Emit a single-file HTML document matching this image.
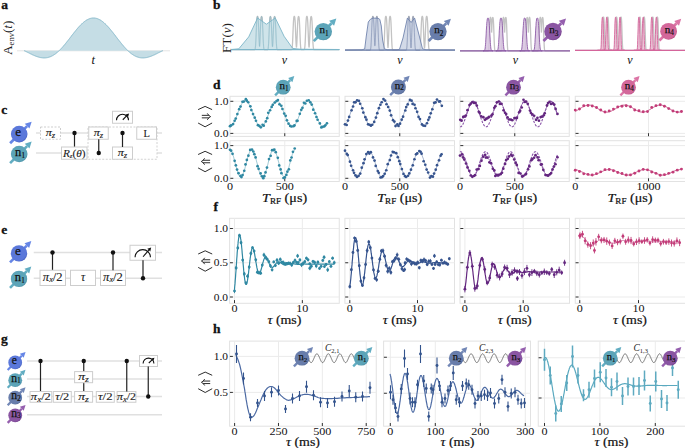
<!DOCTYPE html>
<html><head><meta charset="utf-8"><title>figure</title>
<style>html,body{margin:0;padding:0;background:#fff;width:685px;height:448px;overflow:hidden} svg{display:block}</style>
</head><body>
<svg width="685" height="448" viewBox="0 0 685 448"><defs><radialGradient id="ge" cx="0.42" cy="0.4" r="0.62"><stop offset="0" stop-color="#6f8ae2"/><stop offset="0.35" stop-color="#5b78da"/><stop offset="0.85" stop-color="#5b78da"/><stop offset="1" stop-color="#4660c0"/></radialGradient><radialGradient id="gn1" cx="0.42" cy="0.4" r="0.62"><stop offset="0" stop-color="#6eb0c2"/><stop offset="0.35" stop-color="#5ca4b8"/><stop offset="0.85" stop-color="#5ca4b8"/><stop offset="1" stop-color="#4a90a5"/></radialGradient><radialGradient id="gn2" cx="0.42" cy="0.4" r="0.62"><stop offset="0" stop-color="#7a8eb8"/><stop offset="0.35" stop-color="#687dab"/><stop offset="0.85" stop-color="#687dab"/><stop offset="1" stop-color="#566b98"/></radialGradient><radialGradient id="gn3" cx="0.42" cy="0.4" r="0.62"><stop offset="0" stop-color="#9a69b0"/><stop offset="0.35" stop-color="#8a55a2"/><stop offset="0.85" stop-color="#8a55a2"/><stop offset="1" stop-color="#74418e"/></radialGradient><radialGradient id="gn4" cx="0.42" cy="0.4" r="0.62"><stop offset="0" stop-color="#dc7ba8"/><stop offset="0.35" stop-color="#d3679a"/><stop offset="0.85" stop-color="#d3679a"/><stop offset="1" stop-color="#bf5588"/></radialGradient></defs><rect width="685" height="448" fill="#fff"/><text x="1.20" y="8.80" font-family="'Liberation Serif', serif" font-size="13.5" text-anchor="start" font-weight="bold" font-style="normal" fill="#111" stroke="#111" stroke-width="0.3">a</text>
<line x1="17" y1="50.8" x2="170" y2="50.8" stroke="#e4e4e4" stroke-width="1"/>
<path d="M24.0,50.6L24.5,50.8L24.9,51.0L25.4,51.2L25.9,51.5L26.3,51.7L26.8,51.9L27.2,52.1L27.7,52.4L28.2,52.6L28.6,52.8L29.1,53.1L29.6,53.3L30.0,53.5L30.5,53.8L30.9,54.0L31.4,54.2L31.9,54.4L32.3,54.7L32.8,54.9L33.3,55.1L33.7,55.3L34.2,55.5L34.7,55.7L35.1,55.9L35.6,56.1L36.0,56.2L36.5,56.4L37.0,56.6L37.4,56.7L37.9,56.9L38.4,57.0L38.8,57.2L39.3,57.3L39.8,57.4L40.2,57.5L40.7,57.6L41.1,57.7L41.6,57.7L42.1,57.8L42.5,57.8L43.0,57.9L43.5,57.9L43.9,57.9L44.4,57.9L44.9,57.9L45.3,57.9L45.8,57.8L46.2,57.8L46.7,57.7L47.2,57.6L47.6,57.6L48.1,57.4L48.6,57.3L49.0,57.2L49.5,57.0L49.9,56.9L50.4,56.7L50.9,56.5L51.3,56.3L51.8,56.1L52.3,55.8L52.7,55.6L53.2,55.3L53.7,55.0L54.1,54.7L54.6,54.4L55.0,54.1L55.5,53.8L56.0,53.4L56.4,53.1L56.9,52.7L57.4,52.3L57.8,51.9L58.3,51.5L58.8,51.0L59.2,50.6L59.7,50.1L60.1,49.7L60.6,49.2L61.1,48.7L61.5,48.2L62.0,47.7L62.5,47.2L62.9,46.7L63.4,46.2L63.8,45.6L64.3,45.1L64.8,44.5L65.2,43.9L65.7,43.4L66.2,42.8L66.6,42.2L67.1,41.6L67.6,41.0L68.0,40.5L68.5,39.9L68.9,39.3L69.4,38.7L69.9,38.1L70.3,37.5L70.8,36.9L71.3,36.2L71.7,35.6L72.2,35.0L72.7,34.4L73.1,33.8L73.6,33.3L74.0,32.7L74.5,32.1L75.0,31.5L75.4,30.9L75.9,30.4L76.4,29.8L76.8,29.2L77.3,28.7L77.7,28.1L78.2,27.6L78.7,27.1L79.1,26.6L79.6,26.1L80.1,25.6L80.5,25.1L81.0,24.6L81.5,24.2L81.9,23.8L82.4,23.3L82.8,22.9L83.3,22.5L83.8,22.1L84.2,21.8L84.7,21.4L85.2,21.1L85.6,20.7L86.1,20.4L86.5,20.1L87.0,19.9L87.5,19.6L87.9,19.4L88.4,19.2L88.9,19.0L89.3,18.8L89.8,18.6L90.3,18.5L90.7,18.3L91.2,18.2L91.6,18.2L92.1,18.1L92.6,18.0L93.0,18.0L93.5,18.0L94.0,18.0L94.4,18.0L94.9,18.1L95.4,18.2L95.8,18.2L96.3,18.3L96.7,18.5L97.2,18.6L97.7,18.8L98.1,19.0L98.6,19.2L99.1,19.4L99.5,19.6L100.0,19.9L100.5,20.1L100.9,20.4L101.4,20.7L101.8,21.1L102.3,21.4L102.8,21.8L103.2,22.1L103.7,22.5L104.2,22.9L104.6,23.3L105.1,23.8L105.5,24.2L106.0,24.6L106.5,25.1L106.9,25.6L107.4,26.1L107.9,26.6L108.3,27.1L108.8,27.6L109.3,28.1L109.7,28.7L110.2,29.2L110.6,29.8L111.1,30.4L111.6,30.9L112.0,31.5L112.5,32.1L113.0,32.7L113.4,33.3L113.9,33.8L114.3,34.4L114.8,35.0L115.3,35.6L115.7,36.2L116.2,36.9L116.7,37.5L117.1,38.1L117.6,38.7L118.1,39.3L118.5,39.9L119.0,40.5L119.4,41.0L119.9,41.6L120.4,42.2L120.8,42.8L121.3,43.4L121.8,43.9L122.2,44.5L122.7,45.1L123.2,45.6L123.6,46.2L124.1,46.7L124.5,47.2L125.0,47.7L125.5,48.2L125.9,48.7L126.4,49.2L126.9,49.7L127.3,50.1L127.8,50.6L128.2,51.0L128.7,51.5L129.2,51.9L129.6,52.3L130.1,52.7L130.6,53.1L131.0,53.4L131.5,53.8L132.0,54.1L132.4,54.4L132.9,54.7L133.3,55.0L133.8,55.3L134.3,55.6L134.7,55.8L135.2,56.1L135.7,56.3L136.1,56.5L136.6,56.7L137.1,56.9L137.5,57.0L138.0,57.2L138.4,57.3L138.9,57.4L139.4,57.6L139.8,57.6L140.3,57.7L140.8,57.8L141.2,57.8L141.7,57.9L142.2,57.9L142.6,57.9L143.1,57.9L143.5,57.9L144.0,57.9L144.5,57.8L144.9,57.8L145.4,57.7L145.9,57.7L146.3,57.6L146.8,57.5L147.2,57.4L147.7,57.3L148.2,57.2L148.6,57.0L149.1,56.9L149.6,56.7L150.0,56.6L150.5,56.4L151.0,56.2L151.4,56.1L151.9,55.9L152.3,55.7L152.8,55.5L153.3,55.3L153.7,55.1L154.2,54.9L154.7,54.7L155.1,54.4L155.6,54.2L156.1,54.0L156.5,53.8L157.0,53.5L157.4,53.3L157.9,53.1L158.4,52.8L158.8,52.6L159.3,52.4L159.8,52.1L160.2,51.9L160.7,51.7L161.1,51.5L161.6,51.2L162.1,51.0L162.5,50.8L163.0,50.6 L163,50.8 L24,50.8 Z" fill="#c5dde5"/>
<path d="M24.0,50.6L24.5,50.8L24.9,51.0L25.4,51.2L25.9,51.5L26.3,51.7L26.8,51.9L27.2,52.1L27.7,52.4L28.2,52.6L28.6,52.8L29.1,53.1L29.6,53.3L30.0,53.5L30.5,53.8L30.9,54.0L31.4,54.2L31.9,54.4L32.3,54.7L32.8,54.9L33.3,55.1L33.7,55.3L34.2,55.5L34.7,55.7L35.1,55.9L35.6,56.1L36.0,56.2L36.5,56.4L37.0,56.6L37.4,56.7L37.9,56.9L38.4,57.0L38.8,57.2L39.3,57.3L39.8,57.4L40.2,57.5L40.7,57.6L41.1,57.7L41.6,57.7L42.1,57.8L42.5,57.8L43.0,57.9L43.5,57.9L43.9,57.9L44.4,57.9L44.9,57.9L45.3,57.9L45.8,57.8L46.2,57.8L46.7,57.7L47.2,57.6L47.6,57.6L48.1,57.4L48.6,57.3L49.0,57.2L49.5,57.0L49.9,56.9L50.4,56.7L50.9,56.5L51.3,56.3L51.8,56.1L52.3,55.8L52.7,55.6L53.2,55.3L53.7,55.0L54.1,54.7L54.6,54.4L55.0,54.1L55.5,53.8L56.0,53.4L56.4,53.1L56.9,52.7L57.4,52.3L57.8,51.9L58.3,51.5L58.8,51.0L59.2,50.6L59.7,50.1L60.1,49.7L60.6,49.2L61.1,48.7L61.5,48.2L62.0,47.7L62.5,47.2L62.9,46.7L63.4,46.2L63.8,45.6L64.3,45.1L64.8,44.5L65.2,43.9L65.7,43.4L66.2,42.8L66.6,42.2L67.1,41.6L67.6,41.0L68.0,40.5L68.5,39.9L68.9,39.3L69.4,38.7L69.9,38.1L70.3,37.5L70.8,36.9L71.3,36.2L71.7,35.6L72.2,35.0L72.7,34.4L73.1,33.8L73.6,33.3L74.0,32.7L74.5,32.1L75.0,31.5L75.4,30.9L75.9,30.4L76.4,29.8L76.8,29.2L77.3,28.7L77.7,28.1L78.2,27.6L78.7,27.1L79.1,26.6L79.6,26.1L80.1,25.6L80.5,25.1L81.0,24.6L81.5,24.2L81.9,23.8L82.4,23.3L82.8,22.9L83.3,22.5L83.8,22.1L84.2,21.8L84.7,21.4L85.2,21.1L85.6,20.7L86.1,20.4L86.5,20.1L87.0,19.9L87.5,19.6L87.9,19.4L88.4,19.2L88.9,19.0L89.3,18.8L89.8,18.6L90.3,18.5L90.7,18.3L91.2,18.2L91.6,18.2L92.1,18.1L92.6,18.0L93.0,18.0L93.5,18.0L94.0,18.0L94.4,18.0L94.9,18.1L95.4,18.2L95.8,18.2L96.3,18.3L96.7,18.5L97.2,18.6L97.7,18.8L98.1,19.0L98.6,19.2L99.1,19.4L99.5,19.6L100.0,19.9L100.5,20.1L100.9,20.4L101.4,20.7L101.8,21.1L102.3,21.4L102.8,21.8L103.2,22.1L103.7,22.5L104.2,22.9L104.6,23.3L105.1,23.8L105.5,24.2L106.0,24.6L106.5,25.1L106.9,25.6L107.4,26.1L107.9,26.6L108.3,27.1L108.8,27.6L109.3,28.1L109.7,28.7L110.2,29.2L110.6,29.8L111.1,30.4L111.6,30.9L112.0,31.5L112.5,32.1L113.0,32.7L113.4,33.3L113.9,33.8L114.3,34.4L114.8,35.0L115.3,35.6L115.7,36.2L116.2,36.9L116.7,37.5L117.1,38.1L117.6,38.7L118.1,39.3L118.5,39.9L119.0,40.5L119.4,41.0L119.9,41.6L120.4,42.2L120.8,42.8L121.3,43.4L121.8,43.9L122.2,44.5L122.7,45.1L123.2,45.6L123.6,46.2L124.1,46.7L124.5,47.2L125.0,47.7L125.5,48.2L125.9,48.7L126.4,49.2L126.9,49.7L127.3,50.1L127.8,50.6L128.2,51.0L128.7,51.5L129.2,51.9L129.6,52.3L130.1,52.7L130.6,53.1L131.0,53.4L131.5,53.8L132.0,54.1L132.4,54.4L132.9,54.7L133.3,55.0L133.8,55.3L134.3,55.6L134.7,55.8L135.2,56.1L135.7,56.3L136.1,56.5L136.6,56.7L137.1,56.9L137.5,57.0L138.0,57.2L138.4,57.3L138.9,57.4L139.4,57.6L139.8,57.6L140.3,57.7L140.8,57.8L141.2,57.8L141.7,57.9L142.2,57.9L142.6,57.9L143.1,57.9L143.5,57.9L144.0,57.9L144.5,57.8L144.9,57.8L145.4,57.7L145.9,57.7L146.3,57.6L146.8,57.5L147.2,57.4L147.7,57.3L148.2,57.2L148.6,57.0L149.1,56.9L149.6,56.7L150.0,56.6L150.5,56.4L151.0,56.2L151.4,56.1L151.9,55.9L152.3,55.7L152.8,55.5L153.3,55.3L153.7,55.1L154.2,54.9L154.7,54.7L155.1,54.4L155.6,54.2L156.1,54.0L156.5,53.8L157.0,53.5L157.4,53.3L157.9,53.1L158.4,52.8L158.8,52.6L159.3,52.4L159.8,52.1L160.2,51.9L160.7,51.7L161.1,51.5L161.6,51.2L162.1,51.0L162.5,50.8L163.0,50.6" fill="none" stroke="#86b9cb" stroke-width="1"/>
<text x="93.30" y="64.30" font-family="'Liberation Serif', serif" font-size="12.5" text-anchor="middle" font-weight="normal" font-style="italic" fill="#111" >t</text>
<text transform="translate(12.3,55) rotate(-90)" font-family="'Liberation Serif', serif" font-size="12.5" fill="#222" textLength="34.5" lengthAdjust="spacingAndGlyphs">A<tspan font-size="8" dy="1.8">env</tspan><tspan dy="-1.8">(</tspan><tspan font-style="italic">t</tspan>)</text>
<text x="213.00" y="9.20" font-family="'Liberation Serif', serif" font-size="13.5" text-anchor="start" font-weight="bold" font-style="normal" fill="#111" stroke="#111" stroke-width="0.3">b</text>
<text transform="translate(231,38) rotate(-90)" font-family="'Liberation Serif', serif" font-size="12.5" text-anchor="middle" fill="#222" textLength="30" lengthAdjust="spacingAndGlyphs">FT(<tspan font-style="italic">ν</tspan>)</text>
<path d="M231.0,49.6L231.2,49.6L231.4,49.6L231.6,49.6L231.8,49.6L232.0,49.6L232.2,49.6L232.4,49.6L232.6,49.6L232.8,49.6L233.0,49.6L233.2,49.6L233.4,49.6L233.6,49.6L233.8,49.6L234.0,49.6L234.2,49.6L234.4,49.6L234.6,49.6L234.8,49.6L235.0,49.6L235.2,49.6L235.4,49.6L235.6,49.6L235.8,49.6L236.0,49.6L236.2,49.6L236.4,49.6L236.6,49.6L236.8,49.6L237.0,49.6L237.2,49.6L237.4,49.6L237.6,49.6L237.8,49.6L238.0,49.6L238.2,49.6L238.4,49.6L238.6,49.6L238.8,49.6L239.0,49.6L239.2,49.6L239.4,49.6L239.6,49.6L239.8,49.6L240.0,49.6L240.2,49.6L240.4,49.6L240.6,49.6L240.8,49.6L241.0,49.6L241.2,49.6L241.4,49.6L241.6,49.6L241.8,49.6L242.0,49.6L242.2,49.6L242.4,49.6L242.6,49.6L242.8,49.6L243.0,49.6L243.2,49.6L243.4,49.6L243.6,49.6L243.8,49.6L244.0,49.6L244.2,49.6L244.4,49.6L244.6,49.6L244.8,49.6L245.0,49.6L245.2,49.6L245.4,49.6L245.6,49.6L245.8,49.6L246.0,49.6L246.2,49.6L246.4,49.6L246.6,49.6L246.8,49.6L247.0,49.6L247.2,49.6L247.4,49.6L247.6,49.6L247.8,49.6L248.0,49.6L248.2,49.6L248.4,49.6L248.6,49.6L248.8,49.6L249.0,49.6L249.2,49.6L249.4,49.6L249.6,49.6L249.8,49.6L250.0,49.6L250.2,49.6L250.4,49.6L250.6,49.6L250.8,49.6L251.0,49.6L251.2,49.6L251.4,49.6L251.6,49.6L251.8,49.6L252.0,49.6L252.2,49.6L252.4,49.6L252.6,49.6L252.8,49.6L253.0,49.6L253.2,49.6L253.4,49.6L253.6,49.6L253.8,49.6L254.0,49.6L254.2,49.6L254.4,49.6L254.6,49.6L254.8,49.5L255.0,49.3L255.2,48.7L255.4,47.5L255.6,45.3L255.8,41.9L256.0,37.4L256.2,32.3L256.4,27.3L256.6,22.9L256.8,19.7L257.0,17.7L257.2,16.8L257.4,16.5L257.6,16.5L257.8,16.8L258.0,17.7L258.2,19.7L258.4,22.9L258.6,27.3L258.8,32.3L259.0,37.4L259.2,41.9L259.4,45.3L259.6,46.5L259.8,43.7L260.0,39.8L260.2,34.9L260.4,29.8L260.6,25.0L260.8,21.2L261.0,18.6L261.2,17.1L261.4,16.6L261.6,16.5L261.8,16.6L262.0,17.1L262.2,18.6L262.4,21.2L262.6,25.0L262.8,29.8L263.0,34.9L263.2,39.8L263.4,43.7L263.6,46.5L263.8,48.2L264.0,49.0L264.2,49.4L264.4,49.6L264.6,49.6L264.8,49.6L265.0,49.6L265.2,49.6L265.4,49.6L265.6,49.6L265.8,49.6L266.0,49.6L266.2,49.6L266.4,49.6L266.6,49.6L266.8,49.6L267.0,49.6L267.2,49.6L267.4,49.6L267.6,49.6L267.8,49.4L268.0,49.0L268.2,48.2L268.4,46.5L268.6,43.7L268.8,39.8L269.0,34.9L269.2,29.8L269.4,25.0L269.6,21.2L269.8,18.6L270.0,17.1L270.2,16.6L270.4,16.5L270.6,16.6L270.8,17.1L271.0,18.6L271.2,21.2L271.4,25.0L271.6,29.8L271.8,34.9L272.0,39.8L272.2,43.7L272.4,46.5L272.6,46.5L272.8,43.7L273.0,39.8L273.2,34.9L273.4,29.8L273.6,25.0L273.8,21.2L274.0,18.6L274.2,17.1L274.4,16.6L274.6,16.5L274.8,16.6L275.0,17.1L275.2,18.6L275.4,21.2L275.6,25.0L275.8,29.8L276.0,34.9L276.2,39.8L276.4,43.7L276.6,46.5L276.8,48.2L277.0,49.0L277.2,49.4L277.4,49.6L277.6,49.6L277.8,49.6L278.0,49.6L278.2,49.6L278.4,49.6L278.6,49.6L278.8,49.6L279.0,49.6L279.2,49.6L279.4,49.6L279.6,49.6L279.8,49.6L280.0,49.6L280.2,49.6L280.4,49.6L280.6,49.6L280.8,49.6L281.0,49.6L281.2,49.6L281.4,49.6L281.6,49.6L281.8,49.6L282.0,49.6L282.2,49.6L282.4,49.6L282.6,49.6L282.8,49.6L283.0,49.6L283.2,49.6L283.4,49.6L283.6,49.6L283.8,49.6L284.0,49.6L284.2,49.6L284.4,49.6L284.6,49.6L284.8,49.6L285.0,49.6L285.2,49.6L285.4,49.6L285.6,49.6L285.8,49.6L286.0,49.6L286.2,49.6L286.4,49.6L286.6,49.6L286.8,49.6L287.0,49.6L287.2,49.6L287.4,49.6L287.6,49.6L287.8,49.6L288.0,49.6L288.2,49.6L288.4,49.6L288.6,49.6L288.8,49.6L289.0,49.6L289.2,49.6L289.4,49.6L289.6,49.6L289.8,49.6L290.0,49.6L290.2,49.6L290.4,49.6L290.6,49.6L290.8,49.6L291.0,49.6L291.2,49.6L291.4,49.6L291.6,49.5L291.8,49.3L292.0,48.7L292.2,47.5L292.4,45.3L292.6,41.9L292.8,37.4L293.0,32.3L293.2,27.3L293.4,22.9L293.6,19.7L293.8,17.7L294.0,16.8L294.2,16.5L294.4,16.5L294.6,16.8L294.8,17.7L295.0,19.7L295.2,22.9L295.4,27.3L295.6,32.3L295.8,37.4L296.0,41.9L296.2,45.3L296.4,47.5L296.6,46.5L296.8,43.7L297.0,39.8L297.2,34.9L297.4,29.8L297.6,25.0L297.8,21.2L298.0,18.6L298.2,17.1L298.4,16.6L298.6,16.5L298.8,16.6L299.0,17.1L299.2,18.6L299.4,21.2L299.6,25.0L299.8,29.8L300.0,34.9L300.2,39.8L300.4,43.7L300.6,46.5L300.8,48.2L301.0,49.0L301.2,49.4L301.4,49.6L301.6,49.6L301.8,49.6L302.0,49.6L302.2,49.6L302.4,49.6L302.6,49.6L302.8,49.6L303.0,49.6L303.2,49.6L303.4,49.6L303.6,49.6L303.8,49.6L304.0,49.6L304.2,49.5L304.4,49.3L304.6,48.7L304.8,47.5L305.0,45.3L305.2,41.9L305.4,37.4L305.6,32.3L305.8,27.3L306.0,22.9L306.2,19.7L306.4,17.7L306.6,16.8L306.8,16.5L307.0,16.5L307.2,16.8L307.4,17.7L307.6,19.7L307.8,22.9L308.0,27.3L308.2,32.3L308.4,37.4L308.6,41.9L308.8,45.3L309.0,47.5L309.2,46.5L309.4,43.7L309.6,39.8L309.8,34.9L310.0,29.8L310.2,25.0L310.4,21.2L310.6,18.6L310.8,17.1L311.0,16.6L311.2,16.5L311.4,16.6L311.6,17.1L311.8,18.6L312.0,21.2L312.2,25.0L312.4,29.8L312.6,34.9L312.8,39.8L313.0,43.7L313.2,46.5L313.4,48.2L313.6,49.0L313.8,49.4L314.0,49.6L314.2,49.6L314.4,49.6L314.6,49.6L314.8,49.6L315.0,49.6L315.2,49.6L315.4,49.6L315.6,49.6L315.8,49.6L316.0,49.6L316.2,49.6L316.4,49.6L316.6,49.6L316.8,49.6L317.0,49.6L317.2,49.6L317.4,49.6L317.6,49.6L317.8,49.6L318.0,49.6L318.2,49.6L318.4,49.6L318.6,49.6L318.8,49.6L319.0,49.6L319.2,49.6L319.4,49.6L319.6,49.6L319.8,49.6L320.0,49.6L320.2,49.6L320.4,49.6L320.6,49.6L320.8,49.6L321.0,49.6L321.2,49.6L321.4,49.6L321.6,49.6L321.8,49.6L322.0,49.6L322.2,49.6L322.4,49.6L322.6,49.6L322.8,49.6L323.0,49.6L323.2,49.6L323.4,49.6L323.6,49.6L323.8,49.6L324.0,49.6L324.2,49.6L324.4,49.6L324.6,49.6L324.8,49.6L325.0,49.6L325.2,49.6L325.4,49.6L325.6,49.6L325.8,49.6L326.0,49.6L326.2,49.6L326.4,49.6L326.6,49.6L326.8,49.6L327.0,49.6L327.2,49.6L327.4,49.6L327.6,49.6L327.8,49.6L328.0,49.6L328.2,49.6L328.4,49.6L328.6,49.6L328.8,49.6L329.0,49.6L329.2,49.6L329.4,49.6L329.6,49.6L329.8,49.6L330.0,49.6L330.2,49.6L330.4,49.6L330.6,49.6L330.8,49.6L331.0,49.6L331.2,49.6L331.4,49.6L331.6,49.6L331.8,49.6L332.0,49.6L332.2,49.6L332.4,49.6L332.6,49.6L332.8,49.6L333.0,49.6L333.2,49.6L333.4,49.6L333.6,49.6L333.8,49.6L334.0,49.6L334.2,49.6L334.4,49.6L334.6,49.6L334.8,49.6L335.0,49.6L335.2,49.6L335.4,49.6L335.6,49.6L335.8,49.6L336.0,49.6L336.2,49.6L336.4,49.6L336.6,49.6L336.8,49.6L337.0,49.6L337.2,49.6L337.4,49.6L337.6,49.6L337.8,49.6L338.0,49.6L338.2,49.6L338.4,49.6L338.6,49.6L338.8,49.6L339.0,49.6" fill="none" stroke="#c3c3c3" stroke-width="1.3"/>
<path d="M231.0,49.5L238.8,48.8L248.7,36.9L257.6,18.0L266.4,24.2L275.3,18.0L284.1,36.3L292.7,48.4L300.0,49.2L339.5,49.5 L339.50,49.6 L231.00,49.6 Z" fill="#c2dce4" fill-opacity="0.78"/>
<path d="M231.0,49.5L238.8,48.8L248.7,36.9L257.6,18.0L266.4,24.2L275.3,18.0L284.1,36.3L292.7,48.4L300.0,49.2L339.5,49.5" fill="none" stroke="#7db5c8" stroke-width="0.9"/>
<path d="M250.0,49.6L250.2,49.6L250.4,49.6L250.6,49.6L250.8,49.6L251.0,49.6L251.2,49.6L251.4,49.6L251.6,49.6L251.8,49.6L252.0,49.6L252.2,49.6L252.4,49.6L252.6,49.6L252.8,49.6L253.0,49.6L253.2,49.6L253.4,49.6L253.6,49.6L253.8,49.6L254.0,49.6L254.2,49.6L254.4,49.6L254.6,49.6L254.8,49.5L255.0,49.3L255.2,48.7L255.4,47.5L255.6,45.3L255.8,41.9L256.0,37.4L256.2,32.3L256.4,27.3L256.6,22.9L256.8,19.7L257.0,17.7L257.2,16.8L257.4,16.5L257.6,16.5L257.8,16.8L258.0,17.7L258.2,19.7L258.4,22.9L258.6,27.3L258.8,32.3L259.0,37.4L259.2,41.9L259.4,45.3L259.6,46.5L259.8,43.7L260.0,39.8L260.2,34.9L260.4,29.8L260.6,25.0L260.8,21.2L261.0,18.6L261.2,17.1L261.4,16.6L261.6,16.5L261.8,16.6L262.0,17.1L262.2,18.6L262.4,21.2L262.6,25.0L262.8,29.8L263.0,34.9L263.2,39.8L263.4,43.7L263.6,46.5L263.8,48.2L264.0,49.0L264.2,49.4L264.4,49.6L264.6,49.6L264.8,49.6L265.0,49.6L265.2,49.6L265.4,49.6L265.6,49.6L265.8,49.6L266.0,49.6L266.2,49.6L266.4,49.6L266.6,49.6L266.8,49.6L267.0,49.6L267.2,49.6L267.4,49.6L267.6,49.6L267.8,49.4L268.0,49.0L268.2,48.2L268.4,46.5L268.6,43.7L268.8,39.8L269.0,34.9L269.2,29.8L269.4,25.0L269.6,21.2L269.8,18.6L270.0,17.1L270.2,16.6L270.4,16.5L270.6,16.6L270.8,17.1L271.0,18.6L271.2,21.2L271.4,25.0L271.6,29.8L271.8,34.9L272.0,39.8L272.2,43.7L272.4,46.5L272.6,46.5L272.8,43.7L273.0,39.8L273.2,34.9L273.4,29.8L273.6,25.0L273.8,21.2L274.0,18.6L274.2,17.1L274.4,16.6L274.6,16.5L274.8,16.6L275.0,17.1L275.2,18.6L275.4,21.2L275.6,25.0L275.8,29.8L276.0,34.9L276.2,39.8L276.4,43.7L276.6,46.5L276.8,48.2L277.0,49.0L277.2,49.4L277.4,49.6L277.6,49.6L277.8,49.6L278.0,49.6L278.2,49.6L278.4,49.6L278.6,49.6L278.8,49.6L279.0,49.6L279.2,49.6L279.4,49.6L279.6,49.6L279.8,49.6L280.0,49.6L280.2,49.6L280.4,49.6L280.6,49.6L280.8,49.6L281.0,49.6L281.2,49.6L281.4,49.6L281.6,49.6L281.8,49.6L282.0,49.6" fill="none" stroke="#7db5c8" stroke-opacity="0.5" stroke-width="1"/>
<line x1="231" y1="49.6" x2="339.5" y2="49.6" stroke="#7db5c8" stroke-width="1.1"/>
<line x1="313.76" y1="41.14" x2="331.60" y2="23.30" stroke="#62adc2" stroke-width="2.78"/>
<polygon points="336.34,18.56 334.07,25.76 329.14,20.83" fill="#62adc2"/>
<circle cx="323.30" cy="31.60" r="8.70" fill="url(#gn1)"/>
<text x="319.54" y="33.43" font-family="'Liberation Serif', serif" font-size="11.00" fill="#111" stroke="#111" stroke-width="0.25">n<tspan font-size="7.26" dy="2.17" stroke-width="0.15">1</tspan></text>
<text x="284.50" y="64.00" font-family="'Liberation Serif', serif" font-size="12" text-anchor="middle" font-weight="normal" font-style="italic" fill="#111" >ν</text>
<path d="M345.0,50.1L345.2,50.1L345.4,50.1L345.6,50.1L345.8,50.1L346.0,50.1L346.2,50.1L346.4,50.1L346.6,50.1L346.8,50.1L347.0,50.1L347.2,50.1L347.4,50.1L347.6,50.1L347.8,50.1L348.0,50.1L348.2,50.1L348.4,50.1L348.6,50.1L348.8,50.1L349.0,50.1L349.2,50.1L349.4,50.1L349.6,50.1L349.8,50.1L350.0,50.1L350.2,50.1L350.4,50.1L350.6,50.1L350.8,50.1L351.0,50.1L351.2,50.1L351.4,50.1L351.6,50.1L351.8,50.1L352.0,50.1L352.2,50.1L352.4,50.1L352.6,50.1L352.8,50.1L353.0,50.1L353.2,50.1L353.4,50.1L353.6,50.1L353.8,50.1L354.0,50.1L354.2,50.1L354.4,50.1L354.6,50.1L354.8,50.1L355.0,50.1L355.2,50.1L355.4,50.1L355.6,50.1L355.8,50.1L356.0,50.1L356.2,50.1L356.4,50.1L356.6,50.1L356.8,50.1L357.0,50.1L357.2,50.1L357.4,50.1L357.6,50.1L357.8,50.1L358.0,50.1L358.2,50.1L358.4,50.1L358.6,50.1L358.8,50.1L359.0,50.1L359.2,50.1L359.4,50.1L359.6,50.1L359.8,50.1L360.0,50.1L360.2,50.1L360.4,50.1L360.6,50.1L360.8,50.1L361.0,50.1L361.2,50.1L361.4,50.1L361.6,50.1L361.8,50.1L362.0,50.1L362.2,50.1L362.4,50.1L362.6,50.1L362.8,50.1L363.0,50.1L363.2,50.1L363.4,50.1L363.6,50.1L363.8,50.1L364.0,50.1L364.2,50.1L364.4,50.1L364.6,50.1L364.8,50.1L365.0,50.1L365.2,50.1L365.4,50.1L365.6,50.1L365.8,50.1L366.0,50.1L366.2,50.1L366.4,50.1L366.6,50.1L366.8,50.1L367.0,50.1L367.2,50.1L367.4,50.1L367.6,50.1L367.8,50.1L368.0,50.1L368.2,50.1L368.4,50.1L368.6,50.1L368.8,50.1L369.0,50.1L369.2,50.1L369.4,50.1L369.6,50.1L369.8,50.1L370.0,50.1L370.2,50.0L370.4,49.8L370.6,49.2L370.8,47.9L371.0,45.7L371.2,42.3L371.4,37.7L371.6,32.6L371.8,27.5L372.0,23.0L372.2,19.7L372.4,17.7L372.6,16.8L372.8,16.5L373.0,16.5L373.2,16.8L373.4,17.7L373.6,19.7L373.8,23.0L374.0,27.5L374.2,32.6L374.4,37.7L374.6,42.3L374.8,45.7L375.0,45.7L375.2,42.3L375.4,37.7L375.6,32.6L375.8,27.5L376.0,23.0L376.2,19.7L376.4,17.7L376.6,16.8L376.8,16.5L377.0,16.5L377.2,16.8L377.4,17.7L377.6,19.7L377.8,23.0L378.0,27.5L378.2,32.6L378.4,37.7L378.6,42.3L378.8,45.7L379.0,47.9L379.2,49.2L379.4,49.8L379.6,50.0L379.8,50.1L380.0,50.1L380.2,50.1L380.4,50.1L380.6,50.1L380.8,50.1L381.0,50.1L381.2,50.1L381.4,50.1L381.6,50.1L381.8,50.1L382.0,50.1L382.2,50.1L382.4,50.1L382.6,50.1L382.8,50.1L383.0,50.1L383.2,50.0L383.4,49.8L383.6,49.2L383.8,47.9L384.0,45.7L384.2,42.3L384.4,37.7L384.6,32.6L384.8,27.5L385.0,23.0L385.2,19.7L385.4,17.7L385.6,16.8L385.8,16.5L386.0,16.5L386.2,16.8L386.4,17.7L386.6,19.7L386.8,23.0L387.0,27.5L387.2,32.6L387.4,37.7L387.6,42.3L387.8,45.7L388.0,47.9L388.2,45.7L388.4,42.3L388.6,37.7L388.8,32.6L389.0,27.5L389.2,23.0L389.4,19.7L389.6,17.7L389.8,16.8L390.0,16.5L390.2,16.5L390.4,16.8L390.6,17.7L390.8,19.7L391.0,23.0L391.2,27.5L391.4,32.6L391.6,37.7L391.8,42.3L392.0,45.7L392.2,47.9L392.4,49.2L392.6,49.8L392.8,50.0L393.0,50.1L393.2,50.1L393.4,50.1L393.6,50.1L393.8,50.1L394.0,50.1L394.2,50.1L394.4,50.1L394.6,50.1L394.8,50.1L395.0,50.1L395.2,50.1L395.4,50.1L395.6,50.1L395.8,50.1L396.0,50.1L396.2,50.1L396.4,50.1L396.6,50.1L396.8,50.1L397.0,50.1L397.2,50.1L397.4,50.1L397.6,50.1L397.8,50.1L398.0,50.1L398.2,50.1L398.4,50.1L398.6,50.1L398.8,50.1L399.0,50.1L399.2,50.1L399.4,50.1L399.6,50.1L399.8,50.1L400.0,50.1L400.2,50.1L400.4,50.1L400.6,50.1L400.8,50.1L401.0,50.1L401.2,50.1L401.4,50.1L401.6,50.1L401.8,50.1L402.0,50.1L402.2,50.1L402.4,50.1L402.6,50.1L402.8,50.1L403.0,50.1L403.2,50.1L403.4,50.1L403.6,50.1L403.8,50.1L404.0,50.1L404.2,50.1L404.4,50.1L404.6,50.1L404.8,50.1L405.0,50.1L405.2,50.1L405.4,50.1L405.6,50.1L405.8,50.1L406.0,50.1L406.2,50.0L406.4,49.8L406.6,49.2L406.8,47.9L407.0,45.7L407.2,42.3L407.4,37.7L407.6,32.6L407.8,27.5L408.0,23.0L408.2,19.7L408.4,17.7L408.6,16.8L408.8,16.5L409.0,16.5L409.2,16.8L409.4,17.7L409.6,19.7L409.8,23.0L410.0,27.5L410.2,32.6L410.4,37.7L410.6,42.3L410.8,45.7L411.0,47.9L411.2,45.7L411.4,42.3L411.6,37.7L411.8,32.6L412.0,27.5L412.2,23.0L412.4,19.7L412.6,17.7L412.8,16.8L413.0,16.5L413.2,16.5L413.4,16.8L413.6,17.7L413.8,19.7L414.0,23.0L414.2,27.5L414.4,32.6L414.6,37.7L414.8,42.3L415.0,45.7L415.2,47.9L415.4,49.2L415.6,49.8L415.8,50.0L416.0,50.1L416.2,50.1L416.4,50.1L416.6,50.1L416.8,50.1L417.0,50.1L417.2,50.1L417.4,50.1L417.6,50.1L417.8,50.1L418.0,50.1L418.2,50.1L418.4,50.1L418.6,50.1L418.8,50.1L419.0,50.1L419.2,50.1L419.4,50.1L419.6,50.0L419.8,49.8L420.0,49.2L420.2,47.9L420.4,45.7L420.6,42.3L420.8,37.7L421.0,32.6L421.2,27.5L421.4,23.0L421.6,19.7L421.8,17.7L422.0,16.8L422.2,16.5L422.4,16.5L422.6,16.8L422.8,17.7L423.0,19.7L423.2,23.0L423.4,27.5L423.6,32.6L423.8,37.7L424.0,42.3L424.2,45.7L424.4,47.9L424.6,47.9L424.8,45.7L425.0,42.3L425.2,37.7L425.4,32.6L425.6,27.5L425.8,23.0L426.0,19.7L426.2,17.7L426.4,16.8L426.6,16.5L426.8,16.5L427.0,16.8L427.2,17.7L427.4,19.7L427.6,23.0L427.8,27.5L428.0,32.6L428.2,37.7L428.4,42.3L428.6,45.7L428.8,47.9L429.0,49.2L429.2,49.8L429.4,50.0L429.6,50.1L429.8,50.1L430.0,50.1L430.2,50.1L430.4,50.1L430.6,50.1L430.8,50.1L431.0,50.1L431.2,50.1L431.4,50.1L431.6,50.1L431.8,50.1L432.0,50.1L432.2,50.1L432.4,50.1L432.6,50.1L432.8,50.1L433.0,50.1L433.2,50.1L433.4,50.1L433.6,50.1L433.8,50.1L434.0,50.1L434.2,50.1L434.4,50.1L434.6,50.1L434.8,50.1L435.0,50.1L435.2,50.1L435.4,50.1L435.6,50.1L435.8,50.1L436.0,50.1L436.2,50.1L436.4,50.1L436.6,50.1L436.8,50.1L437.0,50.1L437.2,50.1L437.4,50.1L437.6,50.1L437.8,50.1L438.0,50.1L438.2,50.1L438.4,50.1L438.6,50.1L438.8,50.1L439.0,50.1L439.2,50.1L439.4,50.1L439.6,50.1L439.8,50.1L440.0,50.1L440.2,50.1L440.4,50.1L440.6,50.1L440.8,50.1L441.0,50.1L441.2,50.1L441.4,50.1L441.6,50.1L441.8,50.1L442.0,50.1L442.2,50.1L442.4,50.1L442.6,50.1L442.8,50.1L443.0,50.1L443.2,50.1L443.4,50.1L443.6,50.1L443.8,50.1L444.0,50.1L444.2,50.1L444.4,50.1L444.6,50.1L444.8,50.1L445.0,50.1L445.2,50.1L445.4,50.1L445.6,50.1L445.8,50.1L446.0,50.1L446.2,50.1L446.4,50.1L446.6,50.1L446.8,50.1L447.0,50.1L447.2,50.1L447.4,50.1L447.6,50.1L447.8,50.1L448.0,50.1L448.2,50.1L448.4,50.1L448.6,50.1L448.8,50.1L449.0,50.1L449.2,50.1L449.4,50.1L449.6,50.1L449.8,50.1L450.0,50.1L450.2,50.1L450.4,50.1L450.6,50.1L450.8,50.1L451.0,50.1L451.2,50.1L451.4,50.1L451.6,50.1L451.8,50.1L452.0,50.1L452.2,50.1L452.4,50.1L452.6,50.1L452.8,50.1L453.0,50.1L453.2,50.1L453.4,50.1L453.6,50.1L453.8,50.1L454.0,50.1L454.2,50.1L454.4,50.1L454.6,50.1L454.8,50.1L455.0,50.1" fill="none" stroke="#c3c3c3" stroke-width="1.3"/>
<path d="M345.0,50.0L362.0,49.8L364.7,49.0L366.3,36.0L368.3,22.0L370.5,19.2L373.3,18.1L378.0,18.3L379.8,19.4L381.3,26.0L382.6,40.0L384.4,48.8L387.0,49.8L397.0,49.8L399.5,49.3L403.0,38.0L407.4,18.1L411.1,22.5L414.6,18.1L418.5,33.0L422.5,48.8L426.0,49.8L455.0,50.0 L455.00,50.1 L345.00,50.1 Z" fill="#c6cfe1" fill-opacity="0.78"/>
<path d="M345.0,50.0L362.0,49.8L364.7,49.0L366.3,36.0L368.3,22.0L370.5,19.2L373.3,18.1L378.0,18.3L379.8,19.4L381.3,26.0L382.6,40.0L384.4,48.8L387.0,49.8L397.0,49.8L399.5,49.3L403.0,38.0L407.4,18.1L411.1,22.5L414.6,18.1L418.5,33.0L422.5,48.8L426.0,49.8L455.0,50.0" fill="none" stroke="#7284ae" stroke-width="0.9"/>
<path d="M366.0,50.1L366.2,50.1L366.4,50.1L366.6,50.1L366.8,50.1L367.0,50.1L367.2,50.1L367.4,50.1L367.6,50.1L367.8,50.1L368.0,50.1L368.2,50.1L368.4,50.1L368.6,50.1L368.8,50.1L369.0,50.1L369.2,50.1L369.4,50.1L369.6,50.1L369.8,50.1L370.0,50.1L370.2,50.0L370.4,49.8L370.6,49.2L370.8,47.9L371.0,45.7L371.2,42.3L371.4,37.7L371.6,32.6L371.8,27.5L372.0,23.0L372.2,19.7L372.4,17.7L372.6,16.8L372.8,16.5L373.0,16.5L373.2,16.8L373.4,17.7L373.6,19.7L373.8,23.0L374.0,27.5L374.2,32.6L374.4,37.7L374.6,42.3L374.8,45.7L375.0,45.7L375.2,42.3L375.4,37.7L375.6,32.6L375.8,27.5L376.0,23.0L376.2,19.7L376.4,17.7L376.6,16.8L376.8,16.5L377.0,16.5L377.2,16.8L377.4,17.7L377.6,19.7L377.8,23.0L378.0,27.5L378.2,32.6L378.4,37.7L378.6,42.3L378.8,45.7L379.0,47.9L379.2,49.2L379.4,49.8L379.6,50.0L379.8,50.1L380.0,50.1L380.2,50.1L380.4,50.1L380.6,50.1L380.8,50.1L381.0,50.1L381.2,50.1L381.4,50.1L381.6,50.1L381.8,50.1L382.0,50.1L382.2,50.1L382.4,50.1L382.6,50.1L382.8,50.1L383.0,50.1L383.2,50.1L383.4,50.1L383.6,50.1L383.8,50.1L384.0,50.1L384.2,50.1L384.4,50.1L384.6,50.1L384.8,50.1L385.0,50.1L385.2,50.1L385.4,50.1L385.6,50.1L385.8,50.1L386.0,50.1L386.2,50.1L386.4,50.1L386.6,50.1L386.8,50.1L387.0,50.1L387.2,50.1L387.4,50.1L387.6,50.1L387.8,50.1L388.0,50.1L388.2,50.1L388.4,50.1L388.6,50.1L388.8,50.1L389.0,50.1L389.2,50.1L389.4,50.1L389.6,50.1L389.8,50.1L390.0,50.1L390.2,50.1L390.4,50.1L390.6,50.1L390.8,50.1L391.0,50.1L391.2,50.1L391.4,50.1L391.6,50.1L391.8,50.1L392.0,50.1L392.2,50.1L392.4,50.1L392.6,50.1L392.8,50.1L393.0,50.1L393.2,50.1L393.4,50.1L393.6,50.1L393.8,50.1L394.0,50.1L394.2,50.1L394.4,50.1L394.6,50.1L394.8,50.1L395.0,50.1L395.2,50.1L395.4,50.1L395.6,50.1L395.8,50.1L396.0,50.1L396.2,50.1L396.4,50.1L396.6,50.1L396.8,50.1L397.0,50.1L397.2,50.1L397.4,50.1L397.6,50.1L397.8,50.1L398.0,50.1L398.2,50.1L398.4,50.1L398.6,50.1L398.8,50.1L399.0,50.1L399.2,50.1L399.4,50.1L399.6,50.1L399.8,50.1L400.0,50.1L400.2,50.1L400.4,50.1L400.6,50.1L400.8,50.1L401.0,50.1L401.2,50.1L401.4,50.1L401.6,50.1L401.8,50.1L402.0,50.1L402.2,50.1L402.4,50.1L402.6,50.1L402.8,50.1L403.0,50.1L403.2,50.1L403.4,50.1L403.6,50.1L403.8,50.1L404.0,50.1L404.2,50.1L404.4,50.1L404.6,50.1L404.8,50.1L405.0,50.1L405.2,50.1L405.4,50.1L405.6,50.1L405.8,50.1L406.0,50.1L406.2,50.0L406.4,49.8L406.6,49.2L406.8,47.9L407.0,45.7L407.2,42.3L407.4,37.7L407.6,32.6L407.8,27.5L408.0,23.0L408.2,19.7L408.4,17.7L408.6,16.8L408.8,16.5L409.0,16.5L409.2,16.8L409.4,17.7L409.6,19.7L409.8,23.0L410.0,27.5L410.2,32.6L410.4,37.7L410.6,42.3L410.8,45.7L411.0,47.9L411.2,45.7L411.4,42.3L411.6,37.7L411.8,32.6L412.0,27.5L412.2,23.0L412.4,19.7L412.6,17.7L412.8,16.8L413.0,16.5L413.2,16.5L413.4,16.8L413.6,17.7L413.8,19.7L414.0,23.0L414.2,27.5L414.4,32.6L414.6,37.7L414.8,42.3L415.0,45.7L415.2,47.9L415.4,49.2L415.6,49.8L415.8,50.0L416.0,50.1L416.2,50.1L416.4,50.1L416.6,50.1L416.8,50.1L417.0,50.1L417.2,50.1L417.4,50.1L417.6,50.1L417.8,50.1L418.0,50.1L418.2,50.1L418.4,50.1L418.6,50.1L418.8,50.1L419.0,50.1L419.2,50.1L419.4,50.1L419.6,50.1L419.8,50.1L420.0,50.1" fill="none" stroke="#7284ae" stroke-opacity="0.5" stroke-width="1"/>
<line x1="345" y1="50.1" x2="455" y2="50.1" stroke="#7284ae" stroke-width="1.1"/>
<line x1="428.57" y1="41.03" x2="446.21" y2="23.39" stroke="#7287b6" stroke-width="2.75"/>
<polygon points="450.89,18.71 448.64,25.82 443.78,20.96" fill="#7287b6"/>
<circle cx="438.00" cy="31.60" r="8.60" fill="url(#gn2)"/>
<text x="434.24" y="33.41" font-family="'Liberation Serif', serif" font-size="11.00" fill="#111" stroke="#111" stroke-width="0.25">n<tspan font-size="7.26" dy="2.15" stroke-width="0.15">2</tspan></text>
<text x="400.00" y="64.00" font-family="'Liberation Serif', serif" font-size="12" text-anchor="middle" font-weight="normal" font-style="italic" fill="#111" >ν</text>
<path d="M460.0,50.8L460.2,50.8L460.4,50.8L460.6,50.8L460.8,50.8L461.0,50.8L461.2,50.8L461.4,50.8L461.6,50.8L461.8,50.8L462.0,50.8L462.2,50.8L462.4,50.8L462.6,50.8L462.8,50.8L463.0,50.8L463.2,50.8L463.4,50.8L463.6,50.8L463.8,50.8L464.0,50.8L464.2,50.8L464.4,50.8L464.6,50.8L464.8,50.8L465.0,50.8L465.2,50.8L465.4,50.8L465.6,50.8L465.8,50.8L466.0,50.8L466.2,50.8L466.4,50.8L466.6,50.8L466.8,50.8L467.0,50.8L467.2,50.8L467.4,50.8L467.6,50.8L467.8,50.8L468.0,50.8L468.2,50.8L468.4,50.8L468.6,50.8L468.8,50.8L469.0,50.8L469.2,50.8L469.4,50.8L469.6,50.8L469.8,50.8L470.0,50.8L470.2,50.8L470.4,50.8L470.6,50.8L470.8,50.8L471.0,50.8L471.2,50.8L471.4,50.8L471.6,50.8L471.8,50.8L472.0,50.8L472.2,50.8L472.4,50.8L472.6,50.8L472.8,50.8L473.0,50.8L473.2,50.8L473.4,50.8L473.6,50.8L473.8,50.8L474.0,50.8L474.2,50.8L474.4,50.8L474.6,50.8L474.8,50.8L475.0,50.8L475.2,50.8L475.4,50.8L475.6,50.8L475.8,50.8L476.0,50.8L476.2,50.8L476.4,50.8L476.6,50.8L476.8,50.8L477.0,50.8L477.2,50.8L477.4,50.8L477.6,50.8L477.8,50.8L478.0,50.8L478.2,50.8L478.4,50.8L478.6,50.8L478.8,50.8L479.0,50.8L479.2,50.8L479.4,50.8L479.6,50.8L479.8,50.8L480.0,50.8L480.2,50.8L480.4,50.8L480.6,50.8L480.8,50.8L481.0,50.8L481.2,50.8L481.4,50.8L481.6,50.8L481.8,50.8L482.0,50.8L482.2,50.8L482.4,50.8L482.6,50.8L482.8,50.8L483.0,50.8L483.2,50.8L483.4,50.8L483.6,50.8L483.8,50.8L484.0,50.8L484.2,50.8L484.4,50.8L484.6,50.8L484.8,50.8L485.0,50.8L485.2,50.8L485.4,50.8L485.6,50.8L485.8,50.8L486.0,50.8L486.2,50.8L486.4,50.8L486.6,50.8L486.8,50.8L487.0,50.8L487.2,50.8L487.4,50.8L487.6,50.8L487.8,50.8L488.0,50.8L488.2,50.7L488.4,50.3L488.6,49.3L488.8,47.2L489.0,43.6L489.2,38.5L489.4,32.6L489.6,26.9L489.8,22.3L490.0,19.3L490.2,17.9L490.4,17.5L490.6,17.5L490.8,17.9L491.0,19.3L491.2,22.3L491.4,26.9L491.6,32.6L491.8,29.7L492.0,24.4L492.2,20.6L492.4,18.5L492.6,17.6L492.8,17.5L493.0,17.6L493.2,18.5L493.4,20.6L493.6,24.4L493.8,29.7L494.0,35.6L494.2,41.2L494.4,45.6L494.6,48.5L494.8,49.9L495.0,50.5L495.2,50.7L495.4,50.8L495.6,50.8L495.8,50.8L496.0,50.8L496.2,50.8L496.4,50.8L496.6,50.8L496.8,50.8L497.0,50.8L497.2,50.8L497.4,50.8L497.6,50.8L497.8,50.8L498.0,50.8L498.2,50.8L498.4,50.8L498.6,50.8L498.8,50.8L499.0,50.8L499.2,50.8L499.4,50.8L499.6,50.8L499.8,50.8L500.0,50.8L500.2,50.8L500.4,50.8L500.6,50.8L500.8,50.8L501.0,50.8L501.2,50.7L501.4,50.3L501.6,49.3L501.8,47.2L502.0,43.6L502.2,38.5L502.4,32.6L502.6,26.9L502.8,22.3L503.0,19.3L503.2,17.9L503.4,17.5L503.6,17.5L503.8,17.9L504.0,19.3L504.2,22.3L504.4,26.9L504.6,32.6L504.8,29.7L505.0,24.4L505.2,20.6L505.4,18.5L505.6,17.6L505.8,17.5L506.0,17.6L506.2,18.5L506.4,20.6L506.6,24.4L506.8,29.7L507.0,35.6L507.2,41.2L507.4,45.6L507.6,48.5L507.8,49.9L508.0,50.5L508.2,50.7L508.4,50.8L508.6,50.8L508.8,50.8L509.0,50.8L509.2,50.8L509.4,50.8L509.6,50.8L509.8,50.8L510.0,50.8L510.2,50.8L510.4,50.8L510.6,50.8L510.8,50.8L511.0,50.8L511.2,50.8L511.4,50.8L511.6,50.8L511.8,50.8L512.0,50.8L512.2,50.8L512.4,50.8L512.6,50.8L512.8,50.8L513.0,50.8L513.2,50.8L513.4,50.8L513.6,50.8L513.8,50.8L514.0,50.8L514.2,50.8L514.4,50.8L514.6,50.8L514.8,50.8L515.0,50.8L515.2,50.8L515.4,50.8L515.6,50.8L515.8,50.8L516.0,50.8L516.2,50.8L516.4,50.8L516.6,50.8L516.8,50.8L517.0,50.8L517.2,50.8L517.4,50.8L517.6,50.8L517.8,50.8L518.0,50.8L518.2,50.8L518.4,50.8L518.6,50.8L518.8,50.8L519.0,50.8L519.2,50.8L519.4,50.8L519.6,50.8L519.8,50.8L520.0,50.8L520.2,50.8L520.4,50.8L520.6,50.8L520.8,50.8L521.0,50.8L521.2,50.8L521.4,50.8L521.6,50.8L521.8,50.8L522.0,50.8L522.2,50.8L522.4,50.8L522.6,50.8L522.8,50.8L523.0,50.8L523.2,50.8L523.4,50.8L523.6,50.8L523.8,50.8L524.0,50.8L524.2,50.8L524.4,50.8L524.6,50.8L524.8,50.7L525.0,50.5L525.2,49.9L525.4,48.5L525.6,45.6L525.8,41.2L526.0,35.6L526.2,29.7L526.4,24.4L526.6,20.6L526.8,18.5L527.0,17.6L527.2,17.5L527.4,17.6L527.6,18.5L527.8,20.6L528.0,24.4L528.2,29.7L528.4,32.6L528.6,26.9L528.8,22.3L529.0,19.3L529.2,17.9L529.4,17.5L529.6,17.5L529.8,17.9L530.0,19.3L530.2,22.3L530.4,26.9L530.6,32.6L530.8,38.5L531.0,43.6L531.2,47.2L531.4,49.3L531.6,50.3L531.8,50.7L532.0,50.8L532.2,50.8L532.4,50.8L532.6,50.8L532.8,50.8L533.0,50.8L533.2,50.8L533.4,50.8L533.6,50.8L533.8,50.8L534.0,50.8L534.2,50.8L534.4,50.8L534.6,50.8L534.8,50.8L535.0,50.8L535.2,50.8L535.4,50.8L535.6,50.8L535.8,50.8L536.0,50.8L536.2,50.8L536.4,50.8L536.6,50.8L536.8,50.8L537.0,50.8L537.2,50.8L537.4,50.8L537.6,50.8L537.8,50.8L538.0,50.7L538.2,50.3L538.4,49.3L538.6,47.2L538.8,43.6L539.0,38.5L539.2,32.6L539.4,26.9L539.6,22.3L539.8,19.3L540.0,17.9L540.2,17.5L540.4,17.5L540.6,17.9L540.8,19.3L541.0,22.3L541.2,26.9L541.4,32.6L541.6,29.7L541.8,24.4L542.0,20.6L542.2,18.5L542.4,17.6L542.6,17.5L542.8,17.6L543.0,18.5L543.2,20.6L543.4,24.4L543.6,29.7L543.8,35.6L544.0,41.2L544.2,45.6L544.4,48.5L544.6,49.9L544.8,50.5L545.0,50.7L545.2,50.8L545.4,50.8L545.6,50.8L545.8,50.8L546.0,50.8L546.2,50.8L546.4,50.8L546.6,50.8L546.8,50.8L547.0,50.8L547.2,50.8L547.4,50.8L547.6,50.8L547.8,50.8L548.0,50.8L548.2,50.8L548.4,50.8L548.6,50.8L548.8,50.8L549.0,50.8L549.2,50.8L549.4,50.8L549.6,50.8L549.8,50.8L550.0,50.8L550.2,50.8L550.4,50.8L550.6,50.8L550.8,50.8L551.0,50.8L551.2,50.8L551.4,50.8L551.6,50.8L551.8,50.8L552.0,50.8L552.2,50.8L552.4,50.8L552.6,50.8L552.8,50.8L553.0,50.8L553.2,50.8L553.4,50.8L553.6,50.8L553.8,50.8L554.0,50.8L554.2,50.8L554.4,50.8L554.6,50.8L554.8,50.8L555.0,50.8L555.2,50.8L555.4,50.8L555.6,50.8L555.8,50.8L556.0,50.8L556.2,50.8L556.4,50.8L556.6,50.8L556.8,50.8L557.0,50.8L557.2,50.8L557.4,50.8L557.6,50.8L557.8,50.8L558.0,50.8L558.2,50.8L558.4,50.8L558.6,50.8L558.8,50.8L559.0,50.8L559.2,50.8L559.4,50.8L559.6,50.8L559.8,50.8L560.0,50.8L560.2,50.8L560.4,50.8L560.6,50.8L560.8,50.8L561.0,50.8L561.2,50.8L561.4,50.8L561.6,50.8L561.8,50.8L562.0,50.8L562.2,50.8L562.4,50.8L562.6,50.8L562.8,50.8L563.0,50.8L563.2,50.8L563.4,50.8L563.6,50.8L563.8,50.8L564.0,50.8L564.2,50.8L564.4,50.8L564.6,50.8L564.8,50.8L565.0,50.8L565.2,50.8L565.4,50.8L565.6,50.8L565.8,50.8L566.0,50.8L566.2,50.8L566.4,50.8L566.6,50.8L566.8,50.8L567.0,50.8L567.2,50.8L567.4,50.8L567.6,50.8L567.8,50.8L568.0,50.8L568.2,50.8L568.4,50.8L568.6,50.8L568.8,50.8L569.0,50.8L569.2,50.8L569.4,50.8L569.6,50.8L569.8,50.8L570.0,50.8" fill="none" stroke="#c3c3c3" stroke-width="1.3"/>
<path d="M483.0,50.8L483.2,50.8L483.3,50.8L483.5,50.8L483.7,50.8L483.8,50.8L484.0,50.8L484.2,50.7L484.3,50.6L484.5,50.5L484.7,50.2L484.8,49.7L485.0,49.0L485.2,48.0L485.3,46.6L485.5,44.7L485.7,42.5L485.8,39.9L486.0,37.0L486.2,33.9L486.3,30.9L486.5,28.0L486.7,25.4L486.8,23.2L487.0,21.4L487.2,20.0L487.3,19.0L487.5,18.4L487.7,18.1L487.8,18.0L488.0,18.0L488.2,18.0L488.3,18.1L488.5,18.4L488.7,19.0L488.8,20.0L489.0,21.4L489.2,23.2L489.3,25.4L489.5,28.0L489.7,30.9L489.8,33.9L490.0,37.0L490.2,39.9L490.3,42.5L490.5,44.7L490.7,46.6L490.8,48.0L491.0,49.0L491.2,49.7L491.3,50.2L491.5,50.5L491.7,50.6L491.8,50.7L492.0,50.8L492.2,50.8L492.3,50.8L492.5,50.8L492.7,50.8L492.8,50.8L493.0,50.8 Z" fill="#d6c2de" fill-opacity="0.85" stroke="#8c5aa6" stroke-width="0.9"/>
<path d="M496.0,50.8L496.2,50.8L496.3,50.8L496.5,50.8L496.7,50.8L496.8,50.8L497.0,50.8L497.2,50.7L497.3,50.6L497.5,50.5L497.7,50.2L497.8,49.7L498.0,49.0L498.2,48.0L498.3,46.6L498.5,44.7L498.7,42.5L498.8,39.9L499.0,37.0L499.2,33.9L499.3,30.9L499.5,28.0L499.7,25.4L499.8,23.2L500.0,21.4L500.2,20.0L500.3,19.0L500.5,18.4L500.7,18.1L500.8,18.0L501.0,18.0L501.2,18.0L501.3,18.1L501.5,18.4L501.7,19.0L501.8,20.0L502.0,21.4L502.2,23.2L502.3,25.4L502.5,28.0L502.7,30.9L502.8,33.9L503.0,37.0L503.2,39.9L503.3,42.5L503.5,44.7L503.7,46.6L503.8,48.0L504.0,49.0L504.2,49.7L504.3,50.2L504.5,50.5L504.7,50.6L504.8,50.7L505.0,50.8L505.2,50.8L505.3,50.8L505.5,50.8L505.7,50.8L505.8,50.8L506.0,50.8 Z" fill="#d6c2de" fill-opacity="0.85" stroke="#8c5aa6" stroke-width="0.9"/>
<path d="M519.7,50.8L519.9,50.8L520.0,50.8L520.2,50.8L520.4,50.8L520.5,50.8L520.7,50.8L520.9,50.7L521.0,50.6L521.2,50.5L521.4,50.2L521.5,49.7L521.7,49.0L521.9,48.0L522.0,46.6L522.2,44.7L522.4,42.5L522.5,39.9L522.7,37.0L522.9,33.9L523.0,30.9L523.2,28.0L523.4,25.4L523.5,23.2L523.7,21.4L523.9,20.0L524.0,19.0L524.2,18.4L524.4,18.1L524.5,18.0L524.7,18.0L524.9,18.0L525.0,18.1L525.2,18.4L525.4,19.0L525.5,20.0L525.7,21.4L525.9,23.2L526.0,25.4L526.2,28.0L526.4,30.9L526.5,33.9L526.7,37.0L526.9,39.9L527.0,42.5L527.2,44.7L527.4,46.6L527.5,48.0L527.7,49.0L527.9,49.7L528.0,50.2L528.2,50.5L528.4,50.6L528.5,50.7L528.7,50.8L528.9,50.8L529.0,50.8L529.2,50.8L529.4,50.8L529.5,50.8L529.7,50.8 Z" fill="#d6c2de" fill-opacity="0.85" stroke="#8c5aa6" stroke-width="0.9"/>
<path d="M532.3,50.8L532.5,50.8L532.6,50.8L532.8,50.8L533.0,50.8L533.1,50.8L533.3,50.8L533.5,50.7L533.6,50.6L533.8,50.5L534.0,50.2L534.1,49.7L534.3,49.0L534.5,48.0L534.6,46.6L534.8,44.7L535.0,42.5L535.1,39.9L535.3,37.0L535.5,33.9L535.6,30.9L535.8,28.0L536.0,25.4L536.1,23.2L536.3,21.4L536.5,20.0L536.6,19.0L536.8,18.4L537.0,18.1L537.1,18.0L537.3,18.0L537.5,18.0L537.6,18.1L537.8,18.4L538.0,19.0L538.1,20.0L538.3,21.4L538.5,23.2L538.6,25.4L538.8,28.0L539.0,30.9L539.1,33.9L539.3,37.0L539.5,39.9L539.6,42.5L539.8,44.7L540.0,46.6L540.1,48.0L540.3,49.0L540.5,49.7L540.6,50.2L540.8,50.5L541.0,50.6L541.1,50.7L541.3,50.8L541.5,50.8L541.6,50.8L541.8,50.8L542.0,50.8L542.1,50.8L542.3,50.8 Z" fill="#d6c2de" fill-opacity="0.85" stroke="#8c5aa6" stroke-width="0.9"/>
<line x1="460" y1="50.8" x2="570" y2="50.8" stroke="#8c5aa6" stroke-width="1.2"/>
<line x1="543.46" y1="41.04" x2="561.30" y2="23.20" stroke="#955fae" stroke-width="2.78"/>
<polygon points="566.04,18.46 563.77,25.66 558.84,20.73" fill="#955fae"/>
<circle cx="553.00" cy="31.50" r="8.70" fill="url(#gn3)"/>
<text x="549.23" y="33.33" font-family="'Liberation Serif', serif" font-size="11.00" fill="#111" stroke="#111" stroke-width="0.25">n<tspan font-size="7.26" dy="2.17" stroke-width="0.15">3</tspan></text>
<text x="515.50" y="64.00" font-family="'Liberation Serif', serif" font-size="12" text-anchor="middle" font-weight="normal" font-style="italic" fill="#111" >ν</text>
<path d="M575.0,50.3L575.2,50.3L575.4,50.3L575.6,50.3L575.8,50.3L576.0,50.3L576.2,50.3L576.4,50.3L576.6,50.3L576.8,50.3L577.0,50.3L577.2,50.3L577.4,50.3L577.6,50.3L577.8,50.3L578.0,50.3L578.2,50.3L578.4,50.3L578.6,50.3L578.8,50.3L579.0,50.3L579.2,50.3L579.4,50.3L579.6,50.3L579.8,50.3L580.0,50.3L580.2,50.3L580.4,50.3L580.6,50.3L580.8,50.3L581.0,50.3L581.2,50.3L581.4,50.3L581.6,50.3L581.8,50.3L582.0,50.3L582.2,50.3L582.4,50.3L582.6,50.3L582.8,50.3L583.0,50.3L583.2,50.3L583.4,50.3L583.6,50.3L583.8,50.3L584.0,50.3L584.2,50.3L584.4,50.3L584.6,50.3L584.8,50.3L585.0,50.3L585.2,50.3L585.4,50.3L585.6,50.3L585.8,50.3L586.0,50.3L586.2,50.3L586.4,50.3L586.6,50.3L586.8,50.3L587.0,50.3L587.2,50.3L587.4,50.3L587.6,50.3L587.8,50.3L588.0,50.3L588.2,50.3L588.4,50.3L588.6,50.3L588.8,50.3L589.0,50.3L589.2,50.3L589.4,50.3L589.6,50.3L589.8,50.3L590.0,50.3L590.2,50.3L590.4,50.3L590.6,50.3L590.8,50.3L591.0,50.3L591.2,50.3L591.4,50.3L591.6,50.3L591.8,50.3L592.0,50.3L592.2,50.3L592.4,50.3L592.6,50.3L592.8,50.3L593.0,50.3L593.2,50.3L593.4,50.3L593.6,50.3L593.8,50.3L594.0,50.3L594.2,50.3L594.4,50.3L594.6,50.3L594.8,50.3L595.0,50.3L595.2,50.3L595.4,50.3L595.6,50.3L595.8,50.3L596.0,50.3L596.2,50.3L596.4,50.3L596.6,50.3L596.8,50.3L597.0,50.3L597.2,50.3L597.4,50.3L597.6,50.3L597.8,50.3L598.0,50.3L598.2,50.3L598.4,50.3L598.6,50.3L598.8,50.3L599.0,50.3L599.2,50.3L599.4,50.3L599.6,50.3L599.8,50.3L600.0,50.3L600.2,50.3L600.4,50.3L600.6,50.3L600.8,50.3L601.0,50.3L601.2,50.3L601.4,50.1L601.6,49.7L601.8,48.4L602.0,45.6L602.2,41.0L602.4,35.0L602.6,28.6L602.8,23.2L603.0,19.5L603.2,17.7L603.4,17.2L603.6,17.2L603.8,17.7L604.0,19.5L604.2,23.2L604.4,28.6L604.6,35.0L604.8,41.0L605.0,45.6L605.2,48.4L605.4,49.7L605.6,50.1L605.8,50.0L606.0,49.2L606.2,47.2L606.4,43.5L606.6,38.1L606.8,31.7L607.0,25.7L607.2,21.1L607.4,18.4L607.6,17.4L607.8,17.2L608.0,17.4L608.2,18.4L608.4,21.1L608.6,25.7L608.8,31.7L609.0,38.1L609.2,43.5L609.4,47.2L609.6,49.2L609.8,50.0L610.0,50.2L610.2,50.3L610.4,50.3L610.6,50.3L610.8,50.3L611.0,50.3L611.2,50.3L611.4,50.3L611.6,50.3L611.8,50.3L612.0,50.3L612.2,50.3L612.4,50.3L612.6,50.3L612.8,50.3L613.0,50.3L613.2,50.3L613.4,50.3L613.6,50.3L613.8,50.3L614.0,50.3L614.2,50.3L614.4,50.2L614.6,50.0L614.8,49.2L615.0,47.2L615.2,43.5L615.4,38.1L615.6,31.7L615.8,25.7L616.0,21.1L616.2,18.4L616.4,17.4L616.6,17.2L616.8,17.4L617.0,18.4L617.2,21.1L617.4,25.7L617.6,31.7L617.8,38.1L618.0,43.5L618.2,47.2L618.4,49.2L618.6,50.0L618.8,50.2L619.0,50.0L619.2,49.2L619.4,47.2L619.6,43.5L619.8,38.1L620.0,31.7L620.2,25.7L620.4,21.1L620.6,18.4L620.8,17.4L621.0,17.2L621.2,17.4L621.4,18.4L621.6,21.1L621.8,25.7L622.0,31.7L622.2,38.1L622.4,43.5L622.6,47.2L622.8,49.2L623.0,50.0L623.2,50.2L623.4,50.3L623.6,50.3L623.8,50.3L624.0,50.3L624.2,50.3L624.4,50.3L624.6,50.3L624.8,50.3L625.0,50.3L625.2,50.3L625.4,50.3L625.6,50.3L625.8,50.3L626.0,50.3L626.2,50.3L626.4,50.3L626.6,50.3L626.8,50.3L627.0,50.3L627.2,50.3L627.4,50.3L627.6,50.3L627.8,50.3L628.0,50.3L628.2,50.3L628.4,50.3L628.6,50.3L628.8,50.3L629.0,50.3L629.2,50.3L629.4,50.3L629.6,50.3L629.8,50.3L630.0,50.3L630.2,50.3L630.4,50.3L630.6,50.3L630.8,50.3L631.0,50.3L631.2,50.3L631.4,50.3L631.6,50.3L631.8,50.3L632.0,50.3L632.2,50.3L632.4,50.3L632.6,50.3L632.8,50.3L633.0,50.3L633.2,50.3L633.4,50.3L633.6,50.3L633.8,50.3L634.0,50.3L634.2,50.3L634.4,50.3L634.6,50.3L634.8,50.3L635.0,50.3L635.2,50.3L635.4,50.3L635.6,50.3L635.8,50.3L636.0,50.3L636.2,50.3L636.4,50.3L636.6,50.3L636.8,50.3L637.0,50.3L637.2,50.3L637.4,50.3L637.6,50.3L637.8,50.1L638.0,49.7L638.2,48.4L638.4,45.6L638.6,41.0L638.8,35.0L639.0,28.6L639.2,23.2L639.4,19.5L639.6,17.7L639.8,17.2L640.0,17.2L640.2,17.7L640.4,19.5L640.6,23.2L640.8,28.6L641.0,35.0L641.2,41.0L641.4,45.6L641.6,48.4L641.8,49.7L642.0,50.1L642.2,50.0L642.4,49.2L642.6,47.2L642.8,43.5L643.0,38.1L643.2,31.7L643.4,25.7L643.6,21.1L643.8,18.4L644.0,17.4L644.2,17.2L644.4,17.4L644.6,18.4L644.8,21.1L645.0,25.7L645.2,31.7L645.4,38.1L645.6,43.5L645.8,47.2L646.0,49.2L646.2,50.0L646.4,50.2L646.6,50.3L646.8,50.3L647.0,50.3L647.2,50.3L647.4,50.3L647.6,50.3L647.8,50.3L648.0,50.3L648.2,50.3L648.4,50.3L648.6,50.3L648.8,50.3L649.0,50.3L649.2,50.3L649.4,50.3L649.6,50.3L649.8,50.3L650.0,50.3L650.2,50.3L650.4,50.3L650.6,50.2L650.8,50.0L651.0,49.2L651.2,47.2L651.4,43.5L651.6,38.1L651.8,31.7L652.0,25.7L652.2,21.1L652.4,18.4L652.6,17.4L652.8,17.2L653.0,17.4L653.2,18.4L653.4,21.1L653.6,25.7L653.8,31.7L654.0,38.1L654.2,43.5L654.4,47.2L654.6,49.2L654.8,50.0L655.0,50.2L655.2,50.2L655.4,50.0L655.6,49.2L655.8,47.2L656.0,43.5L656.2,38.1L656.4,31.7L656.6,25.7L656.8,21.1L657.0,18.4L657.2,17.4L657.4,17.2L657.6,17.4L657.8,18.4L658.0,21.1L658.2,25.7L658.4,31.7L658.6,38.1L658.8,43.5L659.0,47.2L659.2,49.2L659.4,50.0L659.6,50.2L659.8,50.3L660.0,50.3L660.2,50.3L660.4,50.3L660.6,50.3L660.8,50.3L661.0,50.3L661.2,50.3L661.4,50.3L661.6,50.3L661.8,50.3L662.0,50.3L662.2,50.3L662.4,50.3L662.6,50.3L662.8,50.3L663.0,50.3L663.2,50.3L663.4,50.3L663.6,50.3L663.8,50.3L664.0,50.3L664.2,50.3L664.4,50.3L664.6,50.3L664.8,50.3L665.0,50.3L665.2,50.3L665.4,50.3L665.6,50.3L665.8,50.3L666.0,50.3L666.2,50.3L666.4,50.3L666.6,50.3L666.8,50.3L667.0,50.3L667.2,50.3L667.4,50.3L667.6,50.3L667.8,50.3L668.0,50.3L668.2,50.3L668.4,50.3L668.6,50.3L668.8,50.3L669.0,50.3L669.2,50.3L669.4,50.3L669.6,50.3L669.8,50.3L670.0,50.3L670.2,50.3L670.4,50.3L670.6,50.3L670.8,50.3L671.0,50.3L671.2,50.3L671.4,50.3L671.6,50.3L671.8,50.3L672.0,50.3L672.2,50.3L672.4,50.3L672.6,50.3L672.8,50.3L673.0,50.3L673.2,50.3L673.4,50.3L673.6,50.3L673.8,50.3L674.0,50.3L674.2,50.3L674.4,50.3L674.6,50.3L674.8,50.3L675.0,50.3L675.2,50.3L675.4,50.3L675.6,50.3L675.8,50.3L676.0,50.3L676.2,50.3L676.4,50.3L676.6,50.3L676.8,50.3L677.0,50.3L677.2,50.3L677.4,50.3L677.6,50.3L677.8,50.3L678.0,50.3L678.2,50.3L678.4,50.3L678.6,50.3L678.8,50.3L679.0,50.3L679.2,50.3L679.4,50.3L679.6,50.3L679.8,50.3L680.0,50.3L680.2,50.3L680.4,50.3L680.6,50.3L680.8,50.3L681.0,50.3L681.2,50.3L681.4,50.3L681.6,50.3L681.8,50.3L682.0,50.3L682.2,50.3L682.4,50.3L682.6,50.3L682.8,50.3L683.0,50.3L683.2,50.3L683.4,50.3L683.6,50.3L683.8,50.3L684.0,50.3L684.2,50.3L684.4,50.3L684.6,50.3L684.8,50.3L685.0,50.3" fill="none" stroke="#c3c3c3" stroke-width="1.3"/>
<path d="M597.5,50.3L597.7,50.3L597.8,50.3L598.0,50.3L598.2,50.3L598.3,50.3L598.5,50.3L598.7,50.3L598.8,50.3L599.0,50.3L599.2,50.3L599.3,50.3L599.5,50.3L599.7,50.3L599.8,50.3L600.0,50.3L600.2,50.3L600.3,50.3L600.5,50.2L600.7,50.0L600.8,49.3L601.0,47.7L601.2,44.7L601.3,40.3L601.5,34.7L601.7,28.9L601.8,23.8L602.0,20.2L602.2,18.1L602.3,17.3L602.5,17.2L602.7,17.3L602.8,18.1L603.0,20.2L603.2,23.8L603.3,28.9L603.5,34.7L603.7,40.3L603.8,44.7L604.0,47.7L604.2,49.3L604.3,50.0L604.5,50.2L604.7,50.3L604.8,50.3L605.0,50.3L605.2,50.3L605.3,50.3L605.5,50.3L605.7,50.3L605.8,50.3L606.0,50.3L606.2,50.3L606.3,50.3L606.5,50.3L606.7,50.3L606.8,50.3L607.0,50.3L607.2,50.3L607.3,50.3L607.5,50.3 Z" fill="#ecc0d5" fill-opacity="0.85" stroke="#d4659b" stroke-width="0.9"/>
<path d="M601.8,50.3L602.0,50.3L602.1,50.3L602.3,50.3L602.5,50.3L602.6,50.3L602.8,50.3L603.0,50.3L603.1,50.3L603.3,50.3L603.5,50.3L603.6,50.3L603.8,50.3L604.0,50.3L604.1,50.3L604.3,50.3L604.5,50.3L604.6,50.3L604.8,50.2L605.0,50.0L605.1,49.3L605.3,47.7L605.5,44.7L605.6,40.3L605.8,34.7L606.0,28.9L606.1,23.8L606.3,20.2L606.5,18.1L606.6,17.3L606.8,17.2L607.0,17.3L607.1,18.1L607.3,20.2L607.5,23.8L607.6,28.9L607.8,34.7L608.0,40.3L608.1,44.7L608.3,47.7L608.5,49.3L608.6,50.0L608.8,50.2L609.0,50.3L609.1,50.3L609.3,50.3L609.5,50.3L609.6,50.3L609.8,50.3L610.0,50.3L610.1,50.3L610.3,50.3L610.5,50.3L610.6,50.3L610.8,50.3L611.0,50.3L611.1,50.3L611.3,50.3L611.5,50.3L611.6,50.3L611.8,50.3 Z" fill="#ecc0d5" fill-opacity="0.85" stroke="#d4659b" stroke-width="0.9"/>
<path d="M610.6,50.3L610.8,50.3L610.9,50.3L611.1,50.3L611.3,50.3L611.4,50.3L611.6,50.3L611.8,50.3L611.9,50.3L612.1,50.3L612.3,50.3L612.4,50.3L612.6,50.3L612.8,50.3L612.9,50.3L613.1,50.3L613.3,50.3L613.4,50.3L613.6,50.2L613.8,50.0L613.9,49.3L614.1,47.7L614.3,44.7L614.4,40.3L614.6,34.7L614.8,28.9L614.9,23.8L615.1,20.2L615.3,18.1L615.4,17.3L615.6,17.2L615.8,17.3L615.9,18.1L616.1,20.2L616.3,23.8L616.4,28.9L616.6,34.7L616.8,40.3L616.9,44.7L617.1,47.7L617.3,49.3L617.4,50.0L617.6,50.2L617.8,50.3L617.9,50.3L618.1,50.3L618.3,50.3L618.4,50.3L618.6,50.3L618.8,50.3L618.9,50.3L619.1,50.3L619.3,50.3L619.4,50.3L619.6,50.3L619.8,50.3L619.9,50.3L620.1,50.3L620.3,50.3L620.4,50.3L620.6,50.3 Z" fill="#ecc0d5" fill-opacity="0.85" stroke="#d4659b" stroke-width="0.9"/>
<path d="M615.0,50.3L615.2,50.3L615.3,50.3L615.5,50.3L615.7,50.3L615.8,50.3L616.0,50.3L616.2,50.3L616.3,50.3L616.5,50.3L616.7,50.3L616.8,50.3L617.0,50.3L617.2,50.3L617.3,50.3L617.5,50.3L617.7,50.3L617.8,50.3L618.0,50.2L618.2,50.0L618.3,49.3L618.5,47.7L618.7,44.7L618.8,40.3L619.0,34.7L619.2,28.9L619.3,23.8L619.5,20.2L619.7,18.1L619.8,17.3L620.0,17.2L620.2,17.3L620.3,18.1L620.5,20.2L620.7,23.8L620.8,28.9L621.0,34.7L621.2,40.3L621.3,44.7L621.5,47.7L621.7,49.3L621.8,50.0L622.0,50.2L622.2,50.3L622.3,50.3L622.5,50.3L622.7,50.3L622.8,50.3L623.0,50.3L623.2,50.3L623.3,50.3L623.5,50.3L623.7,50.3L623.8,50.3L624.0,50.3L624.2,50.3L624.3,50.3L624.5,50.3L624.7,50.3L624.8,50.3L625.0,50.3 Z" fill="#ecc0d5" fill-opacity="0.85" stroke="#d4659b" stroke-width="0.9"/>
<path d="M633.9,50.3L634.1,50.3L634.2,50.3L634.4,50.3L634.6,50.3L634.7,50.3L634.9,50.3L635.1,50.3L635.2,50.3L635.4,50.3L635.6,50.3L635.7,50.3L635.9,50.3L636.1,50.3L636.2,50.3L636.4,50.3L636.6,50.3L636.7,50.3L636.9,50.2L637.1,50.0L637.2,49.3L637.4,47.7L637.6,44.7L637.7,40.3L637.9,34.7L638.1,28.9L638.2,23.8L638.4,20.2L638.6,18.1L638.7,17.3L638.9,17.2L639.1,17.3L639.2,18.1L639.4,20.2L639.6,23.8L639.7,28.9L639.9,34.7L640.1,40.3L640.2,44.7L640.4,47.7L640.6,49.3L640.7,50.0L640.9,50.2L641.1,50.3L641.2,50.3L641.4,50.3L641.6,50.3L641.7,50.3L641.9,50.3L642.1,50.3L642.2,50.3L642.4,50.3L642.6,50.3L642.7,50.3L642.9,50.3L643.1,50.3L643.2,50.3L643.4,50.3L643.6,50.3L643.7,50.3L643.9,50.3 Z" fill="#ecc0d5" fill-opacity="0.85" stroke="#d4659b" stroke-width="0.9"/>
<path d="M638.2,50.3L638.4,50.3L638.5,50.3L638.7,50.3L638.9,50.3L639.0,50.3L639.2,50.3L639.4,50.3L639.5,50.3L639.7,50.3L639.9,50.3L640.0,50.3L640.2,50.3L640.4,50.3L640.5,50.3L640.7,50.3L640.9,50.3L641.0,50.3L641.2,50.2L641.4,50.0L641.5,49.3L641.7,47.7L641.9,44.7L642.0,40.3L642.2,34.7L642.4,28.9L642.5,23.8L642.7,20.2L642.9,18.1L643.0,17.3L643.2,17.2L643.4,17.3L643.5,18.1L643.7,20.2L643.9,23.8L644.0,28.9L644.2,34.7L644.4,40.3L644.5,44.7L644.7,47.7L644.9,49.3L645.0,50.0L645.2,50.2L645.4,50.3L645.5,50.3L645.7,50.3L645.9,50.3L646.0,50.3L646.2,50.3L646.4,50.3L646.5,50.3L646.7,50.3L646.9,50.3L647.0,50.3L647.2,50.3L647.4,50.3L647.5,50.3L647.7,50.3L647.9,50.3L648.0,50.3L648.2,50.3 Z" fill="#ecc0d5" fill-opacity="0.85" stroke="#d4659b" stroke-width="0.9"/>
<path d="M646.8,50.3L647.0,50.3L647.1,50.3L647.3,50.3L647.5,50.3L647.6,50.3L647.8,50.3L648.0,50.3L648.1,50.3L648.3,50.3L648.5,50.3L648.6,50.3L648.8,50.3L649.0,50.3L649.1,50.3L649.3,50.3L649.5,50.3L649.6,50.3L649.8,50.2L650.0,50.0L650.1,49.3L650.3,47.7L650.5,44.7L650.6,40.3L650.8,34.7L651.0,28.9L651.1,23.8L651.3,20.2L651.5,18.1L651.6,17.3L651.8,17.2L652.0,17.3L652.1,18.1L652.3,20.2L652.5,23.8L652.6,28.9L652.8,34.7L653.0,40.3L653.1,44.7L653.3,47.7L653.5,49.3L653.6,50.0L653.8,50.2L654.0,50.3L654.1,50.3L654.3,50.3L654.5,50.3L654.6,50.3L654.8,50.3L655.0,50.3L655.1,50.3L655.3,50.3L655.5,50.3L655.6,50.3L655.8,50.3L656.0,50.3L656.1,50.3L656.3,50.3L656.5,50.3L656.6,50.3L656.8,50.3 Z" fill="#ecc0d5" fill-opacity="0.85" stroke="#d4659b" stroke-width="0.9"/>
<path d="M651.4,50.3L651.6,50.3L651.7,50.3L651.9,50.3L652.1,50.3L652.2,50.3L652.4,50.3L652.6,50.3L652.7,50.3L652.9,50.3L653.1,50.3L653.2,50.3L653.4,50.3L653.6,50.3L653.7,50.3L653.9,50.3L654.1,50.3L654.2,50.3L654.4,50.2L654.6,50.0L654.7,49.3L654.9,47.7L655.1,44.7L655.2,40.3L655.4,34.7L655.6,28.9L655.7,23.8L655.9,20.2L656.1,18.1L656.2,17.3L656.4,17.2L656.6,17.3L656.7,18.1L656.9,20.2L657.1,23.8L657.2,28.9L657.4,34.7L657.6,40.3L657.7,44.7L657.9,47.7L658.1,49.3L658.2,50.0L658.4,50.2L658.6,50.3L658.7,50.3L658.9,50.3L659.1,50.3L659.2,50.3L659.4,50.3L659.6,50.3L659.7,50.3L659.9,50.3L660.1,50.3L660.2,50.3L660.4,50.3L660.6,50.3L660.7,50.3L660.9,50.3L661.1,50.3L661.2,50.3L661.4,50.3 Z" fill="#ecc0d5" fill-opacity="0.85" stroke="#d4659b" stroke-width="0.9"/>
<line x1="575" y1="50.3" x2="685" y2="50.3" stroke="#d4659b" stroke-width="1.3"/>
<line x1="659.39" y1="40.51" x2="676.62" y2="23.28" stroke="#dc75a6" stroke-width="2.69"/>
<polygon points="681.19,18.71 678.99,25.66 674.24,20.91" fill="#dc75a6"/>
<circle cx="668.60" cy="31.30" r="8.40" fill="url(#gn4)"/>
<text x="664.83" y="33.06" font-family="'Liberation Serif', serif" font-size="11.00" fill="#111" stroke="#111" stroke-width="0.25">n<tspan font-size="7.26" dy="2.10" stroke-width="0.15">4</tspan></text>
<text x="630.00" y="64.00" font-family="'Liberation Serif', serif" font-size="12" text-anchor="middle" font-weight="normal" font-style="italic" fill="#111" >ν</text>
<text x="213.00" y="89.20" font-family="'Liberation Serif', serif" font-size="13.5" text-anchor="start" font-weight="bold" font-style="normal" fill="#111" stroke="#111" stroke-width="0.3">d</text>
<rect x="230.00" y="96.30" width="109.25" height="40.10" fill="#fff" stroke="#e2e2e2" stroke-width="1"/>
<line x1="284.75" y1="96.30" x2="284.75" y2="136.40" stroke="#ebebeb" stroke-width="1"/>
<line x1="230.00" y1="101.30" x2="339.25" y2="101.30" stroke="#ebebeb" stroke-width="1"/>
<line x1="230.00" y1="133.40" x2="339.25" y2="133.40" stroke="#ebebeb" stroke-width="1"/>
<rect x="230.00" y="140.70" width="109.25" height="40.80" fill="#fff" stroke="#e2e2e2" stroke-width="1"/>
<line x1="284.75" y1="140.70" x2="284.75" y2="181.50" stroke="#ebebeb" stroke-width="1"/>
<line x1="230.00" y1="145.60" x2="339.25" y2="145.60" stroke="#ebebeb" stroke-width="1"/>
<line x1="230.00" y1="178.30" x2="339.25" y2="178.30" stroke="#ebebeb" stroke-width="1"/>
<line x1="230.30" y1="101.30" x2="233.30" y2="101.30" stroke="#333" stroke-width="1"/>
<text x="228.40" y="105.00" font-family="'Liberation Serif', serif" font-size="11" text-anchor="end" fill="#111" transform="translate(228.40,0) scale(1.04,1) translate(-228.40,0)">1.0</text>
<line x1="230.30" y1="133.40" x2="233.30" y2="133.40" stroke="#333" stroke-width="1"/>
<text x="228.40" y="137.10" font-family="'Liberation Serif', serif" font-size="11" text-anchor="end" fill="#111" transform="translate(228.40,0) scale(1.04,1) translate(-228.40,0)">0.0</text>
<line x1="230.30" y1="145.60" x2="233.30" y2="145.60" stroke="#333" stroke-width="1"/>
<text x="228.40" y="149.30" font-family="'Liberation Serif', serif" font-size="11" text-anchor="end" fill="#111" transform="translate(228.40,0) scale(1.04,1) translate(-228.40,0)">1.0</text>
<line x1="230.30" y1="178.30" x2="233.30" y2="178.30" stroke="#333" stroke-width="1"/>
<text x="228.40" y="182.00" font-family="'Liberation Serif', serif" font-size="11" text-anchor="end" fill="#111" transform="translate(228.40,0) scale(1.04,1) translate(-228.40,0)">0.0</text>
<line x1="284.75" y1="133.20" x2="284.75" y2="136.20" stroke="#333" stroke-width="1"/>
<text x="230.00" y="189.70" font-family="'Liberation Serif', serif" font-size="11" text-anchor="middle" fill="#111" transform="translate(230.00,0) scale(1.1,1) translate(-230.00,0)">0</text>
<line x1="284.75" y1="178.30" x2="284.75" y2="181.30" stroke="#333" stroke-width="1"/>
<text x="284.75" y="189.70" font-family="'Liberation Serif', serif" font-size="11" text-anchor="middle" fill="#111" transform="translate(284.75,0) scale(1.1,1) translate(-284.75,0)">500</text>
<text x="262.12" y="201.6" font-family="'Liberation Serif', serif" font-size="12.5" fill="#111" stroke="#111" stroke-width="0.2" textLength="45" lengthAdjust="spacingAndGlyphs"><tspan font-style="italic">T</tspan><tspan font-size="8" dy="2">RF</tspan><tspan dy="-2"> (μs)</tspan></text>
<rect x="345.00" y="96.30" width="109.50" height="40.10" fill="#fff" stroke="#e2e2e2" stroke-width="1"/>
<line x1="399.75" y1="96.30" x2="399.75" y2="136.40" stroke="#ebebeb" stroke-width="1"/>
<line x1="345.00" y1="101.30" x2="454.50" y2="101.30" stroke="#ebebeb" stroke-width="1"/>
<line x1="345.00" y1="133.40" x2="454.50" y2="133.40" stroke="#ebebeb" stroke-width="1"/>
<rect x="345.00" y="140.70" width="109.50" height="40.80" fill="#fff" stroke="#e2e2e2" stroke-width="1"/>
<line x1="399.75" y1="140.70" x2="399.75" y2="181.50" stroke="#ebebeb" stroke-width="1"/>
<line x1="345.00" y1="145.60" x2="454.50" y2="145.60" stroke="#ebebeb" stroke-width="1"/>
<line x1="345.00" y1="178.30" x2="454.50" y2="178.30" stroke="#ebebeb" stroke-width="1"/>
<line x1="345.30" y1="101.30" x2="348.30" y2="101.30" stroke="#333" stroke-width="1"/>
<line x1="345.30" y1="133.40" x2="348.30" y2="133.40" stroke="#333" stroke-width="1"/>
<line x1="345.30" y1="145.60" x2="348.30" y2="145.60" stroke="#333" stroke-width="1"/>
<line x1="345.30" y1="178.30" x2="348.30" y2="178.30" stroke="#333" stroke-width="1"/>
<line x1="399.75" y1="133.20" x2="399.75" y2="136.20" stroke="#333" stroke-width="1"/>
<text x="345.00" y="189.70" font-family="'Liberation Serif', serif" font-size="11" text-anchor="middle" fill="#111" transform="translate(345.00,0) scale(1.1,1) translate(-345.00,0)">0</text>
<line x1="399.75" y1="178.30" x2="399.75" y2="181.30" stroke="#333" stroke-width="1"/>
<text x="399.75" y="189.70" font-family="'Liberation Serif', serif" font-size="11" text-anchor="middle" fill="#111" transform="translate(399.75,0) scale(1.1,1) translate(-399.75,0)">500</text>
<text x="377.25" y="201.6" font-family="'Liberation Serif', serif" font-size="12.5" fill="#111" stroke="#111" stroke-width="0.2" textLength="45" lengthAdjust="spacingAndGlyphs"><tspan font-style="italic">T</tspan><tspan font-size="8" dy="2">RF</tspan><tspan dy="-2"> (μs)</tspan></text>
<rect x="460.00" y="96.30" width="109.25" height="40.10" fill="#fff" stroke="#e2e2e2" stroke-width="1"/>
<line x1="514.75" y1="96.30" x2="514.75" y2="136.40" stroke="#ebebeb" stroke-width="1"/>
<line x1="460.00" y1="101.30" x2="569.25" y2="101.30" stroke="#ebebeb" stroke-width="1"/>
<line x1="460.00" y1="133.40" x2="569.25" y2="133.40" stroke="#ebebeb" stroke-width="1"/>
<rect x="460.00" y="140.70" width="109.25" height="40.80" fill="#fff" stroke="#e2e2e2" stroke-width="1"/>
<line x1="514.75" y1="140.70" x2="514.75" y2="181.50" stroke="#ebebeb" stroke-width="1"/>
<line x1="460.00" y1="145.60" x2="569.25" y2="145.60" stroke="#ebebeb" stroke-width="1"/>
<line x1="460.00" y1="178.30" x2="569.25" y2="178.30" stroke="#ebebeb" stroke-width="1"/>
<line x1="460.30" y1="101.30" x2="463.30" y2="101.30" stroke="#333" stroke-width="1"/>
<line x1="460.30" y1="133.40" x2="463.30" y2="133.40" stroke="#333" stroke-width="1"/>
<line x1="460.30" y1="145.60" x2="463.30" y2="145.60" stroke="#333" stroke-width="1"/>
<line x1="460.30" y1="178.30" x2="463.30" y2="178.30" stroke="#333" stroke-width="1"/>
<line x1="514.75" y1="133.20" x2="514.75" y2="136.20" stroke="#333" stroke-width="1"/>
<text x="460.00" y="189.70" font-family="'Liberation Serif', serif" font-size="11" text-anchor="middle" fill="#111" transform="translate(460.00,0) scale(1.1,1) translate(-460.00,0)">0</text>
<line x1="514.75" y1="178.30" x2="514.75" y2="181.30" stroke="#333" stroke-width="1"/>
<text x="514.75" y="189.70" font-family="'Liberation Serif', serif" font-size="11" text-anchor="middle" fill="#111" transform="translate(514.75,0) scale(1.1,1) translate(-514.75,0)">500</text>
<text x="492.12" y="201.6" font-family="'Liberation Serif', serif" font-size="12.5" fill="#111" stroke="#111" stroke-width="0.2" textLength="45" lengthAdjust="spacingAndGlyphs"><tspan font-style="italic">T</tspan><tspan font-size="8" dy="2">RF</tspan><tspan dy="-2"> (μs)</tspan></text>
<rect x="575.25" y="96.30" width="110.75" height="40.10" fill="#fff" stroke="#e2e2e2" stroke-width="1"/>
<line x1="648.50" y1="96.30" x2="648.50" y2="136.40" stroke="#ebebeb" stroke-width="1"/>
<line x1="575.25" y1="101.30" x2="686.00" y2="101.30" stroke="#ebebeb" stroke-width="1"/>
<line x1="575.25" y1="133.40" x2="686.00" y2="133.40" stroke="#ebebeb" stroke-width="1"/>
<rect x="575.25" y="140.70" width="110.75" height="40.80" fill="#fff" stroke="#e2e2e2" stroke-width="1"/>
<line x1="648.50" y1="140.70" x2="648.50" y2="181.50" stroke="#ebebeb" stroke-width="1"/>
<line x1="575.25" y1="145.60" x2="686.00" y2="145.60" stroke="#ebebeb" stroke-width="1"/>
<line x1="575.25" y1="178.30" x2="686.00" y2="178.30" stroke="#ebebeb" stroke-width="1"/>
<line x1="575.55" y1="101.30" x2="578.55" y2="101.30" stroke="#333" stroke-width="1"/>
<line x1="575.55" y1="133.40" x2="578.55" y2="133.40" stroke="#333" stroke-width="1"/>
<line x1="575.55" y1="145.60" x2="578.55" y2="145.60" stroke="#333" stroke-width="1"/>
<line x1="575.55" y1="178.30" x2="578.55" y2="178.30" stroke="#333" stroke-width="1"/>
<line x1="648.50" y1="133.20" x2="648.50" y2="136.20" stroke="#333" stroke-width="1"/>
<text x="575.25" y="189.70" font-family="'Liberation Serif', serif" font-size="11" text-anchor="middle" fill="#111" transform="translate(575.25,0) scale(1.1,1) translate(-575.25,0)">0</text>
<line x1="648.50" y1="178.30" x2="648.50" y2="181.30" stroke="#333" stroke-width="1"/>
<text x="648.50" y="189.70" font-family="'Liberation Serif', serif" font-size="11" text-anchor="middle" fill="#111" transform="translate(648.50,0) scale(1.1,1) translate(-648.50,0)">1000</text>
<text x="607.50" y="201.6" font-family="'Liberation Serif', serif" font-size="12.5" fill="#111" stroke="#111" stroke-width="0.2" textLength="45" lengthAdjust="spacingAndGlyphs"><tspan font-style="italic">T</tspan><tspan font-size="8" dy="2">RF</tspan><tspan dy="-2"> (μs)</tspan></text>
<path d="M198.10,109.60 L205.10,106.40 L212.10,109.60" stroke="#222" stroke-width="0.95" fill="none" stroke-linejoin="miter"/>
<path d="M198.10,123.00 L205.10,126.80 L212.10,123.00" stroke="#222" stroke-width="0.95" fill="none" stroke-linejoin="miter"/>
<path d="M201.80,115.35 L208.90,115.35 M201.80,117.85 L208.90,117.85" stroke="#222" stroke-width="0.95" fill="none" stroke-linejoin="miter"/>
<path d="M207.30,113.40 Q208.70,115.80 210.60,116.60 Q208.70,117.40 207.30,119.80" stroke="#222" stroke-width="0.95" fill="none" stroke-linejoin="miter"/>
<path d="M198.10,154.50 L205.10,151.30 L212.10,154.50" stroke="#222" stroke-width="0.95" fill="none" stroke-linejoin="miter"/>
<path d="M198.10,167.90 L205.10,171.70 L212.10,167.90" stroke="#222" stroke-width="0.95" fill="none" stroke-linejoin="miter"/>
<path d="M203.00,160.25 L210.10,160.25 M203.00,162.75 L210.10,162.75" stroke="#222" stroke-width="0.95" fill="none" stroke-linejoin="miter"/>
<path d="M204.60,158.30 Q203.20,160.70 201.30,161.50 Q203.20,162.30 204.60,164.70" stroke="#222" stroke-width="0.95" fill="none" stroke-linejoin="miter"/>
<path d="M230.0,126.8L230.3,126.8L230.6,126.6L231.0,126.4L231.3,126.2L231.6,125.9L231.9,125.6L232.3,125.2L232.6,124.7L232.9,124.2L233.2,123.7L233.6,123.1L233.9,122.5L234.2,121.8L234.5,121.2L234.9,120.4L235.2,119.7L235.5,118.9L235.8,118.1L236.2,117.3L236.5,116.5L236.8,115.6L237.1,114.8L237.5,113.9L237.8,113.1L238.1,112.2L238.4,111.4L238.8,110.5L239.1,109.7L239.4,108.9L239.7,108.1L240.0,107.4L240.4,106.6L240.7,105.9L241.0,105.2L241.3,104.6L241.7,104.0L242.0,103.5L242.3,103.0L242.6,102.5L243.0,102.1L243.3,101.7L243.6,101.4L243.9,101.1L244.3,100.9L244.6,100.8L244.9,100.7L245.2,100.6L245.6,100.6L245.9,100.7L246.2,100.8L246.5,101.0L246.9,101.2L247.2,101.5L247.5,101.8L247.8,102.2L248.2,102.7L248.5,103.2L248.8,103.7L249.1,104.3L249.4,104.9L249.8,105.5L250.1,106.2L250.4,106.9L250.7,107.7L251.1,108.4L251.4,109.2L251.7,110.0L252.0,110.9L252.4,111.7L252.7,112.6L253.0,113.4L253.3,114.3L253.7,115.1L254.0,116.0L254.3,116.8L254.6,117.6L255.0,118.4L255.3,119.2L255.6,120.0L255.9,120.7L256.3,121.4L256.6,122.1L256.9,122.8L257.2,123.4L257.6,123.9L257.9,124.4L258.2,124.9L258.5,125.3L258.8,125.7L259.2,126.0L259.5,126.3L259.8,126.5L260.1,126.7L260.5,126.8L260.8,126.8L261.1,126.8L261.4,126.8L261.8,126.7L262.1,126.5L262.4,126.3L262.7,126.0L263.1,125.7L263.4,125.3L263.7,124.9L264.0,124.4L264.4,123.9L264.7,123.3L265.0,122.7L265.3,122.0L265.7,121.4L266.0,120.6L266.3,119.9L266.6,119.1L266.9,118.3L267.3,117.5L267.6,116.7L267.9,115.9L268.2,115.0L268.6,114.2L268.9,113.3L269.2,112.5L269.5,111.6L269.9,110.8L270.2,109.9L270.5,109.1L270.8,108.3L271.2,107.6L271.5,106.8L271.8,106.1L272.1,105.4L272.5,104.8L272.8,104.2L273.1,103.6L273.4,103.1L273.8,102.6L274.1,102.2L274.4,101.8L274.7,101.5L275.1,101.2L275.4,101.0L275.7,100.8L276.0,100.7L276.3,100.6L276.7,100.6L277.0,100.7L277.3,100.8L277.6,100.9L278.0,101.2L278.3,101.4L278.6,101.7L278.9,102.1L279.3,102.5L279.6,103.0L279.9,103.5L280.2,104.1L280.6,104.7L280.9,105.3L281.2,106.0L281.5,106.7L281.9,107.4L282.2,108.2L282.5,109.0L282.8,109.8L283.2,110.6L283.5,111.5L283.8,112.3L284.1,113.2L284.5,114.0L284.8,114.9L285.1,115.7L285.4,116.6L285.7,117.4L286.1,118.2L286.4,119.0L286.7,119.8L287.0,120.5L287.4,121.2L287.7,121.9L288.0,122.6L288.3,123.2L288.7,123.8L289.0,124.3L289.3,124.8L289.6,125.2L290.0,125.6L290.3,125.9L290.6,126.2L290.9,126.5L291.3,126.6L291.6,126.8L291.9,126.8L292.2,126.8L292.6,126.8L292.9,126.7L293.2,126.6L293.5,126.3L293.9,126.1L294.2,125.8L294.5,125.4L294.8,125.0L295.1,124.5L295.5,124.0L295.8,123.5L296.1,122.9L296.4,122.2L296.8,121.6L297.1,120.9L297.4,120.1L297.7,119.4L298.1,118.6L298.4,117.8L298.7,116.9L299.0,116.1L299.4,115.3L299.7,114.4L300.0,113.6L300.3,112.7L300.7,111.8L301.0,111.0L301.3,110.2L301.6,109.4L302.0,108.6L302.3,107.8L302.6,107.0L302.9,106.3L303.3,105.6L303.6,105.0L303.9,104.4L304.2,103.8L304.5,103.2L304.9,102.7L305.2,102.3L305.5,101.9L305.8,101.6L306.2,101.3L306.5,101.0L306.8,100.8L307.1,100.7L307.5,100.6L307.8,100.6L308.1,100.6L308.4,100.7L308.8,100.9L309.1,101.1L309.4,101.3L309.7,101.6L310.1,102.0L310.4,102.4L310.7,102.9L311.0,103.4L311.4,103.9L311.7,104.5L312.0,105.1L312.3,105.8L312.7,106.5L313.0,107.2L313.3,108.0L313.6,108.8L313.9,109.6L314.3,110.4L314.6,111.2L314.9,112.1L315.2,112.9L315.6,113.8L315.9,114.6L316.2,115.5L316.5,116.3L316.9,117.2L317.2,118.0L317.5,118.8L317.8,119.6L318.2,120.3L318.5,121.0L318.8,121.7L319.1,122.4L319.5,123.0L319.8,123.6L320.1,124.2L320.4,124.6L320.8,125.1L321.1,125.5L321.4,125.9L321.7,126.2L322.1,126.4L322.4,126.6L322.7,126.7L323.0,126.8L323.3,126.8L323.7,126.8L324.0,126.7L324.3,126.6L324.6,126.4L325.0,126.2L325.3,125.9L325.6,125.5L325.9,125.1L326.3,124.7L326.6,124.2L326.9,123.6L327.2,123.0" fill="none" stroke="#2f88a2" stroke-width="0.8" stroke-linejoin="round" stroke-opacity="0.6"/>
<g fill="#2f88a2"><circle cx="230.00" cy="126.15" r="1.35"/><circle cx="231.17" cy="125.36" r="1.35"/><circle cx="233.12" cy="124.09" r="1.35"/><circle cx="234.64" cy="120.74" r="1.35"/><circle cx="235.77" cy="118.56" r="1.35"/><circle cx="237.36" cy="114.05" r="1.35"/><circle cx="239.19" cy="109.22" r="1.35"/><circle cx="240.56" cy="106.57" r="1.35"/><circle cx="242.46" cy="101.75" r="1.35"/><circle cx="243.80" cy="101.57" r="1.35"/><circle cx="245.85" cy="99.17" r="1.35"/><circle cx="246.79" cy="100.72" r="1.35"/><circle cx="248.21" cy="102.25" r="1.35"/><circle cx="250.34" cy="106.28" r="1.35"/><circle cx="251.33" cy="110.06" r="1.35"/><circle cx="253.04" cy="114.05" r="1.35"/><circle cx="254.74" cy="117.64" r="1.35"/><circle cx="255.98" cy="120.74" r="1.35"/><circle cx="257.94" cy="125.16" r="1.35"/><circle cx="259.40" cy="125.92" r="1.35"/><circle cx="260.83" cy="127.28" r="1.35"/><circle cx="262.59" cy="124.78" r="1.35"/><circle cx="263.73" cy="125.69" r="1.35"/><circle cx="265.83" cy="121.42" r="1.35"/><circle cx="267.24" cy="118.14" r="1.35"/><circle cx="268.25" cy="112.83" r="1.35"/><circle cx="270.06" cy="110.26" r="1.35"/><circle cx="271.66" cy="106.90" r="1.35"/><circle cx="272.81" cy="104.80" r="1.35"/><circle cx="274.82" cy="102.57" r="1.35"/><circle cx="276.63" cy="101.09" r="1.35"/><circle cx="277.93" cy="99.99" r="1.35"/><circle cx="279.46" cy="104.29" r="1.35"/><circle cx="281.32" cy="105.83" r="1.35"/><circle cx="282.45" cy="109.01" r="1.35"/><circle cx="284.20" cy="113.60" r="1.35"/><circle cx="285.69" cy="115.78" r="1.35"/><circle cx="286.92" cy="120.30" r="1.35"/><circle cx="288.55" cy="123.65" r="1.35"/><circle cx="290.16" cy="125.97" r="1.35"/><circle cx="291.45" cy="126.52" r="1.35"/><circle cx="293.52" cy="126.16" r="1.35"/><circle cx="294.50" cy="125.39" r="1.35"/><circle cx="296.69" cy="120.92" r="1.35"/><circle cx="297.54" cy="120.78" r="1.35"/><circle cx="299.79" cy="113.82" r="1.35"/><circle cx="301.28" cy="109.82" r="1.35"/><circle cx="302.47" cy="107.83" r="1.35"/><circle cx="303.96" cy="102.73" r="1.35"/><circle cx="305.32" cy="103.48" r="1.35"/><circle cx="306.89" cy="100.74" r="1.35"/><circle cx="308.70" cy="100.27" r="1.35"/><circle cx="310.34" cy="102.36" r="1.35"/><circle cx="311.73" cy="104.54" r="1.35"/><circle cx="313.23" cy="109.64" r="1.35"/><circle cx="315.06" cy="113.24" r="1.35"/><circle cx="316.45" cy="116.98" r="1.35"/><circle cx="317.58" cy="119.77" r="1.35"/><circle cx="319.87" cy="123.45" r="1.35"/><circle cx="321.32" cy="127.38" r="1.35"/><circle cx="322.51" cy="126.97" r="1.35"/><circle cx="324.27" cy="126.40" r="1.35"/><circle cx="325.31" cy="125.34" r="1.35"/><circle cx="326.94" cy="123.34" r="1.35"/></g>
<path d="M230.0,149.7L230.2,149.8L230.4,149.9L230.6,150.1L230.9,150.3L231.1,150.6L231.3,151.0L231.5,151.3L231.7,151.7L231.9,152.2L232.2,152.7L232.4,153.3L232.6,153.9L232.8,154.5L233.0,155.1L233.2,155.8L233.5,156.6L233.7,157.3L233.9,158.1L234.1,158.9L234.3,159.7L234.5,160.5L234.7,161.3L235.0,162.2L235.2,163.0L235.4,163.9L235.6,164.7L235.8,165.5L236.0,166.4L236.3,167.2L236.5,168.0L236.7,168.8L236.9,169.6L237.1,170.3L237.3,171.0L237.6,171.7L237.8,172.4L238.0,173.0L238.2,173.6L238.4,174.1L238.6,174.6L238.8,175.1L239.1,175.5L239.3,175.8L239.5,176.2L239.7,176.4L239.9,176.7L240.1,176.8L240.4,176.9L240.6,177.0L240.8,177.0L241.0,177.0L241.2,176.9L241.4,176.7L241.6,176.6L241.9,176.3L242.1,176.0L242.3,175.7L242.5,175.3L242.7,174.8L242.9,174.4L243.2,173.8L243.4,173.3L243.6,172.7L243.8,172.0L244.0,171.4L244.2,170.7L244.5,169.9L244.7,169.2L244.9,168.4L245.1,167.6L245.3,166.8L245.5,166.0L245.7,165.1L246.0,164.3L246.2,163.4L246.4,162.6L246.6,161.7L246.8,160.9L247.0,160.1L247.3,159.3L247.5,158.5L247.7,157.7L247.9,156.9L248.1,156.2L248.3,155.5L248.6,154.8L248.8,154.2L249.0,153.6L249.2,153.0L249.4,152.5L249.6,152.0L249.8,151.5L250.1,151.1L250.3,150.8L250.5,150.5L250.7,150.2L250.9,150.0L251.1,149.9L251.4,149.8L251.6,149.7L251.8,149.7L252.0,149.8L252.2,149.9L252.4,150.1L252.7,150.3L252.9,150.5L253.1,150.9L253.3,151.2L253.5,151.6L253.7,152.1L253.9,152.6L254.2,153.1L254.4,153.7L254.6,154.3L254.8,155.0L255.0,155.6L255.2,156.4L255.5,157.1L255.7,157.9L255.9,158.6L256.1,159.5L256.3,160.3L256.5,161.1L256.7,161.9L257.0,162.8L257.2,163.6L257.4,164.5L257.6,165.3L257.8,166.2L258.0,167.0L258.3,167.8L258.5,168.6L258.7,169.3L258.9,170.1L259.1,170.8L259.3,171.5L259.6,172.2L259.8,172.8L260.0,173.4L260.2,174.0L260.4,174.5L260.6,174.9L260.8,175.4L261.1,175.8L261.3,176.1L261.5,176.4L261.7,176.6L261.9,176.8L262.1,176.9L262.4,177.0L262.6,177.0L262.8,177.0L263.0,176.9L263.2,176.8L263.4,176.6L263.7,176.4L263.9,176.1L264.1,175.8L264.3,175.4L264.5,175.0L264.7,174.5L264.9,174.0L265.2,173.4L265.4,172.8L265.6,172.2L265.8,171.5L266.0,170.8L266.2,170.1L266.5,169.4L266.7,168.6L266.9,167.8L267.1,167.0L267.3,166.2L267.5,165.3L267.8,164.5L268.0,163.7L268.2,162.8L268.4,162.0L268.6,161.1L268.8,160.3L269.0,159.5L269.3,158.7L269.5,157.9L269.7,157.1L269.9,156.4L270.1,155.7L270.3,155.0L270.6,154.3L270.8,153.7L271.0,153.1L271.2,152.6L271.4,152.1L271.6,151.6L271.8,151.2L272.1,150.9L272.3,150.6L272.5,150.3L272.7,150.1L272.9,149.9L273.1,149.8L273.4,149.7L273.6,149.7L273.8,149.8L274.0,149.9L274.2,150.0L274.4,150.2L274.7,150.5L274.9,150.8L275.1,151.1L275.3,151.5L275.5,152.0L275.7,152.4L275.9,153.0L276.2,153.5L276.4,154.1L276.6,154.8L276.8,155.5L277.0,156.2L277.2,156.9L277.5,157.7L277.7,158.4L277.9,159.2L278.1,160.0L278.3,160.9L278.5,161.7L278.8,162.6L279.0,163.4L279.2,164.2L279.4,165.1L279.6,165.9L279.8,166.8L280.0,167.6L280.3,168.4L280.5,169.1L280.7,169.9L280.9,170.6L281.1,171.3L281.3,172.0L281.6,172.6L281.8,173.2L282.0,173.8L282.2,174.3L282.4,174.8L282.6,175.3L282.9,175.7L283.1,176.0L283.3,176.3L283.5,176.5L283.7,176.7L283.9,176.9L284.1,177.0L284.4,177.0L284.6,177.0L284.8,176.9L285.0,176.8L285.2,176.7L285.4,176.4L285.7,176.2L285.9,175.9L286.1,175.5L286.3,175.1L286.5,174.6L286.7,174.1L286.9,173.6L287.2,173.0L287.4,172.4L287.6,171.7L287.8,171.0L288.0,170.3L288.2,169.6L288.5,168.8L288.7,168.0L288.9,167.2L289.1,166.4L289.3,165.6L289.5,164.7L289.8,163.9L290.0,163.0L290.2,162.2L290.4,161.4L290.6,160.5L290.8,159.7L291.0,158.9L291.3,158.1L291.5,157.3L291.7,156.6L291.9,155.9L292.1,155.2L292.3,154.5L292.6,153.9L292.8,153.3L293.0,152.7L293.2,152.2L293.4,151.8L293.6,151.3L293.9,151.0L294.1,150.6L294.3,150.4L294.5,150.1L294.7,149.9" fill="none" stroke="#2f88a2" stroke-width="0.8" stroke-linejoin="round" stroke-opacity="0.6"/>
<g fill="#2f88a2"><circle cx="230.00" cy="149.73" r="1.35"/><circle cx="231.13" cy="150.70" r="1.35"/><circle cx="232.53" cy="153.81" r="1.35"/><circle cx="234.64" cy="160.79" r="1.35"/><circle cx="235.85" cy="165.28" r="1.35"/><circle cx="237.06" cy="169.59" r="1.35"/><circle cx="238.51" cy="173.20" r="1.35"/><circle cx="240.50" cy="175.89" r="1.35"/><circle cx="241.48" cy="177.06" r="1.35"/><circle cx="242.59" cy="175.08" r="1.35"/><circle cx="244.24" cy="170.77" r="1.35"/><circle cx="245.52" cy="164.47" r="1.35"/><circle cx="246.84" cy="159.90" r="1.35"/><circle cx="248.39" cy="155.63" r="1.35"/><circle cx="250.17" cy="149.97" r="1.35"/><circle cx="251.99" cy="149.62" r="1.35"/><circle cx="253.33" cy="151.49" r="1.35"/><circle cx="254.33" cy="154.17" r="1.35"/><circle cx="255.59" cy="157.46" r="1.35"/><circle cx="257.57" cy="166.14" r="1.35"/><circle cx="258.61" cy="168.83" r="1.35"/><circle cx="260.62" cy="173.47" r="1.35"/><circle cx="261.95" cy="176.28" r="1.35"/><circle cx="263.29" cy="178.15" r="1.35"/><circle cx="264.28" cy="176.18" r="1.35"/><circle cx="265.54" cy="172.44" r="1.35"/><circle cx="266.98" cy="167.59" r="1.35"/><circle cx="269.00" cy="159.04" r="1.35"/><circle cx="270.67" cy="155.82" r="1.35"/><circle cx="272.13" cy="150.14" r="1.35"/><circle cx="273.54" cy="150.10" r="1.35"/><circle cx="274.34" cy="149.69" r="1.35"/><circle cx="275.75" cy="152.17" r="1.35"/><circle cx="277.81" cy="157.84" r="1.35"/><circle cx="279.19" cy="165.46" r="1.35"/><circle cx="280.60" cy="169.41" r="1.35"/><circle cx="281.41" cy="173.16" r="1.35"/><circle cx="283.46" cy="178.01" r="1.35"/><circle cx="284.87" cy="177.42" r="1.35"/><circle cx="286.34" cy="174.93" r="1.35"/><circle cx="287.38" cy="171.70" r="1.35"/><circle cx="288.87" cy="169.35" r="1.35"/><circle cx="290.31" cy="160.45" r="1.35"/><circle cx="291.55" cy="157.51" r="1.35"/><circle cx="292.95" cy="151.81" r="1.35"/><circle cx="294.71" cy="148.52" r="1.35"/></g>
<path d="M345.0,125.4L345.3,125.0L345.6,124.7L346.0,124.2L346.3,123.7L346.6,123.1L346.9,122.5L347.3,121.8L347.6,121.1L347.9,120.3L348.2,119.5L348.6,118.6L348.9,117.7L349.2,116.8L349.5,115.9L349.8,114.9L350.2,114.0L350.5,113.0L350.8,112.0L351.1,111.1L351.5,110.1L351.8,109.2L352.1,108.3L352.4,107.4L352.8,106.5L353.1,105.7L353.4,104.9L353.7,104.2L354.0,103.5L354.4,102.9L354.7,102.4L355.0,101.9L355.3,101.4L355.7,101.1L356.0,100.8L356.3,100.5L356.6,100.4L357.0,100.3L357.3,100.3L357.6,100.4L357.9,100.5L358.2,100.7L358.6,101.0L358.9,101.3L359.2,101.8L359.5,102.2L359.9,102.8L360.2,103.4L360.5,104.0L360.8,104.8L361.2,105.5L361.5,106.3L361.8,107.2L362.1,108.0L362.4,108.9L362.8,109.9L363.1,110.8L363.4,111.8L363.7,112.7L364.1,113.7L364.4,114.7L364.7,115.6L365.0,116.6L365.4,117.5L365.7,118.4L366.0,119.3L366.3,120.1L366.6,120.9L367.0,121.6L367.3,122.3L367.6,123.0L367.9,123.6L368.3,124.1L368.6,124.5L368.9,124.9L369.2,125.3L369.5,125.5L369.9,125.7L370.2,125.8L370.5,125.9L370.8,125.9L371.2,125.8L371.5,125.6L371.8,125.3L372.1,125.0L372.5,124.6L372.8,124.2L373.1,123.7L373.4,123.1L373.7,122.5L374.1,121.8L374.4,121.0L374.7,120.3L375.0,119.4L375.4,118.6L375.7,117.7L376.0,116.8L376.3,115.8L376.7,114.9L377.0,113.9L377.3,112.9L377.6,112.0L377.9,111.0L378.3,110.1L378.6,109.1L378.9,108.2L379.2,107.3L379.6,106.5L379.9,105.7L380.2,104.9L380.5,104.2L380.9,103.5L381.2,102.9L381.5,102.3L381.8,101.8L382.1,101.4L382.5,101.1L382.8,100.8L383.1,100.5L383.4,100.4L383.8,100.3L384.1,100.3L384.4,100.4L384.7,100.5L385.1,100.7L385.4,101.0L385.7,101.4L386.0,101.8L386.3,102.3L386.7,102.8L387.0,103.4L387.3,104.1L387.6,104.8L388.0,105.6L388.3,106.4L388.6,107.2L388.9,108.1L389.3,109.0L389.6,109.9L389.9,110.9L390.2,111.8L390.5,112.8L390.9,113.8L391.2,114.7L391.5,115.7L391.8,116.6L392.2,117.5L392.5,118.4L392.8,119.3L393.1,120.1L393.5,120.9L393.8,121.7L394.1,122.4L394.4,123.0L394.7,123.6L395.1,124.1L395.4,124.6L395.7,125.0L396.0,125.3L396.4,125.5L396.7,125.7L397.0,125.8L397.3,125.9L397.7,125.9L398.0,125.8L398.3,125.6L398.6,125.3L398.9,125.0L399.3,124.6L399.6,124.2L399.9,123.6L400.2,123.1L400.6,122.4L400.9,121.7L401.2,121.0L401.5,120.2L401.9,119.4L402.2,118.5L402.5,117.6L402.8,116.7L403.1,115.8L403.5,114.8L403.8,113.9L404.1,112.9L404.4,111.9L404.8,111.0L405.1,110.0L405.4,109.1L405.7,108.2L406.1,107.3L406.4,106.4L406.7,105.6L407.0,104.9L407.3,104.1L407.7,103.5L408.0,102.9L408.3,102.3L408.6,101.8L409.0,101.4L409.3,101.0L409.6,100.7L409.9,100.5L410.3,100.4L410.6,100.3L410.9,100.3L411.2,100.4L411.5,100.5L411.9,100.7L412.2,101.0L412.5,101.4L412.8,101.8L413.2,102.3L413.5,102.8L413.8,103.4L414.1,104.1L414.5,104.8L414.8,105.6L415.1,106.4L415.4,107.2L415.7,108.1L416.1,109.0L416.4,110.0L416.7,110.9L417.0,111.9L417.4,112.8L417.7,113.8L418.0,114.8L418.3,115.7L418.6,116.7L419.0,117.6L419.3,118.5L419.6,119.3L419.9,120.2L420.3,121.0L420.6,121.7L420.9,122.4L421.2,123.0L421.6,123.6L421.9,124.1L422.2,124.6L422.5,125.0L422.8,125.3L423.2,125.6L423.5,125.7L423.8,125.9L424.1,125.9L424.5,125.9L424.8,125.7L425.1,125.6L425.4,125.3L425.8,125.0L426.1,124.6L426.4,124.1L426.7,123.6L427.0,123.0L427.4,122.4L427.7,121.7L428.0,121.0L428.3,120.2L428.7,119.3L429.0,118.5L429.3,117.6L429.6,116.7L430.0,115.7L430.3,114.8L430.6,113.8L430.9,112.8L431.2,111.9L431.6,110.9L431.9,110.0L432.2,109.0L432.5,108.1L432.9,107.2L433.2,106.4L433.5,105.6L433.8,104.8L434.2,104.1L434.5,103.4L434.8,102.8L435.1,102.3L435.4,101.8L435.8,101.4L436.1,101.0L436.4,100.7L436.7,100.5L437.1,100.4L437.4,100.3L437.7,100.3L438.0,100.4L438.4,100.5L438.7,100.7L439.0,101.0L439.3,101.4L439.6,101.8L440.0,102.3L440.3,102.9L440.6,103.5L440.9,104.1L441.3,104.9L441.6,105.6L441.9,106.4" fill="none" stroke="#36548e" stroke-width="0.8" stroke-linejoin="round" stroke-opacity="0.6"/>
<g fill="#36548e"><circle cx="345.00" cy="124.31" r="1.35"/><circle cx="346.68" cy="125.00" r="1.35"/><circle cx="347.95" cy="120.60" r="1.35"/><circle cx="349.19" cy="116.96" r="1.35"/><circle cx="351.57" cy="110.37" r="1.35"/><circle cx="353.07" cy="106.51" r="1.35"/><circle cx="354.17" cy="102.26" r="1.35"/><circle cx="355.51" cy="102.30" r="1.35"/><circle cx="357.09" cy="100.45" r="1.35"/><circle cx="358.92" cy="100.80" r="1.35"/><circle cx="360.17" cy="103.73" r="1.35"/><circle cx="362.28" cy="108.27" r="1.35"/><circle cx="363.33" cy="112.55" r="1.35"/><circle cx="365.35" cy="117.22" r="1.35"/><circle cx="366.47" cy="119.63" r="1.35"/><circle cx="368.10" cy="124.30" r="1.35"/><circle cx="369.63" cy="124.74" r="1.35"/><circle cx="370.87" cy="125.75" r="1.35"/><circle cx="372.25" cy="124.74" r="1.35"/><circle cx="374.20" cy="121.95" r="1.35"/><circle cx="375.96" cy="117.57" r="1.35"/><circle cx="377.32" cy="113.13" r="1.35"/><circle cx="378.89" cy="108.21" r="1.35"/><circle cx="380.43" cy="104.77" r="1.35"/><circle cx="381.70" cy="102.27" r="1.35"/><circle cx="383.46" cy="99.02" r="1.35"/><circle cx="385.05" cy="100.60" r="1.35"/><circle cx="386.48" cy="104.24" r="1.35"/><circle cx="388.17" cy="107.02" r="1.35"/><circle cx="389.78" cy="110.53" r="1.35"/><circle cx="391.10" cy="115.35" r="1.35"/><circle cx="393.07" cy="120.17" r="1.35"/><circle cx="394.40" cy="121.59" r="1.35"/><circle cx="395.55" cy="126.11" r="1.35"/><circle cx="397.35" cy="124.45" r="1.35"/><circle cx="398.52" cy="125.94" r="1.35"/><circle cx="400.04" cy="123.70" r="1.35"/><circle cx="401.69" cy="119.70" r="1.35"/><circle cx="403.08" cy="116.65" r="1.35"/><circle cx="405.34" cy="110.49" r="1.35"/><circle cx="406.23" cy="107.07" r="1.35"/><circle cx="407.75" cy="104.46" r="1.35"/><circle cx="409.94" cy="99.96" r="1.35"/><circle cx="411.54" cy="100.63" r="1.35"/><circle cx="412.59" cy="103.89" r="1.35"/><circle cx="414.51" cy="104.77" r="1.35"/><circle cx="415.46" cy="108.23" r="1.35"/><circle cx="417.16" cy="111.83" r="1.35"/><circle cx="418.57" cy="116.96" r="1.35"/><circle cx="419.95" cy="119.03" r="1.35"/><circle cx="421.96" cy="124.39" r="1.35"/><circle cx="423.30" cy="125.59" r="1.35"/><circle cx="425.10" cy="125.86" r="1.35"/><circle cx="426.95" cy="123.23" r="1.35"/><circle cx="428.32" cy="119.86" r="1.35"/><circle cx="429.40" cy="117.41" r="1.35"/><circle cx="430.74" cy="113.28" r="1.35"/><circle cx="432.35" cy="109.27" r="1.35"/><circle cx="434.15" cy="102.87" r="1.35"/><circle cx="435.54" cy="102.45" r="1.35"/><circle cx="436.99" cy="99.49" r="1.35"/><circle cx="439.01" cy="101.55" r="1.35"/><circle cx="440.01" cy="101.24" r="1.35"/><circle cx="441.84" cy="105.84" r="1.35"/></g>
<path d="M345.0,151.7L345.3,151.8L345.6,152.1L346.0,152.4L346.3,152.7L346.6,153.2L346.9,153.7L347.3,154.3L347.6,155.0L347.9,155.7L348.2,156.5L348.6,157.4L348.9,158.2L349.2,159.2L349.5,160.1L349.9,161.1L350.2,162.2L350.5,163.2L350.8,164.2L351.1,165.3L351.5,166.3L351.8,167.3L352.1,168.3L352.4,169.3L352.8,170.2L353.1,171.1L353.4,172.0L353.7,172.8L354.1,173.5L354.4,174.2L354.7,174.8L355.0,175.4L355.3,175.9L355.7,176.3L356.0,176.6L356.3,176.8L356.6,177.0L357.0,177.0L357.3,177.0L357.6,176.9L357.9,176.7L358.3,176.4L358.6,176.1L358.9,175.6L359.2,175.1L359.6,174.5L359.9,173.9L360.2,173.2L360.5,172.4L360.8,171.6L361.2,170.7L361.5,169.8L361.8,168.8L362.1,167.8L362.5,166.8L362.8,165.8L363.1,164.7L363.4,163.7L363.8,162.7L364.1,161.6L364.4,160.6L364.7,159.7L365.1,158.7L365.4,157.8L365.7,156.9L366.0,156.1L366.3,155.3L366.7,154.6L367.0,154.0L367.3,153.4L367.6,152.9L368.0,152.5L368.3,152.2L368.6,151.9L368.9,151.8L369.3,151.7L369.6,151.7L369.9,151.8L370.2,151.9L370.5,152.2L370.9,152.5L371.2,152.9L371.5,153.4L371.8,154.0L372.2,154.6L372.5,155.3L372.8,156.1L373.1,156.9L373.5,157.8L373.8,158.7L374.1,159.6L374.4,160.6L374.8,161.6L375.1,162.6L375.4,163.7L375.7,164.7L376.0,165.8L376.4,166.8L376.7,167.8L377.0,168.8L377.3,169.8L377.7,170.7L378.0,171.6L378.3,172.4L378.6,173.2L379.0,173.9L379.3,174.5L379.6,175.1L379.9,175.6L380.2,176.1L380.6,176.4L380.9,176.7L381.2,176.9L381.5,177.0L381.9,177.0L382.2,177.0L382.5,176.8L382.8,176.6L383.2,176.3L383.5,175.9L383.8,175.4L384.1,174.9L384.5,174.2L384.8,173.6L385.1,172.8L385.4,172.0L385.7,171.2L386.1,170.3L386.4,169.3L386.7,168.3L387.0,167.3L387.4,166.3L387.7,165.3L388.0,164.2L388.3,163.2L388.7,162.2L389.0,161.2L389.3,160.2L389.6,159.2L390.0,158.3L390.3,157.4L390.6,156.5L390.9,155.7L391.2,155.0L391.6,154.3L391.9,153.7L392.2,153.2L392.5,152.7L392.9,152.4L393.2,152.1L393.5,151.9L393.8,151.7L394.2,151.7L394.5,151.7L394.8,151.8L395.1,152.0L395.4,152.3L395.8,152.7L396.1,153.2L396.4,153.7L396.7,154.3L397.1,155.0L397.4,155.7L397.7,156.5L398.0,157.3L398.4,158.2L398.7,159.1L399.0,160.1L399.3,161.1L399.7,162.1L400.0,163.1L400.3,164.2L400.6,165.2L400.9,166.3L401.3,167.3L401.6,168.3L401.9,169.3L402.2,170.2L402.6,171.1L402.9,172.0L403.2,172.8L403.5,173.5L403.9,174.2L404.2,174.8L404.5,175.4L404.8,175.8L405.2,176.2L405.5,176.6L405.8,176.8L406.1,177.0L406.4,177.0L406.8,177.0L407.1,176.9L407.4,176.7L407.7,176.4L408.1,176.1L408.4,175.7L408.7,175.2L409.0,174.6L409.4,173.9L409.7,173.2L410.0,172.4L410.3,171.6L410.6,170.7L411.0,169.8L411.3,168.9L411.6,167.9L411.9,166.9L412.3,165.8L412.6,164.8L412.9,163.8L413.2,162.7L413.6,161.7L413.9,160.7L414.2,159.7L414.5,158.7L414.9,157.8L415.2,157.0L415.5,156.1L415.8,155.4L416.1,154.7L416.5,154.0L416.8,153.5L417.1,153.0L417.4,152.6L417.8,152.2L418.1,152.0L418.4,151.8L418.7,151.7L419.1,151.7L419.4,151.8L419.7,151.9L420.0,152.2L420.3,152.5L420.7,152.9L421.0,153.4L421.3,154.0L421.6,154.6L422.0,155.3L422.3,156.1L422.6,156.9L422.9,157.7L423.3,158.6L423.6,159.6L423.9,160.6L424.2,161.6L424.6,162.6L424.9,163.6L425.2,164.7L425.5,165.7L425.8,166.7L426.2,167.8L426.5,168.7L426.8,169.7L427.1,170.6L427.5,171.5L427.8,172.3L428.1,173.1L428.4,173.8L428.8,174.5L429.1,175.1L429.4,175.6L429.7,176.0L430.1,176.4L430.4,176.7L430.7,176.9L431.0,177.0L431.3,177.0L431.7,177.0L432.0,176.8L432.3,176.6L432.6,176.3L433.0,175.9L433.3,175.4L433.6,174.9L433.9,174.3L434.3,173.6L434.6,172.8L434.9,172.0L435.2,171.2L435.5,170.3L435.9,169.4L436.2,168.4L436.5,167.4L436.8,166.4L437.2,165.3L437.5,164.3L437.8,163.3L438.1,162.2L438.5,161.2L438.8,160.2L439.1,159.2L439.4,158.3L439.8,157.4L440.1,156.6L440.4,155.8L440.7,155.0L441.0,154.4L441.4,153.8L441.7,153.2L442.0,152.8" fill="none" stroke="#36548e" stroke-width="0.8" stroke-linejoin="round" stroke-opacity="0.6"/>
<g fill="#36548e"><circle cx="345.00" cy="150.65" r="1.35"/><circle cx="346.80" cy="153.92" r="1.35"/><circle cx="347.72" cy="155.09" r="1.35"/><circle cx="349.94" cy="161.65" r="1.35"/><circle cx="351.12" cy="165.74" r="1.35"/><circle cx="353.07" cy="170.24" r="1.35"/><circle cx="354.04" cy="172.82" r="1.35"/><circle cx="355.55" cy="175.40" r="1.35"/><circle cx="356.98" cy="176.89" r="1.35"/><circle cx="358.60" cy="175.83" r="1.35"/><circle cx="360.23" cy="173.56" r="1.35"/><circle cx="361.76" cy="167.70" r="1.35"/><circle cx="363.48" cy="163.22" r="1.35"/><circle cx="364.60" cy="159.37" r="1.35"/><circle cx="366.34" cy="154.04" r="1.35"/><circle cx="368.14" cy="152.21" r="1.35"/><circle cx="369.37" cy="153.55" r="1.35"/><circle cx="370.83" cy="152.19" r="1.35"/><circle cx="373.00" cy="157.43" r="1.35"/><circle cx="374.55" cy="160.61" r="1.35"/><circle cx="375.71" cy="165.91" r="1.35"/><circle cx="377.76" cy="171.00" r="1.35"/><circle cx="378.74" cy="172.78" r="1.35"/><circle cx="380.54" cy="177.49" r="1.35"/><circle cx="381.88" cy="177.18" r="1.35"/><circle cx="383.17" cy="176.03" r="1.35"/><circle cx="384.66" cy="173.84" r="1.35"/><circle cx="386.28" cy="170.26" r="1.35"/><circle cx="387.75" cy="164.18" r="1.35"/><circle cx="389.81" cy="160.05" r="1.35"/><circle cx="391.01" cy="155.50" r="1.35"/><circle cx="392.70" cy="151.86" r="1.35"/><circle cx="393.98" cy="152.29" r="1.35"/><circle cx="396.22" cy="153.15" r="1.35"/><circle cx="397.77" cy="157.21" r="1.35"/><circle cx="399.31" cy="161.20" r="1.35"/><circle cx="400.27" cy="164.11" r="1.35"/><circle cx="401.87" cy="169.10" r="1.35"/><circle cx="403.50" cy="173.97" r="1.35"/><circle cx="405.06" cy="176.15" r="1.35"/><circle cx="406.16" cy="177.00" r="1.35"/><circle cx="408.05" cy="175.75" r="1.35"/><circle cx="409.28" cy="173.40" r="1.35"/><circle cx="410.98" cy="169.68" r="1.35"/><circle cx="412.83" cy="165.34" r="1.35"/><circle cx="414.44" cy="159.26" r="1.35"/><circle cx="416.03" cy="154.34" r="1.35"/><circle cx="417.23" cy="153.38" r="1.35"/><circle cx="419.34" cy="150.98" r="1.35"/><circle cx="420.58" cy="151.75" r="1.35"/><circle cx="421.60" cy="153.63" r="1.35"/><circle cx="423.65" cy="161.26" r="1.35"/><circle cx="425.28" cy="164.77" r="1.35"/><circle cx="426.64" cy="169.59" r="1.35"/><circle cx="428.16" cy="172.49" r="1.35"/><circle cx="429.98" cy="177.60" r="1.35"/><circle cx="431.31" cy="176.06" r="1.35"/><circle cx="432.95" cy="176.68" r="1.35"/><circle cx="434.08" cy="173.54" r="1.35"/><circle cx="435.74" cy="169.68" r="1.35"/><circle cx="437.05" cy="165.17" r="1.35"/><circle cx="439.05" cy="160.30" r="1.35"/><circle cx="440.59" cy="155.74" r="1.35"/><circle cx="441.58" cy="154.25" r="1.35"/></g>
<path d="M460.0,119.8L460.3,119.8L460.6,119.8L461.0,119.7L461.3,119.6L461.6,119.5L461.9,119.3L462.3,119.1L462.6,118.9L462.9,118.7L463.2,118.4L463.6,118.1L463.9,117.7L464.2,117.4L464.5,117.0L464.9,116.6L465.2,116.2L465.5,115.7L465.8,115.3L466.2,114.8L466.5,114.4L466.8,113.8L467.1,112.8L467.5,111.8L467.8,110.8L468.1,109.8L468.4,108.9L468.8,108.0L469.1,107.1L469.4,106.3L469.7,105.5L470.1,104.8L470.4,104.1L470.7,103.5L471.0,103.0L471.4,102.5L471.7,102.1L472.0,101.8L472.3,101.5L472.7,101.4L473.0,101.3L473.3,101.3L473.6,101.3L474.0,101.5L474.3,101.7L474.6,102.0L474.9,102.4L475.3,102.8L475.6,103.4L475.9,104.0L476.2,104.6L476.6,105.3L476.9,106.1L477.2,106.9L477.5,107.8L477.9,108.7L478.2,109.6L478.5,110.6L478.8,111.5L479.2,112.5L479.5,113.5L479.8,114.3L480.1,114.7L480.5,115.2L480.8,115.6L481.1,116.1L481.4,116.5L481.8,116.9L482.1,117.3L482.4,117.6L482.7,118.0L483.1,118.3L483.4,118.6L483.7,118.9L484.0,119.1L484.4,119.3L484.7,119.5L485.0,119.6L485.3,119.7L485.7,119.8L486.0,119.8L486.3,119.8L486.6,119.8L487.0,119.7L487.3,119.6L487.6,119.4L487.9,119.3L488.3,119.0L488.6,118.8L488.9,118.5L489.2,118.2L489.6,117.9L489.9,117.6L490.2,117.2L490.5,116.8L490.9,116.4L491.2,116.0L491.5,115.5L491.8,115.1L492.2,114.6L492.5,114.2L492.8,113.3L493.1,112.3L493.5,111.3L493.8,110.3L494.1,109.4L494.4,108.5L494.8,107.6L495.1,106.7L495.4,105.9L495.7,105.2L496.1,104.5L496.4,103.8L496.7,103.2L497.0,102.7L497.4,102.3L497.7,101.9L498.0,101.6L498.3,101.4L498.7,101.3L499.0,101.3L499.3,101.3L499.6,101.4L500.0,101.6L500.3,101.8L500.6,102.2L500.9,102.6L501.3,103.1L501.6,103.6L501.9,104.2L502.2,104.9L502.6,105.7L502.9,106.4L503.2,107.3L503.5,108.2L503.9,109.1L504.2,110.0L504.5,111.0L504.8,112.0L505.2,113.0L505.5,114.0L505.8,114.5L506.1,114.9L506.5,115.4L506.8,115.8L507.1,116.2L507.4,116.7L507.8,117.1L508.1,117.4L508.4,117.8L508.7,118.1L509.1,118.4L509.4,118.7L509.7,119.0L510.0,119.2L510.4,119.4L510.7,119.5L511.0,119.7L511.3,119.7L511.7,119.8L512.0,119.8L512.3,119.8L512.6,119.7L513.0,119.6L513.3,119.5L513.6,119.4L513.9,119.2L514.2,118.9L514.6,118.7L514.9,118.4L515.2,118.1L515.5,117.7L515.9,117.4L516.2,117.0L516.5,116.6L516.8,116.2L517.2,115.8L517.5,115.3L517.8,114.9L518.1,114.4L518.5,113.9L518.8,112.9L519.1,111.9L519.4,110.9L519.8,109.9L520.1,109.0L520.4,108.1L520.7,107.2L521.1,106.4L521.4,105.6L521.7,104.8L522.0,104.2L522.4,103.6L522.7,103.0L523.0,102.5L523.3,102.1L523.7,101.8L524.0,101.5L524.3,101.4L524.6,101.3L525.0,101.3L525.3,101.3L525.6,101.5L525.9,101.7L526.3,102.0L526.6,102.3L526.9,102.8L527.2,103.3L527.6,103.9L527.9,104.5L528.2,105.2L528.5,106.0L528.9,106.8L529.2,107.7L529.5,108.6L529.8,109.5L530.2,110.5L530.5,111.4L530.8,112.4L531.1,113.4L531.5,114.2L531.8,114.7L532.1,115.1L532.4,115.6L532.8,116.0L533.1,116.4L533.4,116.8L533.7,117.2L534.1,117.6L534.4,117.9L534.7,118.3L535.0,118.6L535.4,118.8L535.7,119.1L536.0,119.3L536.3,119.5L536.7,119.6L537.0,119.7L537.3,119.8L537.6,119.8L538.0,119.8L538.3,119.8L538.6,119.7L538.9,119.6L539.3,119.4L539.6,119.3L539.9,119.1L540.2,118.8L540.6,118.6L540.9,118.3L541.2,117.9L541.5,117.6L541.9,117.2L542.2,116.8L542.5,116.4L542.8,116.0L543.2,115.6L543.5,115.1L543.8,114.7L544.1,114.2L544.5,113.4L544.8,112.4L545.1,111.4L545.4,110.4L545.8,109.5L546.1,108.6L546.4,107.7L546.7,106.8L547.1,106.0L547.4,105.2L547.7,104.5L548.0,103.9L548.4,103.3L548.7,102.8L549.0,102.3L549.3,102.0L549.7,101.7L550.0,101.5L550.3,101.3L550.6,101.3L551.0,101.3L551.3,101.4L551.6,101.5L551.9,101.8L552.3,102.1L552.6,102.5L552.9,103.0L553.2,103.6L553.6,104.2L553.9,104.8L554.2,105.6L554.5,106.4L554.9,107.2L555.2,108.1L555.5,109.0L555.8,109.9L556.2,110.9L556.5,111.9L556.8,112.9L557.1,113.9L557.5,114.4" fill="none" stroke="#63267f" stroke-width="0.8" stroke-linejoin="round" stroke-opacity="0.6"/>
<path d="M460.0,126.8L460.3,126.8L460.6,126.8L461.0,126.7L461.3,126.5L461.6,126.2L461.9,125.8L462.3,125.4L462.6,124.9L462.9,124.3L463.2,123.6L463.6,122.9L463.9,122.2L464.2,121.4L464.5,120.5L464.9,119.6L465.2,118.7L465.5,117.8L465.8,116.8L466.2,115.8L466.5,114.8L466.8,113.8L467.1,112.8L467.5,111.8L467.8,110.8L468.1,109.8L468.4,108.9L468.8,108.0L469.1,107.1L469.4,106.3L469.7,105.5L470.1,104.8L470.4,104.1L470.7,103.5L471.0,103.0L471.4,102.5L471.7,102.1L472.0,101.8L472.3,101.5L472.7,101.4L473.0,101.3L473.3,101.3L473.6,101.3L474.0,101.5L474.3,101.7L474.6,102.0L474.9,102.4L475.3,102.8L475.6,103.4L475.9,104.0L476.2,104.6L476.6,105.3L476.9,106.1L477.2,106.9L477.5,107.8L477.9,108.7L478.2,109.6L478.5,110.6L478.8,111.5L479.2,112.5L479.5,113.5L479.8,114.5L480.1,115.6L480.5,116.6L480.8,117.5L481.1,118.5L481.4,119.4L481.8,120.3L482.1,121.2L482.4,122.0L482.7,122.8L483.1,123.5L483.4,124.1L483.7,124.7L484.0,125.3L484.4,125.7L484.7,126.1L485.0,126.4L485.3,126.6L485.7,126.8L486.0,126.8L486.3,126.8L486.6,126.7L487.0,126.6L487.3,126.3L487.6,126.0L487.9,125.6L488.3,125.1L488.6,124.6L488.9,124.0L489.2,123.3L489.6,122.6L489.9,121.8L490.2,121.0L490.5,120.1L490.9,119.2L491.2,118.3L491.5,117.3L491.8,116.3L492.2,115.3L492.5,114.3L492.8,113.3L493.1,112.3L493.5,111.3L493.8,110.3L494.1,109.4L494.4,108.5L494.8,107.6L495.1,106.7L495.4,105.9L495.7,105.2L496.1,104.5L496.4,103.8L496.7,103.2L497.0,102.7L497.4,102.3L497.7,101.9L498.0,101.6L498.3,101.4L498.7,101.3L499.0,101.3L499.3,101.3L499.6,101.4L500.0,101.6L500.3,101.8L500.6,102.2L500.9,102.6L501.3,103.1L501.6,103.6L501.9,104.2L502.2,104.9L502.6,105.7L502.9,106.4L503.2,107.3L503.5,108.2L503.9,109.1L504.2,110.0L504.5,111.0L504.8,112.0L505.2,113.0L505.5,114.0L505.8,115.0L506.1,116.0L506.5,117.0L506.8,118.0L507.1,118.9L507.4,119.8L507.8,120.7L508.1,121.6L508.4,122.4L508.7,123.1L509.1,123.8L509.4,124.4L509.7,125.0L510.0,125.5L510.4,125.9L510.7,126.2L511.0,126.5L511.3,126.7L511.7,126.8L512.0,126.8L512.3,126.8L512.6,126.7L513.0,126.5L513.3,126.2L513.6,125.8L513.9,125.4L514.2,124.9L514.6,124.3L514.9,123.7L515.2,123.0L515.5,122.3L515.9,121.5L516.2,120.6L516.5,119.7L516.8,118.8L517.2,117.9L517.5,116.9L517.8,115.9L518.1,114.9L518.5,113.9L518.8,112.9L519.1,111.9L519.4,110.9L519.8,109.9L520.1,109.0L520.4,108.1L520.7,107.2L521.1,106.4L521.4,105.6L521.7,104.8L522.0,104.2L522.4,103.6L522.7,103.0L523.0,102.5L523.3,102.1L523.7,101.8L524.0,101.5L524.3,101.4L524.6,101.3L525.0,101.3L525.3,101.3L525.6,101.5L525.9,101.7L526.3,102.0L526.6,102.3L526.9,102.8L527.2,103.3L527.6,103.9L527.9,104.5L528.2,105.2L528.5,106.0L528.9,106.8L529.2,107.7L529.5,108.6L529.8,109.5L530.2,110.5L530.5,111.4L530.8,112.4L531.1,113.4L531.5,114.4L531.8,115.5L532.1,116.5L532.4,117.4L532.8,118.4L533.1,119.3L533.4,120.2L533.7,121.1L534.1,121.9L534.4,122.7L534.7,123.4L535.0,124.1L535.4,124.7L535.7,125.2L536.0,125.7L536.3,126.1L536.7,126.4L537.0,126.6L537.3,126.8L537.6,126.8L538.0,126.8L538.3,126.8L538.6,126.6L538.9,126.4L539.3,126.0L539.6,125.7L539.9,125.2L540.2,124.7L540.6,124.1L540.9,123.4L541.2,122.7L541.5,121.9L541.9,121.1L542.2,120.2L542.5,119.3L542.8,118.4L543.2,117.4L543.5,116.4L543.8,115.4L544.1,114.4L544.5,113.4L544.8,112.4L545.1,111.4L545.4,110.4L545.8,109.5L546.1,108.6L546.4,107.7L546.7,106.8L547.1,106.0L547.4,105.2L547.7,104.5L548.0,103.9L548.4,103.3L548.7,102.8L549.0,102.3L549.3,102.0L549.7,101.7L550.0,101.5L550.3,101.3L550.6,101.3L551.0,101.3L551.3,101.4L551.6,101.5L551.9,101.8L552.3,102.1L552.6,102.5L552.9,103.0L553.2,103.6L553.6,104.2L553.9,104.8L554.2,105.6L554.5,106.4L554.9,107.2L555.2,108.1L555.5,109.0L555.8,109.9L556.2,110.9L556.5,111.9L556.8,112.9L557.1,113.9L557.5,114.9" fill="none" stroke="#8752a6" stroke-width="1.1" stroke-linejoin="round" stroke-dasharray="2.4,1.3"/>
<g fill="#63267f"><circle cx="460.26" cy="119.82" r="1.35"/><circle cx="461.58" cy="120.66" r="1.35"/><circle cx="463.23" cy="116.95" r="1.35"/><circle cx="464.42" cy="116.49" r="1.35"/><circle cx="465.81" cy="115.48" r="1.35"/><circle cx="467.48" cy="110.21" r="1.35"/><circle cx="469.49" cy="104.99" r="1.35"/><circle cx="470.73" cy="103.66" r="1.35"/><circle cx="472.36" cy="102.18" r="1.35"/><circle cx="474.02" cy="103.01" r="1.35"/><circle cx="475.59" cy="102.89" r="1.35"/><circle cx="476.80" cy="105.61" r="1.35"/><circle cx="478.78" cy="111.75" r="1.35"/><circle cx="479.68" cy="112.92" r="1.35"/><circle cx="481.27" cy="116.42" r="1.35"/><circle cx="483.37" cy="117.15" r="1.35"/><circle cx="484.90" cy="119.86" r="1.35"/><circle cx="486.27" cy="118.69" r="1.35"/><circle cx="487.81" cy="117.83" r="1.35"/><circle cx="489.13" cy="116.96" r="1.35"/><circle cx="491.36" cy="115.57" r="1.35"/><circle cx="492.45" cy="114.30" r="1.35"/><circle cx="494.31" cy="107.78" r="1.35"/><circle cx="495.38" cy="106.20" r="1.35"/><circle cx="496.87" cy="102.36" r="1.35"/><circle cx="498.74" cy="101.50" r="1.35"/><circle cx="499.91" cy="103.88" r="1.35"/><circle cx="501.44" cy="103.74" r="1.35"/><circle cx="503.59" cy="110.34" r="1.35"/><circle cx="505.04" cy="112.73" r="1.35"/><circle cx="506.17" cy="114.10" r="1.35"/><circle cx="507.54" cy="117.46" r="1.35"/><circle cx="509.07" cy="119.49" r="1.35"/><circle cx="510.87" cy="119.56" r="1.35"/><circle cx="512.28" cy="120.26" r="1.35"/><circle cx="514.44" cy="118.10" r="1.35"/><circle cx="515.25" cy="118.05" r="1.35"/><circle cx="516.90" cy="117.96" r="1.35"/><circle cx="519.16" cy="112.24" r="1.35"/><circle cx="520.15" cy="110.84" r="1.35"/><circle cx="521.76" cy="107.50" r="1.35"/><circle cx="523.50" cy="99.77" r="1.35"/><circle cx="524.85" cy="101.94" r="1.35"/><circle cx="526.12" cy="101.49" r="1.35"/><circle cx="527.71" cy="103.78" r="1.35"/><circle cx="529.99" cy="110.61" r="1.35"/><circle cx="530.94" cy="112.92" r="1.35"/><circle cx="532.43" cy="114.42" r="1.35"/><circle cx="534.14" cy="115.76" r="1.35"/><circle cx="536.07" cy="119.85" r="1.35"/><circle cx="537.46" cy="117.84" r="1.35"/><circle cx="538.94" cy="120.77" r="1.35"/><circle cx="540.63" cy="117.01" r="1.35"/><circle cx="541.94" cy="116.65" r="1.35"/><circle cx="543.75" cy="115.24" r="1.35"/><circle cx="544.68" cy="113.35" r="1.35"/><circle cx="547.00" cy="105.38" r="1.35"/><circle cx="548.04" cy="103.10" r="1.35"/><circle cx="549.54" cy="101.95" r="1.35"/><circle cx="551.06" cy="103.91" r="1.35"/><circle cx="552.95" cy="103.47" r="1.35"/><circle cx="554.27" cy="104.56" r="1.35"/><circle cx="555.62" cy="108.95" r="1.35"/><circle cx="557.46" cy="113.88" r="1.35"/></g>
<path d="M460.0,156.0L460.3,155.9L460.6,155.9L461.0,156.0L461.3,156.1L461.6,156.3L461.9,156.5L462.3,156.8L462.6,157.2L462.9,157.6L463.2,158.1L463.6,158.7L463.9,159.3L464.2,159.9L464.5,160.6L464.9,161.3L465.2,162.0L465.5,162.8L465.8,163.6L466.2,164.4L466.5,165.2L466.8,166.1L467.1,166.9L467.5,167.7L467.8,168.5L468.1,169.3L468.4,170.1L468.8,170.8L469.1,171.5L469.4,172.2L469.7,172.8L470.1,173.4L470.4,173.9L470.7,174.4L471.0,174.8L471.4,175.2L471.7,175.5L472.0,175.7L472.3,175.9L472.7,176.0L473.0,176.0L473.3,176.0L473.6,175.9L474.0,175.8L474.3,175.5L474.6,175.3L474.9,174.9L475.3,174.5L475.6,174.0L475.9,173.5L476.2,172.9L476.6,172.3L476.9,171.7L477.2,171.0L477.5,170.2L477.9,169.5L478.2,168.7L478.5,167.9L478.8,167.1L479.2,166.2L479.5,165.4L479.8,164.6L480.1,163.8L480.5,163.0L480.8,162.2L481.1,161.5L481.4,160.7L481.8,160.1L482.1,159.4L482.4,158.8L482.7,158.3L483.1,157.8L483.4,157.3L483.7,156.9L484.0,156.6L484.4,156.3L484.7,156.1L485.0,156.0L485.3,155.9L485.7,155.9L486.0,156.0L486.3,156.1L486.6,156.3L487.0,156.6L487.3,156.9L487.6,157.3L487.9,157.7L488.3,158.2L488.6,158.8L488.9,159.4L489.2,160.0L489.6,160.7L489.9,161.4L490.2,162.2L490.5,162.9L490.9,163.7L491.2,164.5L491.5,165.4L491.8,166.2L492.2,167.0L492.5,167.8L492.8,168.6L493.1,169.4L493.5,170.2L493.8,170.9L494.1,171.6L494.4,172.3L494.8,172.9L495.1,173.5L495.4,174.0L495.7,174.5L496.1,174.9L496.4,175.2L496.7,175.5L497.0,175.8L497.4,175.9L497.7,176.0L498.0,176.0L498.3,176.0L498.7,175.9L499.0,175.7L499.3,175.5L499.6,175.2L500.0,174.8L500.3,174.4L500.6,174.0L500.9,173.4L501.3,172.8L501.6,172.2L501.9,171.6L502.2,170.9L502.6,170.1L502.9,169.4L503.2,168.6L503.5,167.8L503.9,166.9L504.2,166.1L504.5,165.3L504.8,164.5L505.2,163.7L505.5,162.9L505.8,162.1L506.1,161.4L506.5,160.6L506.8,160.0L507.1,159.3L507.4,158.7L507.8,158.2L508.1,157.7L508.4,157.2L508.7,156.9L509.1,156.5L509.4,156.3L509.7,156.1L510.0,156.0L510.4,155.9L510.7,155.9L511.0,156.0L511.3,156.1L511.7,156.3L512.0,156.6L512.3,156.9L512.6,157.3L513.0,157.8L513.3,158.3L513.6,158.9L513.9,159.5L514.2,160.1L514.6,160.8L514.9,161.5L515.2,162.3L515.5,163.0L515.9,163.8L516.2,164.7L516.5,165.5L516.8,166.3L517.2,167.1L517.5,167.9L517.8,168.7L518.1,169.5L518.5,170.3L518.8,171.0L519.1,171.7L519.4,172.4L519.8,173.0L520.1,173.5L520.4,174.1L520.7,174.5L521.1,174.9L521.4,175.3L521.7,175.6L522.0,175.8L522.4,175.9L522.7,176.0L523.0,176.0L523.3,176.0L523.7,175.9L524.0,175.7L524.3,175.5L524.6,175.2L525.0,174.8L525.3,174.4L525.6,173.9L525.9,173.3L526.3,172.8L526.6,172.1L526.9,171.5L527.2,170.7L527.6,170.0L527.9,169.2L528.2,168.4L528.5,167.6L528.9,166.8L529.2,166.0L529.5,165.2L529.8,164.4L530.2,163.6L530.5,162.8L530.8,162.0L531.1,161.3L531.5,160.5L531.8,159.9L532.1,159.2L532.4,158.6L532.8,158.1L533.1,157.6L533.4,157.2L533.7,156.8L534.1,156.5L534.4,156.3L534.7,156.1L535.0,156.0L535.4,155.9L535.7,155.9L536.0,156.0L536.3,156.2L536.7,156.4L537.0,156.7L537.3,157.0L537.6,157.4L538.0,157.9L538.3,158.4L538.6,158.9L538.9,159.5L539.3,160.2L539.6,160.9L539.9,161.6L540.2,162.4L540.6,163.2L540.9,164.0L541.2,164.8L541.5,165.6L541.9,166.4L542.2,167.2L542.5,168.1L542.8,168.8L543.2,169.6L543.5,170.4L543.8,171.1L544.1,171.8L544.5,172.5L544.8,173.1L545.1,173.6L545.4,174.1L545.8,174.6L546.1,175.0L546.4,175.3L546.7,175.6L547.1,175.8L547.4,176.0L547.7,176.0L548.0,176.0L548.4,176.0L548.7,175.9L549.0,175.7L549.3,175.4L549.7,175.1L550.0,174.7L550.3,174.3L550.6,173.8L551.0,173.3L551.3,172.7L551.6,172.0L551.9,171.4L552.3,170.6L552.6,169.9L552.9,169.1L553.2,168.3L553.6,167.5L553.9,166.7L554.2,165.9L554.5,165.1L554.9,164.2L555.2,163.4L555.5,162.7L555.8,161.9L556.2,161.1L556.5,160.4L556.8,159.8L557.1,159.1L557.5,158.6" fill="none" stroke="#63267f" stroke-width="0.8" stroke-linejoin="round" stroke-opacity="0.6"/>
<path d="M460.0,151.8L460.3,151.7L460.6,151.7L461.0,151.7L461.3,151.9L461.6,152.1L461.9,152.4L462.3,152.8L462.6,153.3L462.9,153.8L463.2,154.4L463.6,155.1L463.9,155.8L464.2,156.6L464.5,157.4L464.9,158.3L465.2,159.2L465.5,160.2L465.8,161.1L466.2,162.1L466.5,163.1L466.8,164.1L467.1,165.1L467.5,166.1L467.8,167.1L468.1,168.1L468.4,169.0L468.8,169.9L469.1,170.8L469.4,171.6L469.7,172.4L470.1,173.1L470.4,173.8L470.7,174.3L471.0,174.9L471.4,175.3L471.7,175.7L472.0,176.0L472.3,176.2L472.7,176.3L473.0,176.4L473.3,176.3L473.6,176.2L474.0,176.0L474.3,175.8L474.6,175.4L474.9,175.0L475.3,174.5L475.6,173.9L475.9,173.3L476.2,172.6L476.6,171.8L476.9,171.0L477.2,170.1L477.5,169.2L477.9,168.3L478.2,167.3L478.5,166.4L478.8,165.4L479.2,164.4L479.5,163.3L479.8,162.3L480.1,161.3L480.5,160.4L480.8,159.4L481.1,158.5L481.4,157.6L481.8,156.8L482.1,156.0L482.4,155.2L482.7,154.6L483.1,153.9L483.4,153.4L483.7,152.9L484.0,152.5L484.4,152.2L484.7,151.9L485.0,151.8L485.3,151.7L485.7,151.7L486.0,151.8L486.3,151.9L486.6,152.2L487.0,152.5L487.3,152.9L487.6,153.4L487.9,153.9L488.3,154.5L488.6,155.2L488.9,155.9L489.2,156.7L489.6,157.5L489.9,158.4L490.2,159.3L490.5,160.3L490.9,161.3L491.2,162.3L491.5,163.3L491.8,164.3L492.2,165.3L492.5,166.3L492.8,167.3L493.1,168.2L493.5,169.2L493.8,170.1L494.1,170.9L494.4,171.7L494.8,172.5L495.1,173.2L495.4,173.8L495.7,174.4L496.1,174.9L496.4,175.4L496.7,175.7L497.0,176.0L497.4,176.2L497.7,176.3L498.0,176.4L498.3,176.3L498.7,176.2L499.0,176.0L499.3,175.7L499.6,175.3L500.0,174.9L500.3,174.4L500.6,173.8L500.9,173.2L501.3,172.4L501.6,171.7L501.9,170.9L502.2,170.0L502.6,169.1L502.9,168.2L503.2,167.2L503.5,166.2L503.9,165.2L504.2,164.2L504.5,163.2L504.8,162.2L505.2,161.2L505.5,160.2L505.8,159.3L506.1,158.4L506.5,157.5L506.8,156.7L507.1,155.9L507.4,155.1L507.8,154.5L508.1,153.9L508.4,153.3L508.7,152.9L509.1,152.5L509.4,152.1L509.7,151.9L510.0,151.8L510.4,151.7L510.7,151.7L511.0,151.8L511.3,152.0L511.7,152.2L512.0,152.5L512.3,152.9L512.6,153.4L513.0,154.0L513.3,154.6L513.6,155.3L513.9,156.0L514.2,156.8L514.6,157.7L514.9,158.6L515.2,159.5L515.5,160.4L515.9,161.4L516.2,162.4L516.5,163.4L516.8,164.4L517.2,165.4L517.5,166.4L517.8,167.4L518.1,168.4L518.5,169.3L518.8,170.2L519.1,171.0L519.4,171.8L519.8,172.6L520.1,173.3L520.4,173.9L520.7,174.5L521.1,175.0L521.4,175.4L521.7,175.8L522.0,176.0L522.4,176.2L522.7,176.3L523.0,176.4L523.3,176.3L523.7,176.2L524.0,176.0L524.3,175.7L524.6,175.3L525.0,174.8L525.3,174.3L525.6,173.7L525.9,173.1L526.3,172.3L526.6,171.6L526.9,170.7L527.2,169.9L527.6,169.0L527.9,168.0L528.2,167.1L528.5,166.1L528.9,165.1L529.2,164.1L529.5,163.1L529.8,162.0L530.2,161.1L530.5,160.1L530.8,159.1L531.1,158.2L531.5,157.4L531.8,156.5L532.1,155.8L532.4,155.0L532.8,154.4L533.1,153.8L533.4,153.3L533.7,152.8L534.1,152.4L534.4,152.1L534.7,151.9L535.0,151.7L535.4,151.7L535.7,151.7L536.0,151.8L536.3,152.0L536.7,152.3L537.0,152.6L537.3,153.0L537.6,153.5L538.0,154.1L538.3,154.7L538.6,155.4L538.9,156.1L539.3,157.0L539.6,157.8L539.9,158.7L540.2,159.6L540.6,160.6L540.9,161.6L541.2,162.6L541.5,163.6L541.9,164.6L542.2,165.6L542.5,166.6L542.8,167.5L543.2,168.5L543.5,169.4L543.8,170.3L544.1,171.2L544.5,172.0L544.8,172.7L545.1,173.4L545.4,174.0L545.8,174.6L546.1,175.1L546.4,175.5L546.7,175.8L547.1,176.1L547.4,176.3L547.7,176.4L548.0,176.4L548.4,176.3L548.7,176.2L549.0,175.9L549.3,175.6L549.7,175.2L550.0,174.8L550.3,174.2L550.6,173.6L551.0,173.0L551.3,172.2L551.6,171.4L551.9,170.6L552.3,169.7L552.6,168.8L552.9,167.9L553.2,166.9L553.6,165.9L553.9,164.9L554.2,163.9L554.5,162.9L554.9,161.9L555.2,160.9L555.5,160.0L555.8,159.0L556.2,158.1L556.5,157.2L556.8,156.4L557.1,155.7L557.5,154.9" fill="none" stroke="#8752a6" stroke-width="1.1" stroke-linejoin="round" stroke-dasharray="2.4,1.3"/>
<g fill="#63267f"><circle cx="460.00" cy="155.60" r="1.35"/><circle cx="461.98" cy="154.47" r="1.35"/><circle cx="463.05" cy="157.43" r="1.35"/><circle cx="464.28" cy="159.54" r="1.35"/><circle cx="466.05" cy="163.50" r="1.35"/><circle cx="467.52" cy="167.43" r="1.35"/><circle cx="469.34" cy="170.78" r="1.35"/><circle cx="470.75" cy="175.49" r="1.35"/><circle cx="472.30" cy="176.82" r="1.35"/><circle cx="473.78" cy="176.01" r="1.35"/><circle cx="475.09" cy="175.17" r="1.35"/><circle cx="476.69" cy="169.56" r="1.35"/><circle cx="478.57" cy="169.09" r="1.35"/><circle cx="479.86" cy="165.90" r="1.35"/><circle cx="481.46" cy="160.70" r="1.35"/><circle cx="483.16" cy="156.64" r="1.35"/><circle cx="485.15" cy="154.79" r="1.35"/><circle cx="485.88" cy="157.55" r="1.35"/><circle cx="487.43" cy="157.58" r="1.35"/><circle cx="489.37" cy="162.29" r="1.35"/><circle cx="491.01" cy="163.14" r="1.35"/><circle cx="492.86" cy="168.74" r="1.35"/><circle cx="494.32" cy="170.42" r="1.35"/><circle cx="495.36" cy="175.97" r="1.35"/><circle cx="496.78" cy="174.91" r="1.35"/><circle cx="498.83" cy="174.85" r="1.35"/><circle cx="500.61" cy="174.20" r="1.35"/><circle cx="502.00" cy="172.74" r="1.35"/><circle cx="503.28" cy="168.65" r="1.35"/><circle cx="505.11" cy="163.88" r="1.35"/><circle cx="506.17" cy="160.03" r="1.35"/><circle cx="507.78" cy="158.81" r="1.35"/><circle cx="509.18" cy="156.45" r="1.35"/><circle cx="511.22" cy="154.69" r="1.35"/><circle cx="512.25" cy="155.81" r="1.35"/><circle cx="514.21" cy="159.52" r="1.35"/><circle cx="515.59" cy="162.93" r="1.35"/><circle cx="516.81" cy="164.89" r="1.35"/><circle cx="518.61" cy="172.97" r="1.35"/><circle cx="520.46" cy="173.51" r="1.35"/><circle cx="522.21" cy="176.58" r="1.35"/><circle cx="523.20" cy="175.92" r="1.35"/><circle cx="525.37" cy="174.49" r="1.35"/><circle cx="526.10" cy="173.87" r="1.35"/><circle cx="528.06" cy="169.30" r="1.35"/><circle cx="529.40" cy="166.39" r="1.35"/><circle cx="531.30" cy="160.27" r="1.35"/><circle cx="532.30" cy="159.22" r="1.35"/><circle cx="534.11" cy="157.76" r="1.35"/><circle cx="535.53" cy="155.20" r="1.35"/><circle cx="537.61" cy="157.43" r="1.35"/><circle cx="538.63" cy="160.13" r="1.35"/><circle cx="540.85" cy="164.55" r="1.35"/><circle cx="541.75" cy="164.46" r="1.35"/><circle cx="543.29" cy="169.87" r="1.35"/><circle cx="545.48" cy="175.00" r="1.35"/><circle cx="546.62" cy="175.25" r="1.35"/><circle cx="548.10" cy="175.40" r="1.35"/><circle cx="549.87" cy="174.36" r="1.35"/><circle cx="551.17" cy="173.05" r="1.35"/><circle cx="552.56" cy="169.41" r="1.35"/><circle cx="553.97" cy="166.57" r="1.35"/><circle cx="555.52" cy="164.24" r="1.35"/><circle cx="557.46" cy="157.27" r="1.35"/></g>
<path d="M575.2,111.2L575.6,111.1L576.0,110.9L576.3,110.8L576.7,110.6L577.0,110.4L577.4,110.2L577.7,110.0L578.1,109.8L578.4,109.6L578.8,109.4L579.1,109.2L579.5,108.9L579.9,108.7L580.2,108.5L580.6,108.3L580.9,108.1L581.3,107.8L581.6,107.6L582.0,107.4L582.3,107.2L582.7,107.0L583.0,106.8L583.4,106.6L583.7,106.5L584.1,106.3L584.5,106.1L584.8,106.0L585.2,105.8L585.5,105.7L585.9,105.6L586.2,105.5L586.6,105.4L586.9,105.3L587.3,105.2L587.6,105.2L588.0,105.1L588.3,105.1L588.7,105.1L589.1,105.1L589.4,105.1L589.8,105.1L590.1,105.2L590.5,105.2L590.8,105.3L591.2,105.4L591.5,105.4L591.9,105.6L592.2,105.7L592.6,105.8L593.0,105.9L593.3,106.1L593.7,106.2L594.0,106.4L594.4,106.6L594.7,106.8L595.1,106.9L595.4,107.1L595.8,107.3L596.1,107.6L596.5,107.8L596.8,108.0L597.2,108.2L597.6,108.4L597.9,108.6L598.3,108.9L598.6,109.1L599.0,109.3L599.3,109.5L599.7,109.7L600.0,109.9L600.4,110.1L600.7,110.3L601.1,110.5L601.4,110.7L601.8,110.9L602.2,111.0L602.5,111.2L602.9,111.3L603.2,111.5L603.6,111.6L603.9,111.7L604.3,111.8L604.6,111.9L605.0,112.0L605.3,112.0L605.7,112.1L606.1,112.1L606.4,112.1L606.8,112.1L607.1,112.1L607.5,112.1L607.8,112.1L608.2,112.0L608.5,112.0L608.9,111.9L609.2,111.8L609.6,111.7L609.9,111.6L610.3,111.5L610.7,111.3L611.0,111.2L611.4,111.0L611.7,110.9L612.1,110.7L612.4,110.5L612.8,110.3L613.1,110.1L613.5,109.9L613.8,109.7L614.2,109.5L614.5,109.3L614.9,109.1L615.3,108.9L615.6,108.7L616.0,108.4L616.3,108.2L616.7,108.0L617.0,107.8L617.4,107.6L617.7,107.4L618.1,107.2L618.4,107.0L618.8,106.8L619.2,106.6L619.5,106.4L619.9,106.3L620.2,106.1L620.6,105.9L620.9,105.8L621.3,105.7L621.6,105.6L622.0,105.5L622.3,105.4L622.7,105.3L623.0,105.2L623.4,105.2L623.8,105.1L624.1,105.1L624.5,105.1L624.8,105.1L625.2,105.1L625.5,105.1L625.9,105.2L626.2,105.2L626.6,105.3L626.9,105.4L627.3,105.5L627.6,105.6L628.0,105.7L628.4,105.8L628.7,106.0L629.1,106.1L629.4,106.3L629.8,106.4L630.1,106.6L630.5,106.8L630.8,107.0L631.2,107.2L631.5,107.4L631.9,107.6L632.3,107.8L632.6,108.0L633.0,108.3L633.3,108.5L633.7,108.7L634.0,108.9L634.4,109.1L634.7,109.3L635.1,109.6L635.4,109.8L635.8,110.0L636.1,110.2L636.5,110.4L636.9,110.6L637.2,110.7L637.6,110.9L637.9,111.1L638.3,111.2L638.6,111.4L639.0,111.5L639.3,111.6L639.7,111.7L640.0,111.8L640.4,111.9L640.7,112.0L641.1,112.0L641.5,112.1L641.8,112.1L642.2,112.1L642.5,112.1L642.9,112.1L643.2,112.1L643.6,112.1L643.9,112.0L644.3,111.9L644.6,111.9L645.0,111.8L645.4,111.7L645.7,111.6L646.1,111.4L646.4,111.3L646.8,111.2L647.1,111.0L647.5,110.8L647.8,110.7L648.2,110.5L648.5,110.3L648.9,110.1L649.2,109.9L649.6,109.7L650.0,109.5L650.3,109.3L650.7,109.1L651.0,108.8L651.4,108.6L651.7,108.4L652.1,108.2L652.4,108.0L652.8,107.7L653.1,107.5L653.5,107.3L653.8,107.1L654.2,106.9L654.6,106.7L654.9,106.6L655.3,106.4L655.6,106.2L656.0,106.1L656.3,105.9L656.7,105.8L657.0,105.7L657.4,105.5L657.7,105.4L658.1,105.4L658.4,105.3L658.8,105.2L659.2,105.2L659.5,105.1L659.9,105.1L660.2,105.1L660.6,105.1L660.9,105.1L661.3,105.1L661.6,105.2L662.0,105.2L662.3,105.3L662.7,105.4L663.1,105.5L663.4,105.6L663.8,105.7L664.1,105.9L664.5,106.0L664.8,106.2L665.2,106.3L665.5,106.5L665.9,106.7L666.2,106.8L666.6,107.0L666.9,107.2L667.3,107.4L667.7,107.7L668.0,107.9L668.4,108.1L668.7,108.3L669.1,108.5L669.4,108.7L669.8,109.0L670.1,109.2L670.5,109.4L670.8,109.6L671.2,109.8L671.5,110.0L671.9,110.2L672.3,110.4L672.6,110.6L673.0,110.8L673.3,110.9L673.7,111.1L674.0,111.3L674.4,111.4L674.7,111.5L675.1,111.6L675.4,111.7L675.8,111.8L676.2,111.9L676.5,112.0L676.9,112.0L677.2,112.1L677.6,112.1L677.9,112.1L678.3,112.1L678.6,112.1L679.0,112.1L679.3,112.1L679.7,112.0L680.0,111.9L680.4,111.9L680.8,111.8L681.1,111.7L681.5,111.5" fill="none" stroke="#c23c78" stroke-width="0.9" stroke-linejoin="round" stroke-opacity="1.0"/>
<g fill="#c23c78"><circle cx="575.25" cy="110.12" r="1.45"/><circle cx="579.50" cy="108.96" r="1.45"/><circle cx="583.75" cy="105.74" r="1.45"/><circle cx="588.00" cy="105.45" r="1.45"/><circle cx="592.24" cy="106.00" r="1.45"/><circle cx="596.49" cy="107.45" r="1.45"/><circle cx="600.74" cy="109.93" r="1.45"/><circle cx="604.99" cy="111.95" r="1.45"/><circle cx="609.24" cy="110.92" r="1.45"/><circle cx="613.49" cy="109.08" r="1.45"/><circle cx="617.74" cy="106.99" r="1.45"/><circle cx="621.98" cy="106.27" r="1.45"/><circle cx="626.23" cy="105.69" r="1.45"/><circle cx="630.48" cy="106.73" r="1.45"/><circle cx="634.73" cy="110.02" r="1.45"/><circle cx="638.98" cy="110.72" r="1.45"/><circle cx="643.23" cy="111.79" r="1.45"/><circle cx="647.47" cy="111.60" r="1.45"/><circle cx="651.72" cy="107.40" r="1.45"/><circle cx="655.97" cy="105.65" r="1.45"/><circle cx="660.22" cy="104.74" r="1.45"/><circle cx="664.47" cy="106.26" r="1.45"/><circle cx="668.72" cy="108.58" r="1.45"/><circle cx="672.97" cy="111.02" r="1.45"/><circle cx="677.21" cy="112.09" r="1.45"/><circle cx="681.46" cy="111.50" r="1.45"/></g>
<path d="M575.2,169.7L575.6,169.7L576.0,169.8L576.3,169.8L576.7,169.9L577.0,170.0L577.4,170.1L577.7,170.2L578.1,170.3L578.4,170.5L578.8,170.6L579.1,170.7L579.5,170.9L579.9,171.0L580.2,171.2L580.6,171.3L580.9,171.5L581.3,171.7L581.6,171.8L582.0,172.0L582.3,172.2L582.7,172.3L583.0,172.5L583.4,172.7L583.7,172.9L584.1,173.0L584.5,173.2L584.8,173.4L585.2,173.5L585.5,173.7L585.9,173.8L586.2,174.0L586.6,174.1L586.9,174.2L587.3,174.3L587.6,174.5L588.0,174.6L588.3,174.7L588.7,174.7L589.1,174.8L589.4,174.9L589.8,174.9L590.1,175.0L590.5,175.0L590.8,175.1L591.2,175.1L591.5,175.1L591.9,175.1L592.2,175.1L592.6,175.0L593.0,175.0L593.3,174.9L593.7,174.9L594.0,174.8L594.4,174.7L594.7,174.6L595.1,174.5L595.4,174.4L595.8,174.3L596.1,174.2L596.5,174.1L596.8,173.9L597.2,173.8L597.6,173.6L597.9,173.5L598.3,173.3L598.6,173.2L599.0,173.0L599.3,172.8L599.7,172.7L600.0,172.5L600.4,172.3L600.7,172.2L601.1,172.0L601.4,171.8L601.8,171.6L602.2,171.5L602.5,171.3L602.9,171.2L603.2,171.0L603.6,170.8L603.9,170.7L604.3,170.6L604.6,170.4L605.0,170.3L605.3,170.2L605.7,170.1L606.1,170.0L606.4,169.9L606.8,169.8L607.1,169.8L607.5,169.7L607.8,169.6L608.2,169.6L608.5,169.6L608.9,169.6L609.2,169.6L609.6,169.6L609.9,169.6L610.3,169.6L610.7,169.6L611.0,169.7L611.4,169.7L611.7,169.8L612.1,169.9L612.4,170.0L612.8,170.1L613.1,170.2L613.5,170.3L613.8,170.4L614.2,170.5L614.5,170.6L614.9,170.8L615.3,170.9L615.6,171.1L616.0,171.2L616.3,171.4L616.7,171.6L617.0,171.7L617.4,171.9L617.7,172.1L618.1,172.3L618.4,172.4L618.8,172.6L619.2,172.8L619.5,172.9L619.9,173.1L620.2,173.3L620.6,173.4L620.9,173.6L621.3,173.7L621.6,173.9L622.0,174.0L622.3,174.2L622.7,174.3L623.0,174.4L623.4,174.5L623.8,174.6L624.1,174.7L624.5,174.8L624.8,174.9L625.2,174.9L625.5,175.0L625.9,175.0L626.2,175.0L626.6,175.1L626.9,175.1L627.3,175.1L627.6,175.1L628.0,175.0L628.4,175.0L628.7,175.0L629.1,174.9L629.4,174.8L629.8,174.8L630.1,174.7L630.5,174.6L630.8,174.5L631.2,174.4L631.5,174.3L631.9,174.1L632.3,174.0L632.6,173.9L633.0,173.7L633.3,173.6L633.7,173.4L634.0,173.3L634.4,173.1L634.7,172.9L635.1,172.8L635.4,172.6L635.8,172.4L636.1,172.2L636.5,172.1L636.9,171.9L637.2,171.7L637.6,171.6L637.9,171.4L638.3,171.2L638.6,171.1L639.0,170.9L639.3,170.8L639.7,170.6L640.0,170.5L640.4,170.4L640.7,170.3L641.1,170.2L641.5,170.0L641.8,170.0L642.2,169.9L642.5,169.8L642.9,169.7L643.2,169.7L643.6,169.6L643.9,169.6L644.3,169.6L644.6,169.6L645.0,169.6L645.4,169.6L645.7,169.6L646.1,169.6L646.4,169.6L646.8,169.7L647.1,169.8L647.5,169.8L647.8,169.9L648.2,170.0L648.5,170.1L648.9,170.2L649.2,170.3L649.6,170.4L650.0,170.6L650.3,170.7L650.7,170.9L651.0,171.0L651.4,171.2L651.7,171.3L652.1,171.5L652.4,171.6L652.8,171.8L653.1,172.0L653.5,172.2L653.8,172.3L654.2,172.5L654.6,172.7L654.9,172.8L655.3,173.0L655.6,173.2L656.0,173.3L656.3,173.5L656.7,173.7L657.0,173.8L657.4,173.9L657.7,174.1L658.1,174.2L658.4,174.3L658.8,174.4L659.2,174.5L659.5,174.6L659.9,174.7L660.2,174.8L660.6,174.9L660.9,174.9L661.3,175.0L661.6,175.0L662.0,175.1L662.3,175.1L662.7,175.1L663.1,175.1L663.4,175.1L663.8,175.0L664.1,175.0L664.5,174.9L664.8,174.9L665.2,174.8L665.5,174.7L665.9,174.7L666.2,174.6L666.6,174.5L666.9,174.3L667.3,174.2L667.7,174.1L668.0,174.0L668.4,173.8L668.7,173.7L669.1,173.5L669.4,173.4L669.8,173.2L670.1,173.0L670.5,172.9L670.8,172.7L671.2,172.5L671.5,172.3L671.9,172.2L672.3,172.0L672.6,171.8L673.0,171.7L673.3,171.5L673.7,171.3L674.0,171.2L674.4,171.0L674.7,170.9L675.1,170.7L675.4,170.6L675.8,170.5L676.2,170.3L676.5,170.2L676.9,170.1L677.2,170.0L677.6,169.9L677.9,169.8L678.3,169.8L678.6,169.7L679.0,169.6L679.3,169.6L679.7,169.6L680.0,169.6L680.4,169.6L680.8,169.6L681.1,169.6L681.5,169.6" fill="none" stroke="#c23c78" stroke-width="0.9" stroke-linejoin="round" stroke-opacity="1.0"/>
<g fill="#c23c78"><circle cx="575.25" cy="170.27" r="1.45"/><circle cx="579.50" cy="171.57" r="1.45"/><circle cx="583.75" cy="173.83" r="1.45"/><circle cx="588.00" cy="174.41" r="1.45"/><circle cx="592.24" cy="175.05" r="1.45"/><circle cx="596.49" cy="173.66" r="1.45"/><circle cx="600.74" cy="171.86" r="1.45"/><circle cx="604.99" cy="169.67" r="1.45"/><circle cx="609.24" cy="169.47" r="1.45"/><circle cx="613.49" cy="170.79" r="1.45"/><circle cx="617.74" cy="172.52" r="1.45"/><circle cx="621.98" cy="173.50" r="1.45"/><circle cx="626.23" cy="175.04" r="1.45"/><circle cx="630.48" cy="174.89" r="1.45"/><circle cx="634.73" cy="173.26" r="1.45"/><circle cx="638.98" cy="171.04" r="1.45"/><circle cx="643.23" cy="169.37" r="1.45"/><circle cx="647.47" cy="169.85" r="1.45"/><circle cx="651.72" cy="171.93" r="1.45"/><circle cx="655.97" cy="173.33" r="1.45"/><circle cx="660.22" cy="175.28" r="1.45"/><circle cx="664.47" cy="174.67" r="1.45"/><circle cx="668.72" cy="173.33" r="1.45"/><circle cx="672.97" cy="172.13" r="1.45"/><circle cx="677.21" cy="170.14" r="1.45"/><circle cx="681.46" cy="169.10" r="1.45"/></g>
<line x1="275.09" y1="95.31" x2="290.26" y2="80.14" stroke="#62adc2" stroke-width="2.37"/>
<polygon points="294.29,76.11 292.36,82.23 288.17,78.04" fill="#62adc2"/>
<circle cx="283.20" cy="87.20" r="7.40" fill="url(#gn1)"/>
<text x="279.44" y="88.75" font-family="'Liberation Serif', serif" font-size="11.00" fill="#111" stroke="#111" stroke-width="0.25">n<tspan font-size="7.26" dy="1.85" stroke-width="0.15">1</tspan></text>
<line x1="390.18" y1="95.22" x2="405.56" y2="79.84" stroke="#7287b6" stroke-width="2.40"/>
<polygon points="409.64,75.76 407.68,81.96 403.44,77.72" fill="#7287b6"/>
<circle cx="398.40" cy="87.00" r="7.50" fill="url(#gn2)"/>
<text x="394.63" y="88.58" font-family="'Liberation Serif', serif" font-size="11.00" fill="#111" stroke="#111" stroke-width="0.25">n<tspan font-size="7.26" dy="1.88" stroke-width="0.15">2</tspan></text>
<line x1="505.39" y1="95.31" x2="520.56" y2="80.14" stroke="#955fae" stroke-width="2.37"/>
<polygon points="524.59,76.11 522.66,82.23 518.47,78.04" fill="#955fae"/>
<circle cx="513.50" cy="87.20" r="7.40" fill="url(#gn3)"/>
<text x="509.74" y="88.75" font-family="'Liberation Serif', serif" font-size="11.00" fill="#111" stroke="#111" stroke-width="0.25">n<tspan font-size="7.26" dy="1.85" stroke-width="0.15">3</tspan></text>
<line x1="620.39" y1="95.31" x2="635.56" y2="80.14" stroke="#dc75a6" stroke-width="2.37"/>
<polygon points="639.59,76.11 637.66,82.23 633.47,78.04" fill="#dc75a6"/>
<circle cx="628.50" cy="87.20" r="7.40" fill="url(#gn4)"/>
<text x="624.73" y="88.75" font-family="'Liberation Serif', serif" font-size="11.00" fill="#111" stroke="#111" stroke-width="0.25">n<tspan font-size="7.26" dy="1.85" stroke-width="0.15">4</tspan></text>
<text x="213.50" y="211.20" font-family="'Liberation Serif', serif" font-size="13.5" text-anchor="start" font-weight="bold" font-style="normal" fill="#111" stroke="#111" stroke-width="0.3">f</text>
<rect x="229.60" y="218.30" width="109.65" height="85.00" fill="#fff" stroke="#e2e2e2" stroke-width="1"/>
<line x1="234.50" y1="218.30" x2="234.50" y2="303.30" stroke="#ebebeb" stroke-width="1"/>
<line x1="302.35" y1="218.30" x2="302.35" y2="303.30" stroke="#ebebeb" stroke-width="1"/>
<line x1="229.60" y1="228.50" x2="339.25" y2="228.50" stroke="#ebebeb" stroke-width="1"/>
<line x1="229.60" y1="262.75" x2="339.25" y2="262.75" stroke="#ebebeb" stroke-width="1"/>
<line x1="229.60" y1="297.00" x2="339.25" y2="297.00" stroke="#ebebeb" stroke-width="1"/>
<line x1="229.90" y1="228.50" x2="232.90" y2="228.50" stroke="#333" stroke-width="1"/>
<text x="228.00" y="232.20" font-family="'Liberation Serif', serif" font-size="11" text-anchor="end" fill="#111" transform="translate(228.00,0) scale(1.04,1) translate(-228.00,0)">1.0</text>
<line x1="229.90" y1="262.75" x2="232.90" y2="262.75" stroke="#333" stroke-width="1"/>
<text x="228.00" y="266.45" font-family="'Liberation Serif', serif" font-size="11" text-anchor="end" fill="#111" transform="translate(228.00,0) scale(1.04,1) translate(-228.00,0)">0.5</text>
<line x1="229.90" y1="297.00" x2="232.90" y2="297.00" stroke="#333" stroke-width="1"/>
<text x="228.00" y="300.70" font-family="'Liberation Serif', serif" font-size="11" text-anchor="end" fill="#111" transform="translate(228.00,0) scale(1.04,1) translate(-228.00,0)">0.0</text>
<line x1="234.50" y1="300.10" x2="234.50" y2="303.10" stroke="#333" stroke-width="1"/>
<text x="234.50" y="311.80" font-family="'Liberation Serif', serif" font-size="11" text-anchor="middle" fill="#111" transform="translate(234.50,0) scale(1.1,1) translate(-234.50,0)">0</text>
<line x1="302.35" y1="300.10" x2="302.35" y2="303.10" stroke="#333" stroke-width="1"/>
<text x="302.35" y="311.80" font-family="'Liberation Serif', serif" font-size="11" text-anchor="middle" fill="#111" transform="translate(302.35,0) scale(1.1,1) translate(-302.35,0)">10</text>
<text x="267.43" y="323.8" font-family="'Liberation Serif', serif" font-size="12.5" fill="#111" stroke="#111" stroke-width="0.2" textLength="34" lengthAdjust="spacingAndGlyphs"><tspan font-style="italic">τ</tspan> (ms)</text>
<rect x="344.90" y="218.30" width="109.60" height="85.00" fill="#fff" stroke="#e2e2e2" stroke-width="1"/>
<line x1="349.80" y1="218.30" x2="349.80" y2="303.30" stroke="#ebebeb" stroke-width="1"/>
<line x1="417.50" y1="218.30" x2="417.50" y2="303.30" stroke="#ebebeb" stroke-width="1"/>
<line x1="344.90" y1="228.50" x2="454.50" y2="228.50" stroke="#ebebeb" stroke-width="1"/>
<line x1="344.90" y1="262.75" x2="454.50" y2="262.75" stroke="#ebebeb" stroke-width="1"/>
<line x1="344.90" y1="297.00" x2="454.50" y2="297.00" stroke="#ebebeb" stroke-width="1"/>
<line x1="345.20" y1="228.50" x2="348.20" y2="228.50" stroke="#333" stroke-width="1"/>
<line x1="345.20" y1="262.75" x2="348.20" y2="262.75" stroke="#333" stroke-width="1"/>
<line x1="345.20" y1="297.00" x2="348.20" y2="297.00" stroke="#333" stroke-width="1"/>
<line x1="349.80" y1="300.10" x2="349.80" y2="303.10" stroke="#333" stroke-width="1"/>
<text x="349.80" y="311.80" font-family="'Liberation Serif', serif" font-size="11" text-anchor="middle" fill="#111" transform="translate(349.80,0) scale(1.1,1) translate(-349.80,0)">0</text>
<line x1="417.50" y1="300.10" x2="417.50" y2="303.10" stroke="#333" stroke-width="1"/>
<text x="417.50" y="311.80" font-family="'Liberation Serif', serif" font-size="11" text-anchor="middle" fill="#111" transform="translate(417.50,0) scale(1.1,1) translate(-417.50,0)">10</text>
<text x="382.70" y="323.8" font-family="'Liberation Serif', serif" font-size="12.5" fill="#111" stroke="#111" stroke-width="0.2" textLength="34" lengthAdjust="spacingAndGlyphs"><tspan font-style="italic">τ</tspan> (ms)</text>
<rect x="460.00" y="218.30" width="109.50" height="85.00" fill="#fff" stroke="#e2e2e2" stroke-width="1"/>
<line x1="464.90" y1="218.30" x2="464.90" y2="303.30" stroke="#ebebeb" stroke-width="1"/>
<line x1="523.20" y1="218.30" x2="523.20" y2="303.30" stroke="#ebebeb" stroke-width="1"/>
<line x1="460.00" y1="228.50" x2="569.50" y2="228.50" stroke="#ebebeb" stroke-width="1"/>
<line x1="460.00" y1="262.75" x2="569.50" y2="262.75" stroke="#ebebeb" stroke-width="1"/>
<line x1="460.00" y1="297.00" x2="569.50" y2="297.00" stroke="#ebebeb" stroke-width="1"/>
<line x1="460.30" y1="228.50" x2="463.30" y2="228.50" stroke="#333" stroke-width="1"/>
<line x1="460.30" y1="262.75" x2="463.30" y2="262.75" stroke="#333" stroke-width="1"/>
<line x1="460.30" y1="297.00" x2="463.30" y2="297.00" stroke="#333" stroke-width="1"/>
<line x1="464.90" y1="300.10" x2="464.90" y2="303.10" stroke="#333" stroke-width="1"/>
<text x="464.90" y="311.80" font-family="'Liberation Serif', serif" font-size="11" text-anchor="middle" fill="#111" transform="translate(464.90,0) scale(1.1,1) translate(-464.90,0)">0</text>
<line x1="523.20" y1="300.10" x2="523.20" y2="303.10" stroke="#333" stroke-width="1"/>
<text x="523.20" y="311.80" font-family="'Liberation Serif', serif" font-size="11" text-anchor="middle" fill="#111" transform="translate(523.20,0) scale(1.1,1) translate(-523.20,0)">10</text>
<text x="497.75" y="323.8" font-family="'Liberation Serif', serif" font-size="12.5" fill="#111" stroke="#111" stroke-width="0.2" textLength="34" lengthAdjust="spacingAndGlyphs"><tspan font-style="italic">τ</tspan> (ms)</text>
<rect x="575.25" y="218.30" width="110.75" height="85.00" fill="#fff" stroke="#e2e2e2" stroke-width="1"/>
<line x1="579.75" y1="218.30" x2="579.75" y2="303.30" stroke="#ebebeb" stroke-width="1"/>
<line x1="638.50" y1="218.30" x2="638.50" y2="303.30" stroke="#ebebeb" stroke-width="1"/>
<line x1="575.25" y1="228.50" x2="686.00" y2="228.50" stroke="#ebebeb" stroke-width="1"/>
<line x1="575.25" y1="262.75" x2="686.00" y2="262.75" stroke="#ebebeb" stroke-width="1"/>
<line x1="575.25" y1="297.00" x2="686.00" y2="297.00" stroke="#ebebeb" stroke-width="1"/>
<line x1="575.55" y1="228.50" x2="578.55" y2="228.50" stroke="#333" stroke-width="1"/>
<line x1="575.55" y1="262.75" x2="578.55" y2="262.75" stroke="#333" stroke-width="1"/>
<line x1="575.55" y1="297.00" x2="578.55" y2="297.00" stroke="#333" stroke-width="1"/>
<line x1="579.75" y1="300.10" x2="579.75" y2="303.10" stroke="#333" stroke-width="1"/>
<text x="579.75" y="311.80" font-family="'Liberation Serif', serif" font-size="11" text-anchor="middle" fill="#111" transform="translate(579.75,0) scale(1.1,1) translate(-579.75,0)">0</text>
<line x1="638.50" y1="300.10" x2="638.50" y2="303.10" stroke="#333" stroke-width="1"/>
<text x="638.50" y="311.80" font-family="'Liberation Serif', serif" font-size="11" text-anchor="middle" fill="#111" transform="translate(638.50,0) scale(1.1,1) translate(-638.50,0)">10</text>
<text x="613.00" y="323.8" font-family="'Liberation Serif', serif" font-size="12.5" fill="#111" stroke="#111" stroke-width="0.2" textLength="34" lengthAdjust="spacingAndGlyphs"><tspan font-style="italic">τ</tspan> (ms)</text>
<path d="M198.20,254.00 L205.20,250.80 L212.20,254.00" stroke="#222" stroke-width="0.95" fill="none" stroke-linejoin="miter"/>
<path d="M198.20,267.40 L205.20,271.20 L212.20,267.40" stroke="#222" stroke-width="0.95" fill="none" stroke-linejoin="miter"/>
<path d="M203.10,259.75 L210.20,259.75 M203.10,262.25 L210.20,262.25" stroke="#222" stroke-width="0.95" fill="none" stroke-linejoin="miter"/>
<path d="M204.70,257.80 Q203.30,260.20 201.40,261.00 Q203.30,261.80 204.70,264.20" stroke="#222" stroke-width="0.95" fill="none" stroke-linejoin="miter"/>
<path d="M234.5,289.3L234.7,286.8L235.0,283.9L235.2,280.9L235.5,277.5L235.7,274.1L236.0,270.5L236.2,266.8L236.5,263.1L236.7,259.5L237.0,256.0L237.2,252.6L237.5,249.5L237.7,246.5L238.0,243.9L238.2,241.5L238.5,239.5L238.7,237.9L239.0,236.6L239.2,235.8L239.5,235.3L239.7,235.2L240.0,235.6L240.2,236.3L240.5,237.4L240.7,238.9L241.0,240.6L241.2,242.7L241.5,245.0L241.7,247.5L242.0,250.2L242.2,253.1L242.5,256.0L242.7,259.0L243.0,261.9L243.2,264.8L243.5,267.7L243.7,270.4L244.0,273.0L244.2,275.3L244.5,277.5L244.7,279.3L245.0,280.9L245.2,282.3L245.5,283.3L245.7,284.0L246.0,284.4L246.2,284.4L246.5,284.2L246.7,283.7L247.0,282.8L247.2,281.8L247.5,280.4L247.7,278.9L248.0,277.1L248.2,275.2L248.5,273.2L248.7,271.1L249.0,268.9L249.2,266.7L249.5,264.5L249.7,262.3L250.0,260.2L250.2,258.2L250.5,256.3L250.7,254.5L251.0,253.0L251.2,251.6L251.5,250.4L251.7,249.4L252.0,248.7L252.2,248.2L252.5,247.9L252.7,247.8L253.0,248.0L253.2,248.4L253.5,249.0L253.7,249.7L253.9,250.7L254.2,251.8L254.4,253.0L254.7,254.4L254.9,255.8L255.2,257.3L255.4,258.9L255.7,260.4L255.9,262.0L256.2,263.5L256.4,265.0L256.7,266.4L256.9,267.7L257.2,268.9L257.4,270.0L257.7,271.0L257.9,271.8L258.2,272.5L258.4,273.0L258.7,273.4L258.9,273.6L259.2,273.6L259.4,273.5L259.7,273.3L259.9,272.9L260.2,272.4L260.4,271.8L260.7,271.1L260.9,270.3L261.2,269.5L261.4,268.5L261.7,267.6L261.9,266.6L262.2,265.6L262.4,264.6L262.7,263.6L262.9,262.6L263.2,261.7L263.4,260.9L263.7,260.1L263.9,259.4L264.2,258.8L264.4,258.3L264.7,257.9L264.9,257.6L265.2,257.3L265.4,257.2L265.7,257.2L265.9,257.2L266.2,257.4L266.4,257.6L266.7,257.9L266.9,258.3L267.2,258.8L267.4,259.3L267.7,259.8L267.9,260.4L268.2,261.0L268.4,261.6L268.7,262.2L268.9,262.8L269.2,263.4L269.4,264.0L269.7,264.5L269.9,265.0L270.2,265.5L270.4,265.9L270.7,266.3L270.9,266.6L271.2,266.9L271.4,267.1L271.7,267.2L271.9,267.3L272.2,267.4L272.4,267.3L272.7,267.3L272.9,267.1L273.1,267.0L273.4,266.8L273.6,266.5L273.9,266.3L274.1,266.0L274.4,265.7L274.6,265.3L274.9,265.0L275.1,264.7L275.4,264.3L275.6,264.0L275.9,263.7L276.1,263.4L276.4,263.1L276.6,262.9L276.9,262.6L277.1,262.4L277.4,262.3L277.6,262.1L277.9,262.0L278.1,262.0L278.4,261.9L278.6,261.9L278.9,261.9L279.1,262.0L279.4,262.0L279.6,262.1L279.9,262.3L280.1,262.4L280.4,262.5L280.6,262.7L280.9,262.9L281.1,263.1L281.4,263.3L281.6,263.4L281.9,263.6L282.1,263.8L282.4,264.0L282.6,264.1L282.9,264.3L283.1,264.4L283.4,264.6L283.6,264.7L283.9,264.8L284.1,264.8L284.4,264.9L284.6,265.0L284.9,265.0L285.1,265.0L285.4,265.0L285.6,265.0L285.9,265.0L286.1,264.9L286.4,264.9L286.6,264.8L286.9,264.8L287.1,264.7L287.4,264.6L287.6,264.5L287.9,264.4L288.1,264.4L288.4,264.3L288.6,264.2L288.9,264.1L289.1,264.1L289.4,264.0L289.6,263.9L289.9,263.9L290.1,263.8L290.4,263.8L290.6,263.7L290.9,263.7L291.1,263.7L291.4,263.7L291.6,263.7L291.9,263.7L292.1,263.7L292.3,263.7L292.6,263.7L292.8,263.7L293.1,263.8L293.3,263.8L293.6,263.8L293.8,263.9L294.1,263.9L294.3,264.0L294.6,264.0L294.8,264.0L295.1,264.1L295.3,264.1L295.6,264.1L295.8,264.2L296.1,264.2L296.3,264.2L296.6,264.2L296.8,264.3L297.1,264.3L297.3,264.3L297.6,264.3L297.8,264.3L298.1,264.3L298.3,264.3L298.6,264.3L298.8,264.3L299.1,264.3L299.3,264.3L299.6,264.3L299.8,264.3L300.1,264.2L300.3,264.2L300.6,264.2L300.8,264.2L301.1,264.2L301.3,264.2L301.6,264.1L301.8,264.1L302.1,264.1L302.3,264.1L302.6,264.1L302.8,264.1L303.1,264.1L303.3,264.1L303.6,264.1L303.8,264.1L304.1,264.0L304.3,264.0L304.6,264.0L304.8,264.0L305.1,264.0L305.3,264.0L305.6,264.1L305.8,264.1L306.1,264.1L306.3,264.1L306.6,264.1L306.8,264.1L307.1,264.1L307.3,264.1L307.6,264.1L307.8,264.1L308.1,264.1L308.3,264.1L308.6,264.1L308.8,264.1L309.1,264.1L309.3,264.1L309.6,264.1L309.8,264.1L310.1,264.1L310.3,264.1L310.6,264.1L310.8,264.1L311.1,264.1L311.3,264.1L311.5,264.1L311.8,264.1L312.0,264.1L312.3,264.1L312.5,264.1L312.8,264.1L313.0,264.1L313.3,264.1L313.5,264.1L313.8,264.1L314.0,264.1L314.3,264.1L314.5,264.1L314.8,264.1L315.0,264.1L315.3,264.1L315.5,264.1L315.8,264.1L316.0,264.1L316.3,264.1L316.5,264.1L316.8,264.1L317.0,264.1L317.3,264.1L317.5,264.1L317.8,264.1L318.0,264.1L318.3,264.1L318.5,264.1L318.8,264.1L319.0,264.1L319.3,264.1L319.5,264.1L319.8,264.1L320.0,264.1L320.3,264.1L320.5,264.1L320.8,264.1L321.0,264.1L321.3,264.1L321.5,264.1L321.8,264.1L322.0,264.1L322.3,264.1L322.5,264.1L322.8,264.1L323.0,264.1L323.3,264.1L323.5,264.1L323.8,264.1L324.0,264.1L324.3,264.1L324.5,264.1L324.8,264.1L325.0,264.1L325.3,264.1L325.5,264.1L325.8,264.1L326.0,264.1L326.3,264.1L326.5,264.1L326.8,264.1L327.0,264.1L327.3,264.1L327.5,264.1L327.8,264.1L328.0,264.1L328.3,264.1L328.5,264.1L328.8,264.1L329.0,264.1L329.3,264.1L329.5,264.1L329.8,264.1L330.0,264.1L330.2,264.1L330.5,264.1L330.7,264.1L331.0,264.1L331.2,264.1L331.5,264.1L331.7,264.1L332.0,264.1L332.2,264.1L332.5,264.1L332.7,264.1L333.0,264.1L333.2,264.1L333.5,264.1L333.7,264.1L334.0,264.1L334.2,264.1" fill="none" stroke="#2f88a2" stroke-width="1.2" stroke-linejoin="round" />
<g stroke="#2f88a2" stroke-width="0.9" fill="#2f88a2"><line x1="234.50" y1="288.78" x2="234.50" y2="293.14"/><circle cx="234.50" cy="290.96" r="1.4" stroke="none"/><line x1="236.14" y1="266.15" x2="236.14" y2="269.69"/><circle cx="236.14" cy="267.92" r="1.4" stroke="none"/><line x1="237.77" y1="246.50" x2="237.77" y2="249.54"/><circle cx="237.77" cy="248.02" r="1.4" stroke="none"/><line x1="239.41" y1="233.68" x2="239.41" y2="237.31"/><circle cx="239.41" cy="235.49" r="1.4" stroke="none"/><line x1="241.04" y1="241.33" x2="241.04" y2="244.20"/><circle cx="241.04" cy="242.76" r="1.4" stroke="none"/><line x1="242.68" y1="258.47" x2="242.68" y2="261.72"/><circle cx="242.68" cy="260.10" r="1.4" stroke="none"/><line x1="244.31" y1="272.01" x2="244.31" y2="275.95"/><circle cx="244.31" cy="273.98" r="1.4" stroke="none"/><line x1="245.95" y1="281.61" x2="245.95" y2="284.38"/><circle cx="245.95" cy="283.00" r="1.4" stroke="none"/><line x1="247.58" y1="274.28" x2="247.58" y2="278.16"/><circle cx="247.58" cy="276.22" r="1.4" stroke="none"/><line x1="249.22" y1="265.14" x2="249.22" y2="268.95"/><circle cx="249.22" cy="267.04" r="1.4" stroke="none"/><line x1="250.85" y1="251.65" x2="250.85" y2="255.30"/><circle cx="250.85" cy="253.48" r="1.4" stroke="none"/><line x1="252.49" y1="246.26" x2="252.49" y2="249.07"/><circle cx="252.49" cy="247.67" r="1.4" stroke="none"/><line x1="254.12" y1="249.68" x2="254.12" y2="252.44"/><circle cx="254.12" cy="251.06" r="1.4" stroke="none"/><line x1="255.76" y1="258.08" x2="255.76" y2="261.61"/><circle cx="255.76" cy="259.85" r="1.4" stroke="none"/><line x1="257.39" y1="270.44" x2="257.39" y2="274.07"/><circle cx="257.39" cy="272.26" r="1.4" stroke="none"/><line x1="259.03" y1="270.73" x2="259.03" y2="274.58"/><circle cx="259.03" cy="272.66" r="1.4" stroke="none"/><line x1="260.66" y1="271.44" x2="260.66" y2="274.96"/><circle cx="260.66" cy="273.20" r="1.4" stroke="none"/><line x1="262.30" y1="263.48" x2="262.30" y2="266.68"/><circle cx="262.30" cy="265.08" r="1.4" stroke="none"/><line x1="263.93" y1="252.79" x2="263.93" y2="257.00"/><circle cx="263.93" cy="254.90" r="1.4" stroke="none"/><line x1="265.57" y1="255.25" x2="265.57" y2="259.23"/><circle cx="265.57" cy="257.24" r="1.4" stroke="none"/><line x1="267.20" y1="257.61" x2="267.20" y2="260.83"/><circle cx="267.20" cy="259.22" r="1.4" stroke="none"/><line x1="268.84" y1="260.30" x2="268.84" y2="263.13"/><circle cx="268.84" cy="261.71" r="1.4" stroke="none"/><line x1="270.47" y1="263.78" x2="270.47" y2="268.01"/><circle cx="270.47" cy="265.90" r="1.4" stroke="none"/><line x1="272.11" y1="268.08" x2="272.11" y2="271.47"/><circle cx="272.11" cy="269.78" r="1.4" stroke="none"/><line x1="273.74" y1="260.59" x2="273.74" y2="263.30"/><circle cx="273.74" cy="261.95" r="1.4" stroke="none"/><line x1="275.38" y1="264.02" x2="275.38" y2="267.09"/><circle cx="275.38" cy="265.55" r="1.4" stroke="none"/><line x1="277.01" y1="258.02" x2="277.01" y2="262.48"/><circle cx="277.01" cy="260.25" r="1.4" stroke="none"/><line x1="278.65" y1="261.64" x2="278.65" y2="265.06"/><circle cx="278.65" cy="263.35" r="1.4" stroke="none"/><line x1="280.28" y1="257.41" x2="280.28" y2="261.51"/><circle cx="280.28" cy="259.46" r="1.4" stroke="none"/><line x1="281.92" y1="260.56" x2="281.92" y2="263.75"/><circle cx="281.92" cy="262.16" r="1.4" stroke="none"/><line x1="283.55" y1="260.58" x2="283.55" y2="265.01"/><circle cx="283.55" cy="262.80" r="1.4" stroke="none"/><line x1="285.19" y1="261.85" x2="285.19" y2="265.91"/><circle cx="285.19" cy="263.88" r="1.4" stroke="none"/><line x1="286.82" y1="261.99" x2="286.82" y2="264.87"/><circle cx="286.82" cy="263.43" r="1.4" stroke="none"/><line x1="288.46" y1="261.63" x2="288.46" y2="264.44"/><circle cx="288.46" cy="263.04" r="1.4" stroke="none"/><line x1="290.09" y1="261.53" x2="290.09" y2="265.23"/><circle cx="290.09" cy="263.38" r="1.4" stroke="none"/><line x1="291.73" y1="263.35" x2="291.73" y2="266.86"/><circle cx="291.73" cy="265.11" r="1.4" stroke="none"/><line x1="293.36" y1="260.92" x2="293.36" y2="263.86"/><circle cx="293.36" cy="262.39" r="1.4" stroke="none"/><line x1="295.00" y1="258.50" x2="295.00" y2="262.36"/><circle cx="295.00" cy="260.43" r="1.4" stroke="none"/><line x1="296.63" y1="260.85" x2="296.63" y2="263.93"/><circle cx="296.63" cy="262.39" r="1.4" stroke="none"/><line x1="298.27" y1="261.04" x2="298.27" y2="264.23"/><circle cx="298.27" cy="262.64" r="1.4" stroke="none"/><line x1="299.90" y1="258.38" x2="299.90" y2="261.62"/><circle cx="299.90" cy="260.00" r="1.4" stroke="none"/><line x1="301.54" y1="262.79" x2="301.54" y2="267.08"/><circle cx="301.54" cy="264.93" r="1.4" stroke="none"/><line x1="303.17" y1="261.36" x2="303.17" y2="265.60"/><circle cx="303.17" cy="263.48" r="1.4" stroke="none"/><line x1="304.81" y1="259.79" x2="304.81" y2="263.64"/><circle cx="304.81" cy="261.72" r="1.4" stroke="none"/><line x1="306.44" y1="256.69" x2="306.44" y2="259.78"/><circle cx="306.44" cy="258.23" r="1.4" stroke="none"/><line x1="308.08" y1="258.27" x2="308.08" y2="261.43"/><circle cx="308.08" cy="259.85" r="1.4" stroke="none"/><line x1="309.71" y1="262.22" x2="309.71" y2="265.45"/><circle cx="309.71" cy="263.84" r="1.4" stroke="none"/><line x1="311.35" y1="264.85" x2="311.35" y2="267.68"/><circle cx="311.35" cy="266.27" r="1.4" stroke="none"/><line x1="312.98" y1="259.89" x2="312.98" y2="263.03"/><circle cx="312.98" cy="261.46" r="1.4" stroke="none"/><line x1="314.62" y1="260.53" x2="314.62" y2="264.31"/><circle cx="314.62" cy="262.42" r="1.4" stroke="none"/><line x1="316.25" y1="263.72" x2="316.25" y2="268.15"/><circle cx="316.25" cy="265.94" r="1.4" stroke="none"/><line x1="317.89" y1="260.42" x2="317.89" y2="263.99"/><circle cx="317.89" cy="262.21" r="1.4" stroke="none"/><line x1="319.52" y1="266.89" x2="319.52" y2="269.92"/><circle cx="319.52" cy="268.41" r="1.4" stroke="none"/><line x1="321.16" y1="264.80" x2="321.16" y2="267.78"/><circle cx="321.16" cy="266.29" r="1.4" stroke="none"/><line x1="322.79" y1="258.84" x2="322.79" y2="261.98"/><circle cx="322.79" cy="260.41" r="1.4" stroke="none"/><line x1="324.43" y1="265.01" x2="324.43" y2="268.05"/><circle cx="324.43" cy="266.53" r="1.4" stroke="none"/><line x1="326.06" y1="262.97" x2="326.06" y2="266.03"/><circle cx="326.06" cy="264.50" r="1.4" stroke="none"/><line x1="327.70" y1="267.60" x2="327.70" y2="272.01"/><circle cx="327.70" cy="269.80" r="1.4" stroke="none"/><line x1="329.33" y1="259.98" x2="329.33" y2="263.44"/><circle cx="329.33" cy="261.71" r="1.4" stroke="none"/><line x1="330.97" y1="264.88" x2="330.97" y2="267.76"/><circle cx="330.97" cy="266.32" r="1.4" stroke="none"/><line x1="332.60" y1="256.59" x2="332.60" y2="259.72"/><circle cx="332.60" cy="258.15" r="1.4" stroke="none"/><line x1="334.24" y1="260.66" x2="334.24" y2="264.62"/><circle cx="334.24" cy="262.64" r="1.4" stroke="none"/><line x1="297.60" y1="253.90" x2="297.60" y2="257.90"/><circle cx="297.60" cy="255.90" r="1.4" stroke="none"/><line x1="324.06" y1="255.27" x2="324.06" y2="259.27"/><circle cx="324.06" cy="257.27" r="1.4" stroke="none"/><line x1="309.81" y1="266.23" x2="309.81" y2="270.23"/><circle cx="309.81" cy="268.23" r="1.4" stroke="none"/></g>
<path d="M349.8,286.6L350.0,285.0L350.3,283.2L350.5,281.1L350.8,278.7L351.0,276.2L351.3,273.5L351.5,270.7L351.7,267.8L352.0,264.9L352.2,261.9L352.5,259.0L352.7,256.1L353.0,253.3L353.2,250.7L353.5,248.2L353.7,246.0L353.9,243.9L354.2,242.1L354.4,240.6L354.7,239.4L354.9,238.5L355.2,237.9L355.4,237.6L355.6,237.7L355.9,238.0L356.1,238.7L356.4,239.7L356.6,241.0L356.9,242.5L357.1,244.3L357.4,246.3L357.6,248.5L357.8,250.9L358.1,253.4L358.3,256.0L358.6,258.7L358.8,261.4L359.1,264.1L359.3,266.8L359.5,269.3L359.8,271.8L360.0,274.1L360.3,276.3L360.5,278.3L360.8,280.0L361.0,281.6L361.3,282.8L361.5,283.8L361.7,284.5L362.0,285.0L362.2,285.1L362.5,285.0L362.7,284.5L363.0,283.8L363.2,282.9L363.4,281.7L363.7,280.2L363.9,278.6L364.2,276.7L364.4,274.7L364.7,272.6L364.9,270.4L365.2,268.1L365.4,265.7L365.6,263.4L365.9,261.1L366.1,258.8L366.4,256.6L366.6,254.5L366.9,252.5L367.1,250.7L367.3,249.1L367.6,247.7L367.8,246.4L368.1,245.4L368.3,244.7L368.6,244.2L368.8,243.9L369.1,243.9L369.3,244.1L369.5,244.5L369.8,245.2L370.0,246.1L370.3,247.2L370.5,248.4L370.8,249.9L371.0,251.5L371.2,253.2L371.5,255.0L371.7,256.8L372.0,258.8L372.2,260.7L372.5,262.6L372.7,264.6L373.0,266.4L373.2,268.2L373.4,269.9L373.7,271.4L373.9,272.9L374.2,274.1L374.4,275.2L374.7,276.2L374.9,276.9L375.1,277.5L375.4,277.8L375.6,278.0L375.9,277.9L376.1,277.7L376.4,277.2L376.6,276.6L376.9,275.9L377.1,274.9L377.3,273.9L377.6,272.7L377.8,271.4L378.1,270.0L378.3,268.6L378.6,267.1L378.8,265.5L379.0,264.0L379.3,262.5L379.5,261.0L379.8,259.6L380.0,258.2L380.3,256.9L380.5,255.8L380.8,254.7L381.0,253.7L381.2,252.9L381.5,252.3L381.7,251.8L382.0,251.4L382.2,251.2L382.5,251.1L382.7,251.2L382.9,251.4L383.2,251.8L383.4,252.3L383.7,253.0L383.9,253.7L384.2,254.5L384.4,255.5L384.7,256.5L384.9,257.5L385.1,258.6L385.4,259.8L385.6,260.9L385.9,262.1L386.1,263.2L386.4,264.3L386.6,265.3L386.8,266.3L387.1,267.2L387.3,268.1L387.6,268.8L387.8,269.5L388.1,270.1L388.3,270.5L388.6,270.9L388.8,271.1L389.0,271.2L389.3,271.2L389.5,271.1L389.8,270.9L390.0,270.6L390.3,270.2L390.5,269.7L390.7,269.1L391.0,268.5L391.2,267.8L391.5,267.1L391.7,266.3L392.0,265.5L392.2,264.7L392.5,263.9L392.7,263.1L392.9,262.3L393.2,261.5L393.4,260.8L393.7,260.1L393.9,259.5L394.2,258.9L394.4,258.4L394.6,257.9L394.9,257.6L395.1,257.3L395.4,257.1L395.6,256.9L395.9,256.9L396.1,256.9L396.4,257.0L396.6,257.2L396.8,257.4L397.1,257.7L397.3,258.1L397.6,258.5L397.8,258.9L398.1,259.4L398.3,259.9L398.5,260.5L398.8,261.0L399.0,261.6L399.3,262.1L399.5,262.7L399.8,263.2L400.0,263.7L400.3,264.2L400.5,264.6L400.7,265.0L401.0,265.4L401.2,265.7L401.5,266.0L401.7,266.2L402.0,266.4L402.2,266.5L402.4,266.6L402.7,266.6L402.9,266.6L403.2,266.5L403.4,266.4L403.7,266.2L403.9,266.0L404.1,265.7L404.4,265.5L404.6,265.2L404.9,264.8L405.1,264.5L405.4,264.2L405.6,263.8L405.9,263.4L406.1,263.1L406.3,262.7L406.6,262.4L406.8,262.1L407.1,261.8L407.3,261.5L407.6,261.2L407.8,261.0L408.0,260.8L408.3,260.7L408.5,260.5L408.8,260.4L409.0,260.4L409.3,260.3L409.5,260.3L409.8,260.4L410.0,260.4L410.2,260.5L410.5,260.6L410.7,260.8L411.0,260.9L411.2,261.1L411.5,261.3L411.7,261.5L411.9,261.7L412.2,261.9L412.4,262.2L412.7,262.4L412.9,262.6L413.2,262.8L413.4,263.0L413.7,263.2L413.9,263.4L414.1,263.5L414.4,263.7L414.6,263.8L414.9,263.9L415.1,264.0L415.4,264.1L415.6,264.1L415.8,264.2L416.1,264.2L416.3,264.2L416.6,264.2L416.8,264.1L417.1,264.1L417.3,264.0L417.6,263.9L417.8,263.8L418.0,263.7L418.3,263.6L418.5,263.4L418.8,263.3L419.0,263.2L419.3,263.1L419.5,262.9L419.7,262.8L420.0,262.7L420.2,262.6L420.5,262.5L420.7,262.4L421.0,262.3L421.2,262.2L421.5,262.1L421.7,262.1L421.9,262.0L422.2,262.0L422.4,262.0L422.7,261.9L422.9,261.9L423.2,261.9L423.4,262.0L423.6,262.0L423.9,262.0L424.1,262.1L424.4,262.1L424.6,262.2L424.9,262.2L425.1,262.3L425.4,262.4L425.6,262.4L425.8,262.5L426.1,262.6L426.3,262.7L426.6,262.7L426.8,262.8L427.1,262.9L427.3,262.9L427.5,263.0L427.8,263.0L428.0,263.1L428.3,263.1L428.5,263.1L428.8,263.2L429.0,263.2L429.3,263.2L429.5,263.2L429.7,263.2L430.0,263.2L430.2,263.2L430.5,263.2L430.7,263.1L431.0,263.1L431.2,263.1L431.4,263.0L431.7,263.0L431.9,263.0L432.2,262.9L432.4,262.9L432.7,262.9L432.9,262.8L433.2,262.8L433.4,262.8L433.6,262.7L433.9,262.7L434.1,262.7L434.4,262.6L434.6,262.6L434.9,262.6L435.1,262.6L435.3,262.6L435.6,262.5L435.8,262.5L436.1,262.5L436.3,262.5L436.6,262.5L436.8,262.5L437.1,262.5L437.3,262.5L437.5,262.6L437.8,262.6L438.0,262.6L438.3,262.6L438.5,262.6L438.8,262.6L439.0,262.7L439.2,262.7L439.5,262.7L439.7,262.7L440.0,262.7L440.2,262.8L440.5,262.8L440.7,262.8L441.0,262.8L441.2,262.8L441.4,262.8L441.7,262.8L441.9,262.8L442.2,262.8L442.4,262.9L442.7,262.9L442.9,262.9L443.1,262.9L443.4,262.9L443.6,262.9L443.9,262.9L444.1,262.8L444.4,262.8L444.6,262.8L444.9,262.8L445.1,262.8L445.3,262.8L445.6,262.8L445.8,262.8L446.1,262.8L446.3,262.8L446.6,262.8L446.8,262.8L447.0,262.7L447.3,262.7" fill="none" stroke="#36548e" stroke-width="1.2" stroke-linejoin="round" />
<g stroke="#36548e" stroke-width="0.9" fill="#36548e"><line x1="349.80" y1="284.78" x2="349.80" y2="288.55"/><circle cx="349.80" cy="286.67" r="1.4" stroke="none"/><line x1="351.38" y1="268.04" x2="351.38" y2="271.26"/><circle cx="351.38" cy="269.65" r="1.4" stroke="none"/><line x1="352.96" y1="251.05" x2="352.96" y2="253.87"/><circle cx="352.96" cy="252.46" r="1.4" stroke="none"/><line x1="354.54" y1="236.54" x2="354.54" y2="239.65"/><circle cx="354.54" cy="238.10" r="1.4" stroke="none"/><line x1="356.12" y1="239.25" x2="356.12" y2="243.05"/><circle cx="356.12" cy="241.15" r="1.4" stroke="none"/><line x1="357.70" y1="248.86" x2="357.70" y2="252.07"/><circle cx="357.70" cy="250.46" r="1.4" stroke="none"/><line x1="359.28" y1="264.29" x2="359.28" y2="267.02"/><circle cx="359.28" cy="265.66" r="1.4" stroke="none"/><line x1="360.86" y1="279.51" x2="360.86" y2="282.69"/><circle cx="360.86" cy="281.10" r="1.4" stroke="none"/><line x1="362.44" y1="283.96" x2="362.44" y2="286.97"/><circle cx="362.44" cy="285.46" r="1.4" stroke="none"/><line x1="364.02" y1="276.13" x2="364.02" y2="279.49"/><circle cx="364.02" cy="277.81" r="1.4" stroke="none"/><line x1="365.60" y1="262.81" x2="365.60" y2="266.16"/><circle cx="365.60" cy="264.49" r="1.4" stroke="none"/><line x1="367.18" y1="248.39" x2="367.18" y2="252.69"/><circle cx="367.18" cy="250.54" r="1.4" stroke="none"/><line x1="368.76" y1="239.96" x2="368.76" y2="243.91"/><circle cx="368.76" cy="241.93" r="1.4" stroke="none"/><line x1="370.34" y1="245.85" x2="370.34" y2="249.60"/><circle cx="370.34" cy="247.73" r="1.4" stroke="none"/><line x1="371.92" y1="256.66" x2="371.92" y2="259.40"/><circle cx="371.92" cy="258.03" r="1.4" stroke="none"/><line x1="373.50" y1="267.78" x2="373.50" y2="272.11"/><circle cx="373.50" cy="269.94" r="1.4" stroke="none"/><line x1="375.07" y1="277.01" x2="375.07" y2="279.75"/><circle cx="375.07" cy="278.38" r="1.4" stroke="none"/><line x1="376.65" y1="277.94" x2="376.65" y2="281.78"/><circle cx="376.65" cy="279.86" r="1.4" stroke="none"/><line x1="378.23" y1="269.62" x2="378.23" y2="272.90"/><circle cx="378.23" cy="271.26" r="1.4" stroke="none"/><line x1="379.81" y1="256.88" x2="379.81" y2="261.38"/><circle cx="379.81" cy="259.13" r="1.4" stroke="none"/><line x1="381.39" y1="248.95" x2="381.39" y2="252.98"/><circle cx="381.39" cy="250.97" r="1.4" stroke="none"/><line x1="382.97" y1="248.53" x2="382.97" y2="252.85"/><circle cx="382.97" cy="250.69" r="1.4" stroke="none"/><line x1="384.55" y1="254.16" x2="384.55" y2="258.29"/><circle cx="384.55" cy="256.23" r="1.4" stroke="none"/><line x1="386.13" y1="263.22" x2="386.13" y2="267.57"/><circle cx="386.13" cy="265.40" r="1.4" stroke="none"/><line x1="387.71" y1="269.24" x2="387.71" y2="273.57"/><circle cx="387.71" cy="271.41" r="1.4" stroke="none"/><line x1="389.29" y1="266.15" x2="389.29" y2="270.42"/><circle cx="389.29" cy="268.28" r="1.4" stroke="none"/><line x1="390.87" y1="270.37" x2="390.87" y2="274.62"/><circle cx="390.87" cy="272.49" r="1.4" stroke="none"/><line x1="392.45" y1="259.90" x2="392.45" y2="263.63"/><circle cx="392.45" cy="261.76" r="1.4" stroke="none"/><line x1="394.03" y1="258.96" x2="394.03" y2="262.71"/><circle cx="394.03" cy="260.83" r="1.4" stroke="none"/><line x1="395.61" y1="256.71" x2="395.61" y2="260.51"/><circle cx="395.61" cy="258.61" r="1.4" stroke="none"/><line x1="397.19" y1="252.63" x2="397.19" y2="257.11"/><circle cx="397.19" cy="254.87" r="1.4" stroke="none"/><line x1="398.77" y1="257.17" x2="398.77" y2="261.45"/><circle cx="398.77" cy="259.31" r="1.4" stroke="none"/><line x1="400.35" y1="262.68" x2="400.35" y2="266.70"/><circle cx="400.35" cy="264.69" r="1.4" stroke="none"/><line x1="401.93" y1="266.87" x2="401.93" y2="270.61"/><circle cx="401.93" cy="268.74" r="1.4" stroke="none"/><line x1="403.51" y1="269.14" x2="403.51" y2="271.99"/><circle cx="403.51" cy="270.57" r="1.4" stroke="none"/><line x1="405.09" y1="260.86" x2="405.09" y2="264.91"/><circle cx="405.09" cy="262.88" r="1.4" stroke="none"/><line x1="406.67" y1="257.31" x2="406.67" y2="260.87"/><circle cx="406.67" cy="259.09" r="1.4" stroke="none"/><line x1="408.25" y1="258.53" x2="408.25" y2="261.64"/><circle cx="408.25" cy="260.08" r="1.4" stroke="none"/><line x1="409.83" y1="259.38" x2="409.83" y2="263.19"/><circle cx="409.83" cy="261.28" r="1.4" stroke="none"/><line x1="411.41" y1="261.75" x2="411.41" y2="266.11"/><circle cx="411.41" cy="263.93" r="1.4" stroke="none"/><line x1="412.99" y1="261.04" x2="412.99" y2="264.29"/><circle cx="412.99" cy="262.67" r="1.4" stroke="none"/><line x1="414.57" y1="261.47" x2="414.57" y2="265.39"/><circle cx="414.57" cy="263.43" r="1.4" stroke="none"/><line x1="416.15" y1="261.59" x2="416.15" y2="265.92"/><circle cx="416.15" cy="263.76" r="1.4" stroke="none"/><line x1="417.73" y1="260.48" x2="417.73" y2="264.37"/><circle cx="417.73" cy="262.43" r="1.4" stroke="none"/><line x1="419.31" y1="266.12" x2="419.31" y2="269.41"/><circle cx="419.31" cy="267.76" r="1.4" stroke="none"/><line x1="420.88" y1="258.55" x2="420.88" y2="262.45"/><circle cx="420.88" cy="260.50" r="1.4" stroke="none"/><line x1="422.46" y1="259.06" x2="422.46" y2="263.22"/><circle cx="422.46" cy="261.14" r="1.4" stroke="none"/><line x1="424.04" y1="257.47" x2="424.04" y2="261.81"/><circle cx="424.04" cy="259.64" r="1.4" stroke="none"/><line x1="425.62" y1="258.86" x2="425.62" y2="262.61"/><circle cx="425.62" cy="260.73" r="1.4" stroke="none"/><line x1="427.20" y1="262.87" x2="427.20" y2="266.14"/><circle cx="427.20" cy="264.51" r="1.4" stroke="none"/><line x1="428.78" y1="259.21" x2="428.78" y2="263.42"/><circle cx="428.78" cy="261.31" r="1.4" stroke="none"/><line x1="430.36" y1="258.93" x2="430.36" y2="263.15"/><circle cx="430.36" cy="261.04" r="1.4" stroke="none"/><line x1="431.94" y1="262.79" x2="431.94" y2="265.99"/><circle cx="431.94" cy="264.39" r="1.4" stroke="none"/><line x1="433.52" y1="266.93" x2="433.52" y2="269.93"/><circle cx="433.52" cy="268.43" r="1.4" stroke="none"/><line x1="435.10" y1="262.85" x2="435.10" y2="265.94"/><circle cx="435.10" cy="264.40" r="1.4" stroke="none"/><line x1="436.68" y1="260.22" x2="436.68" y2="263.66"/><circle cx="436.68" cy="261.94" r="1.4" stroke="none"/><line x1="438.26" y1="262.94" x2="438.26" y2="266.21"/><circle cx="438.26" cy="264.57" r="1.4" stroke="none"/><line x1="439.84" y1="262.61" x2="439.84" y2="266.82"/><circle cx="439.84" cy="264.71" r="1.4" stroke="none"/><line x1="441.42" y1="258.79" x2="441.42" y2="261.63"/><circle cx="441.42" cy="260.21" r="1.4" stroke="none"/><line x1="443.00" y1="261.78" x2="443.00" y2="264.53"/><circle cx="443.00" cy="263.16" r="1.4" stroke="none"/><line x1="444.58" y1="260.36" x2="444.58" y2="264.34"/><circle cx="444.58" cy="262.35" r="1.4" stroke="none"/><line x1="446.16" y1="261.42" x2="446.16" y2="265.14"/><circle cx="446.16" cy="263.28" r="1.4" stroke="none"/><line x1="447.74" y1="262.90" x2="447.74" y2="265.63"/><circle cx="447.74" cy="264.26" r="1.4" stroke="none"/><line x1="449.32" y1="257.27" x2="449.32" y2="260.22"/><circle cx="449.32" cy="258.74" r="1.4" stroke="none"/><line x1="404.64" y1="267.60" x2="404.64" y2="271.60"/><circle cx="404.64" cy="269.60" r="1.4" stroke="none"/><line x1="434.43" y1="253.90" x2="434.43" y2="257.90"/><circle cx="434.43" cy="255.90" r="1.4" stroke="none"/></g>
<path d="M464.9,288.8L465.1,287.5L465.4,285.9L465.6,284.1L465.9,282.1L466.1,280.0L466.4,277.7L466.6,275.3L466.8,272.9L467.1,270.5L467.3,268.1L467.6,265.8L467.8,263.5L468.0,261.5L468.3,259.6L468.5,257.9L468.8,256.4L469.0,255.2L469.3,254.3L469.5,253.7L469.7,253.3L470.0,253.3L470.2,253.6L470.5,254.2L470.7,255.0L470.9,256.2L471.2,257.6L471.4,259.2L471.7,261.0L471.9,263.0L472.2,265.1L472.4,267.3L472.6,269.5L472.9,271.8L473.1,274.1L473.4,276.3L473.6,278.5L473.9,280.5L474.1,282.3L474.3,284.0L474.6,285.5L474.8,286.7L475.1,287.7L475.3,288.4L475.5,288.8L475.8,289.0L476.0,288.9L476.3,288.5L476.5,287.8L476.8,286.9L477.0,285.8L477.2,284.5L477.5,282.9L477.7,281.3L478.0,279.4L478.2,277.5L478.4,275.6L478.7,273.5L478.9,271.5L479.2,269.6L479.4,267.7L479.7,265.9L479.9,264.2L480.1,262.6L480.4,261.3L480.6,260.1L480.9,259.2L481.1,258.4L481.4,257.9L481.6,257.7L481.8,257.6L482.1,257.8L482.3,258.3L482.6,258.9L482.8,259.8L483.0,260.8L483.3,262.0L483.5,263.3L483.8,264.8L484.0,266.3L484.3,267.9L484.5,269.6L484.7,271.2L485.0,272.9L485.2,274.4L485.5,276.0L485.7,277.4L485.9,278.7L486.2,279.8L486.4,280.9L486.7,281.7L486.9,282.4L487.2,282.9L487.4,283.2L487.6,283.3L487.9,283.2L488.1,283.0L488.4,282.6L488.6,282.0L488.9,281.3L489.1,280.4L489.3,279.4L489.6,278.3L489.8,277.2L490.1,276.0L490.3,274.7L490.5,273.5L490.8,272.2L491.0,271.0L491.3,269.8L491.5,268.7L491.8,267.7L492.0,266.7L492.2,265.9L492.5,265.2L492.7,264.6L493.0,264.2L493.2,263.9L493.4,263.7L493.7,263.7L493.9,263.8L494.2,264.1L494.4,264.4L494.7,264.9L494.9,265.5L495.1,266.2L495.4,266.9L495.6,267.7L495.9,268.6L496.1,269.4L496.4,270.3L496.6,271.2L496.8,272.1L497.1,273.0L497.3,273.8L497.6,274.5L497.8,275.2L498.0,275.8L498.3,276.4L498.5,276.8L498.8,277.2L499.0,277.4L499.3,277.6L499.5,277.7L499.7,277.6L500.0,277.5L500.2,277.3L500.5,277.0L500.7,276.7L500.9,276.2L501.2,275.8L501.4,275.2L501.7,274.7L501.9,274.1L502.2,273.5L502.4,272.9L502.6,272.3L502.9,271.8L503.1,271.2L503.4,270.7L503.6,270.2L503.9,269.8L504.1,269.4L504.3,269.1L504.6,268.8L504.8,268.6L505.1,268.5L505.3,268.4L505.5,268.4L505.8,268.4L506.0,268.6L506.3,268.7L506.5,268.9L506.8,269.2L507.0,269.4L507.2,269.7L507.5,270.1L507.7,270.4L508.0,270.8L508.2,271.2L508.5,271.5L508.7,271.9L508.9,272.3L509.2,272.6L509.4,272.9L509.7,273.2L509.9,273.4L510.1,273.6L510.4,273.8L510.6,273.9L510.9,274.0L511.1,274.1L511.4,274.1L511.6,274.1L511.8,274.1L512.1,274.0L512.3,273.9L512.6,273.8L512.8,273.6L513.0,273.4L513.3,273.2L513.5,273.0L513.8,272.8L514.0,272.6L514.3,272.4L514.5,272.2L514.7,272.0L515.0,271.8L515.2,271.6L515.5,271.5L515.7,271.3L516.0,271.2L516.2,271.1L516.4,271.0L516.7,270.9L516.9,270.9L517.2,270.8L517.4,270.8L517.6,270.8L517.9,270.9L518.1,270.9L518.4,271.0L518.6,271.1L518.9,271.2L519.1,271.3L519.3,271.4L519.6,271.5L519.8,271.6L520.1,271.7L520.3,271.8L520.5,271.9L520.8,272.0L521.0,272.1L521.3,272.2L521.5,272.3L521.8,272.4L522.0,272.4L522.2,272.5L522.5,272.5L522.7,272.6L523.0,272.6L523.2,272.6L523.5,272.6L523.7,272.6L523.9,272.6L524.2,272.5L524.4,272.5L524.7,272.5L524.9,272.4L525.1,272.4L525.4,272.3L525.6,272.2L525.9,272.2L526.1,272.1L526.4,272.1L526.6,272.0L526.8,272.0L527.1,271.9L527.3,271.9L527.6,271.8L527.8,271.8L528.0,271.8L528.3,271.7L528.5,271.7L528.8,271.7L529.0,271.7L529.3,271.7L529.5,271.7L529.7,271.7L530.0,271.7L530.2,271.7L530.5,271.8L530.7,271.8L531.0,271.8L531.2,271.8L531.4,271.9L531.7,271.9L531.9,271.9L532.2,271.9L532.4,272.0L532.6,272.0L532.9,272.0L533.1,272.0L533.4,272.1L533.6,272.1L533.9,272.1L534.1,272.1L534.3,272.1L534.6,272.1L534.8,272.1L535.1,272.1L535.3,272.1L535.5,272.1L535.8,272.1L536.0,272.1L536.3,272.1L536.5,272.1L536.8,272.1L537.0,272.1L537.2,272.1L537.5,272.1L537.7,272.0L538.0,272.0L538.2,272.0L538.5,272.0L538.7,272.0L538.9,272.0L539.2,272.0L539.4,272.0L539.7,272.0L539.9,272.0L540.1,272.0L540.4,271.9L540.6,271.9L540.9,271.9L541.1,271.9L541.4,271.9L541.6,271.9L541.8,271.9L542.1,272.0L542.3,272.0L542.6,272.0L542.8,272.0L543.0,272.0L543.3,272.0L543.5,272.0L543.8,272.0L544.0,272.0L544.3,272.0L544.5,272.0L544.7,272.0L545.0,272.0L545.2,272.0L545.5,272.0L545.7,272.0L546.0,272.0L546.2,272.0L546.4,272.0L546.7,272.0L546.9,272.0L547.2,272.0L547.4,272.0L547.6,272.0L547.9,272.0L548.1,272.0L548.4,272.0L548.6,272.0L548.9,272.0L549.1,272.0L549.3,272.0L549.6,272.0L549.8,272.0L550.1,272.0L550.3,272.0L550.5,272.0L550.8,272.0L551.0,272.0L551.3,272.0L551.5,272.0L551.8,272.0L552.0,272.0L552.2,272.0L552.5,272.0L552.7,272.0L553.0,272.0L553.2,272.0L553.5,272.0L553.7,272.0L553.9,272.0L554.2,272.0L554.4,272.0L554.7,272.0L554.9,272.0L555.1,272.0L555.4,272.0L555.6,272.0L555.9,272.0L556.1,272.0L556.4,272.0L556.6,272.0L556.8,272.0L557.1,272.0L557.3,272.0L557.6,272.0L557.8,272.0L558.0,272.0L558.3,272.0L558.5,272.0L558.8,272.0L559.0,272.0L559.3,272.0L559.5,272.0L559.7,272.0L560.0,272.0L560.2,272.0L560.5,272.0L560.7,272.0L561.0,272.0L561.2,272.0L561.4,272.0L561.7,272.0" fill="none" stroke="#63267f" stroke-width="1.2" stroke-linejoin="round" />
<g stroke="#63267f" stroke-width="0.9" fill="#63267f"><line x1="464.90" y1="285.88" x2="464.90" y2="292.41"/><circle cx="464.90" cy="289.14" r="1.4" stroke="none"/><line x1="467.38" y1="264.94" x2="467.38" y2="269.80"/><circle cx="467.38" cy="267.37" r="1.4" stroke="none"/><line x1="469.86" y1="249.98" x2="469.86" y2="255.94"/><circle cx="469.86" cy="252.96" r="1.4" stroke="none"/><line x1="472.34" y1="263.62" x2="472.34" y2="269.07"/><circle cx="472.34" cy="266.35" r="1.4" stroke="none"/><line x1="474.83" y1="285.20" x2="474.83" y2="291.66"/><circle cx="474.83" cy="288.43" r="1.4" stroke="none"/><line x1="477.31" y1="282.44" x2="477.31" y2="289.33"/><circle cx="477.31" cy="285.88" r="1.4" stroke="none"/><line x1="479.79" y1="262.62" x2="479.79" y2="268.15"/><circle cx="479.79" cy="265.38" r="1.4" stroke="none"/><line x1="482.27" y1="256.87" x2="482.27" y2="261.57"/><circle cx="482.27" cy="259.22" r="1.4" stroke="none"/><line x1="484.75" y1="266.28" x2="484.75" y2="272.48"/><circle cx="484.75" cy="269.38" r="1.4" stroke="none"/><line x1="487.23" y1="280.52" x2="487.23" y2="285.23"/><circle cx="487.23" cy="282.88" r="1.4" stroke="none"/><line x1="489.71" y1="274.84" x2="489.71" y2="280.99"/><circle cx="489.71" cy="277.91" r="1.4" stroke="none"/><line x1="492.20" y1="261.65" x2="492.20" y2="267.31"/><circle cx="492.20" cy="264.48" r="1.4" stroke="none"/><line x1="494.68" y1="264.46" x2="494.68" y2="269.76"/><circle cx="494.68" cy="267.11" r="1.4" stroke="none"/><line x1="497.16" y1="271.93" x2="497.16" y2="278.35"/><circle cx="497.16" cy="275.14" r="1.4" stroke="none"/><line x1="499.64" y1="273.64" x2="499.64" y2="280.45"/><circle cx="499.64" cy="277.05" r="1.4" stroke="none"/><line x1="502.12" y1="270.90" x2="502.12" y2="277.12"/><circle cx="502.12" cy="274.01" r="1.4" stroke="none"/><line x1="504.60" y1="264.53" x2="504.60" y2="270.48"/><circle cx="504.60" cy="267.51" r="1.4" stroke="none"/><line x1="507.09" y1="264.80" x2="507.09" y2="271.55"/><circle cx="507.09" cy="268.17" r="1.4" stroke="none"/><line x1="509.57" y1="271.31" x2="509.57" y2="277.98"/><circle cx="509.57" cy="274.64" r="1.4" stroke="none"/><line x1="512.05" y1="269.24" x2="512.05" y2="275.67"/><circle cx="512.05" cy="272.45" r="1.4" stroke="none"/><line x1="514.53" y1="267.36" x2="514.53" y2="273.38"/><circle cx="514.53" cy="270.37" r="1.4" stroke="none"/><line x1="517.01" y1="269.11" x2="517.01" y2="273.89"/><circle cx="517.01" cy="271.50" r="1.4" stroke="none"/><line x1="519.49" y1="268.99" x2="519.49" y2="274.99"/><circle cx="519.49" cy="271.99" r="1.4" stroke="none"/><line x1="521.97" y1="272.45" x2="521.97" y2="278.66"/><circle cx="521.97" cy="275.55" r="1.4" stroke="none"/><line x1="524.46" y1="268.18" x2="524.46" y2="275.12"/><circle cx="524.46" cy="271.65" r="1.4" stroke="none"/><line x1="526.94" y1="264.90" x2="526.94" y2="271.84"/><circle cx="526.94" cy="268.37" r="1.4" stroke="none"/><line x1="529.42" y1="272.11" x2="529.42" y2="277.21"/><circle cx="529.42" cy="274.66" r="1.4" stroke="none"/><line x1="531.90" y1="269.24" x2="531.90" y2="275.99"/><circle cx="531.90" cy="272.61" r="1.4" stroke="none"/><line x1="534.38" y1="268.92" x2="534.38" y2="273.35"/><circle cx="534.38" cy="271.14" r="1.4" stroke="none"/><line x1="536.86" y1="270.61" x2="536.86" y2="276.05"/><circle cx="536.86" cy="273.33" r="1.4" stroke="none"/><line x1="539.34" y1="271.97" x2="539.34" y2="277.54"/><circle cx="539.34" cy="274.75" r="1.4" stroke="none"/><line x1="541.83" y1="270.72" x2="541.83" y2="275.00"/><circle cx="541.83" cy="272.86" r="1.4" stroke="none"/><line x1="544.31" y1="268.55" x2="544.31" y2="274.99"/><circle cx="544.31" cy="271.77" r="1.4" stroke="none"/><line x1="546.79" y1="270.26" x2="546.79" y2="274.94"/><circle cx="546.79" cy="272.60" r="1.4" stroke="none"/><line x1="549.27" y1="271.25" x2="549.27" y2="275.84"/><circle cx="549.27" cy="273.54" r="1.4" stroke="none"/><line x1="551.75" y1="267.09" x2="551.75" y2="271.70"/><circle cx="551.75" cy="269.40" r="1.4" stroke="none"/><line x1="554.23" y1="271.45" x2="554.23" y2="278.00"/><circle cx="554.23" cy="274.72" r="1.4" stroke="none"/><line x1="556.72" y1="269.22" x2="556.72" y2="275.35"/><circle cx="556.72" cy="272.28" r="1.4" stroke="none"/><line x1="559.20" y1="266.69" x2="559.20" y2="273.55"/><circle cx="559.20" cy="270.12" r="1.4" stroke="none"/><line x1="561.68" y1="270.44" x2="561.68" y2="274.89"/><circle cx="561.68" cy="272.67" r="1.4" stroke="none"/><line x1="564.59" y1="259.75" x2="564.59" y2="265.75"/><circle cx="564.59" cy="262.75" r="1.4" stroke="none"/><line x1="517.37" y1="276.00" x2="517.37" y2="281.00"/><circle cx="517.37" cy="278.50" r="1.4" stroke="none"/></g>
<path d="M579.8,236.5L580.0,236.3L580.2,236.2L580.5,236.1L580.7,236.1L581.0,236.0L581.2,236.0L581.5,236.1L581.7,236.1L582.0,236.2L582.2,236.3L582.5,236.5L582.7,236.7L583.0,236.9L583.2,237.1L583.5,237.3L583.7,237.6L584.0,237.8L584.2,238.1L584.5,238.4L584.7,238.8L585.0,239.1L585.2,239.4L585.5,239.7L585.7,240.1L586.0,240.4L586.2,240.8L586.5,241.1L586.7,241.4L587.0,241.8L587.2,242.1L587.5,242.4L587.7,242.7L588.0,243.0L588.2,243.3L588.5,243.5L588.7,243.8L589.0,244.0L589.2,244.2L589.5,244.4L589.7,244.6L590.0,244.7L590.2,244.9L590.5,245.0L590.7,245.1L591.0,245.1L591.2,245.2L591.5,245.2L591.7,245.2L592.0,245.2L592.2,245.1L592.5,245.1L592.7,245.0L593.0,244.9L593.2,244.8L593.5,244.7L593.7,244.5L594.0,244.4L594.2,244.2L594.5,244.0L594.7,243.9L595.0,243.7L595.2,243.4L595.5,243.2L595.7,243.0L596.0,242.8L596.2,242.6L596.5,242.3L596.7,242.1L597.0,241.9L597.2,241.6L597.5,241.4L597.7,241.2L598.0,241.0L598.2,240.8L598.5,240.6L598.7,240.4L599.0,240.2L599.2,240.1L599.5,239.9L599.7,239.8L600.0,239.6L600.2,239.5L600.5,239.4L600.7,239.3L601.0,239.2L601.2,239.2L601.5,239.1L601.7,239.1L602.0,239.1L602.2,239.0L602.5,239.1L602.7,239.1L603.0,239.1L603.2,239.2L603.5,239.2L603.7,239.3L604.0,239.4L604.2,239.4L604.5,239.6L604.7,239.7L605.0,239.8L605.2,239.9L605.5,240.0L605.7,240.2L606.0,240.3L606.2,240.5L606.5,240.6L606.7,240.8L607.0,240.9L607.2,241.1L607.5,241.2L607.7,241.4L608.0,241.5L608.2,241.7L608.5,241.8L608.7,242.0L609.0,242.1L609.2,242.2L609.5,242.3L609.7,242.5L610.0,242.6L610.2,242.7L610.5,242.8L610.7,242.8L611.0,242.9L611.2,243.0L611.5,243.0L611.7,243.1L612.0,243.1L612.2,243.1L612.5,243.2L612.7,243.2L613.0,243.2L613.2,243.2L613.5,243.1L613.7,243.1L614.0,243.1L614.2,243.0L614.5,243.0L614.7,242.9L615.0,242.9L615.2,242.8L615.5,242.7L615.7,242.6L616.0,242.5L616.2,242.4L616.5,242.4L616.7,242.3L617.0,242.2L617.2,242.1L617.5,242.0L617.7,241.9L618.0,241.7L618.2,241.6L618.5,241.5L618.7,241.4L619.0,241.3L619.2,241.3L619.5,241.2L619.7,241.1L619.9,241.0L620.2,240.9L620.4,240.8L620.7,240.8L620.9,240.7L621.2,240.6L621.4,240.6L621.7,240.6L621.9,240.5L622.2,240.5L622.4,240.5L622.7,240.4L622.9,240.4L623.2,240.4L623.4,240.4L623.7,240.4L623.9,240.4L624.2,240.4L624.4,240.5L624.7,240.5L624.9,240.5L625.2,240.6L625.4,240.6L625.7,240.6L625.9,240.7L626.2,240.8L626.4,240.8L626.7,240.9L626.9,240.9L627.2,241.0L627.4,241.1L627.7,241.1L627.9,241.2L628.2,241.3L628.4,241.3L628.7,241.4L628.9,241.5L629.2,241.5L629.4,241.6L629.7,241.7L629.9,241.7L630.2,241.8L630.4,241.8L630.7,241.9L630.9,242.0L631.2,242.0L631.4,242.0L631.7,242.1L631.9,242.1L632.2,242.2L632.4,242.2L632.7,242.2L632.9,242.2L633.2,242.2L633.4,242.2L633.7,242.3L633.9,242.3L634.2,242.3L634.4,242.3L634.7,242.2L634.9,242.2L635.2,242.2L635.4,242.2L635.7,242.2L635.9,242.1L636.2,242.1L636.4,242.1L636.7,242.0L636.9,242.0L637.2,242.0L637.4,241.9L637.7,241.9L637.9,241.8L638.2,241.8L638.4,241.7L638.7,241.7L638.9,241.7L639.2,241.6L639.4,241.6L639.7,241.5L639.9,241.5L640.2,241.4L640.4,241.4L640.7,241.3L640.9,241.3L641.2,241.3L641.4,241.2L641.7,241.2L641.9,241.2L642.2,241.1L642.4,241.1L642.7,241.1L642.9,241.1L643.2,241.1L643.4,241.0L643.7,241.0L643.9,241.0L644.2,241.0L644.4,241.0L644.7,241.0L644.9,241.0L645.2,241.0L645.4,241.0L645.7,241.0L645.9,241.1L646.2,241.1L646.4,241.1L646.7,241.1L646.9,241.1L647.2,241.2L647.4,241.2L647.7,241.2L647.9,241.2L648.2,241.3L648.4,241.3L648.7,241.3L648.9,241.4L649.2,241.4L649.4,241.4L649.7,241.4L649.9,241.5L650.2,241.5L650.4,241.5L650.7,241.6L650.9,241.6L651.2,241.6L651.4,241.6L651.7,241.7L651.9,241.7L652.2,241.7L652.4,241.7L652.7,241.8L652.9,241.8L653.2,241.8L653.4,241.8L653.7,241.8L653.9,241.8L654.2,241.8L654.4,241.8L654.7,241.8L654.9,241.8L655.2,241.8L655.4,241.8L655.7,241.8L655.9,241.8L656.2,241.8L656.4,241.8L656.7,241.8L656.9,241.8L657.2,241.8L657.4,241.8L657.7,241.8L657.9,241.7L658.2,241.7L658.4,241.7L658.7,241.7L658.9,241.7L659.2,241.7L659.4,241.6L659.6,241.6L659.9,241.6L660.1,241.6L660.4,241.5L660.6,241.5L660.9,241.5L661.1,241.5L661.4,241.5L661.6,241.5L661.9,241.4L662.1,241.4L662.4,241.4L662.6,241.4L662.9,241.4L663.1,241.4L663.4,241.3L663.6,241.3L663.9,241.3L664.1,241.3L664.4,241.3L664.6,241.3L664.9,241.3L665.1,241.3L665.4,241.3L665.6,241.3L665.9,241.3L666.1,241.3L666.4,241.3L666.6,241.3L666.9,241.3L667.1,241.3L667.4,241.3L667.6,241.3L667.9,241.3L668.1,241.3L668.4,241.4L668.6,241.4L668.9,241.4L669.1,241.4L669.4,241.4L669.6,241.4L669.9,241.4L670.1,241.4L670.4,241.5L670.6,241.5L670.9,241.5L671.1,241.5L671.4,241.5L671.6,241.5L671.9,241.5L672.1,241.6L672.4,241.6L672.6,241.6L672.9,241.6L673.1,241.6L673.4,241.6L673.6,241.6L673.9,241.6L674.1,241.6L674.4,241.6L674.6,241.6L674.9,241.7L675.1,241.7L675.4,241.7L675.6,241.7L675.9,241.7L676.1,241.7L676.4,241.7L676.6,241.7L676.9,241.7L677.1,241.7L677.4,241.7L677.6,241.7L677.9,241.6L678.1,241.6L678.4,241.6L678.6,241.6L678.9,241.6L679.1,241.6L679.4,241.6L679.6,241.6" fill="none" stroke="#d0649a" stroke-width="1.0" stroke-linejoin="round" />
<g stroke="#c23c78" stroke-width="0.9" fill="#c23c78"><line x1="579.75" y1="233.37" x2="579.75" y2="238.74"/><circle cx="579.75" cy="236.05" r="1.4" stroke="none"/><line x1="582.45" y1="230.81" x2="582.45" y2="237.50"/><circle cx="582.45" cy="234.15" r="1.4" stroke="none"/><line x1="585.15" y1="237.26" x2="585.15" y2="244.29"/><circle cx="585.15" cy="240.78" r="1.4" stroke="none"/><line x1="587.85" y1="241.53" x2="587.85" y2="247.70"/><circle cx="587.85" cy="244.62" r="1.4" stroke="none"/><line x1="590.55" y1="242.18" x2="590.55" y2="249.22"/><circle cx="590.55" cy="245.70" r="1.4" stroke="none"/><line x1="593.25" y1="239.46" x2="593.25" y2="246.67"/><circle cx="593.25" cy="243.06" r="1.4" stroke="none"/><line x1="595.95" y1="238.14" x2="595.95" y2="245.55"/><circle cx="595.95" cy="241.84" r="1.4" stroke="none"/><line x1="598.65" y1="233.82" x2="598.65" y2="239.89"/><circle cx="598.65" cy="236.85" r="1.4" stroke="none"/><line x1="601.34" y1="237.24" x2="601.34" y2="243.34"/><circle cx="601.34" cy="240.29" r="1.4" stroke="none"/><line x1="604.04" y1="236.95" x2="604.04" y2="242.96"/><circle cx="604.04" cy="239.95" r="1.4" stroke="none"/><line x1="606.74" y1="237.43" x2="606.74" y2="244.84"/><circle cx="606.74" cy="241.14" r="1.4" stroke="none"/><line x1="609.44" y1="239.58" x2="609.44" y2="245.63"/><circle cx="609.44" cy="242.61" r="1.4" stroke="none"/><line x1="612.14" y1="242.84" x2="612.14" y2="249.03"/><circle cx="612.14" cy="245.93" r="1.4" stroke="none"/><line x1="614.84" y1="237.88" x2="614.84" y2="243.86"/><circle cx="614.84" cy="240.87" r="1.4" stroke="none"/><line x1="617.54" y1="239.12" x2="617.54" y2="245.23"/><circle cx="617.54" cy="242.17" r="1.4" stroke="none"/><line x1="620.24" y1="238.69" x2="620.24" y2="244.43"/><circle cx="620.24" cy="241.56" r="1.4" stroke="none"/><line x1="622.94" y1="233.57" x2="622.94" y2="238.88"/><circle cx="622.94" cy="236.23" r="1.4" stroke="none"/><line x1="625.64" y1="238.84" x2="625.64" y2="244.76"/><circle cx="625.64" cy="241.80" r="1.4" stroke="none"/><line x1="628.34" y1="236.41" x2="628.34" y2="243.35"/><circle cx="628.34" cy="239.88" r="1.4" stroke="none"/><line x1="631.04" y1="236.91" x2="631.04" y2="244.11"/><circle cx="631.04" cy="240.51" r="1.4" stroke="none"/><line x1="633.74" y1="241.38" x2="633.74" y2="246.45"/><circle cx="633.74" cy="243.91" r="1.4" stroke="none"/><line x1="636.44" y1="238.65" x2="636.44" y2="245.01"/><circle cx="636.44" cy="241.83" r="1.4" stroke="none"/><line x1="639.14" y1="237.29" x2="639.14" y2="244.13"/><circle cx="639.14" cy="240.71" r="1.4" stroke="none"/><line x1="641.83" y1="239.35" x2="641.83" y2="243.92"/><circle cx="641.83" cy="241.64" r="1.4" stroke="none"/><line x1="644.53" y1="237.26" x2="644.53" y2="243.82"/><circle cx="644.53" cy="240.54" r="1.4" stroke="none"/><line x1="647.23" y1="237.13" x2="647.23" y2="242.60"/><circle cx="647.23" cy="239.87" r="1.4" stroke="none"/><line x1="649.93" y1="240.71" x2="649.93" y2="245.52"/><circle cx="649.93" cy="243.12" r="1.4" stroke="none"/><line x1="652.63" y1="236.30" x2="652.63" y2="243.00"/><circle cx="652.63" cy="239.65" r="1.4" stroke="none"/><line x1="655.33" y1="237.58" x2="655.33" y2="242.83"/><circle cx="655.33" cy="240.20" r="1.4" stroke="none"/><line x1="658.03" y1="237.59" x2="658.03" y2="242.69"/><circle cx="658.03" cy="240.14" r="1.4" stroke="none"/><line x1="660.73" y1="240.73" x2="660.73" y2="246.35"/><circle cx="660.73" cy="243.54" r="1.4" stroke="none"/><line x1="663.43" y1="238.86" x2="663.43" y2="244.60"/><circle cx="663.43" cy="241.73" r="1.4" stroke="none"/><line x1="666.13" y1="239.85" x2="666.13" y2="244.96"/><circle cx="666.13" cy="242.41" r="1.4" stroke="none"/><line x1="668.83" y1="238.39" x2="668.83" y2="244.78"/><circle cx="668.83" cy="241.58" r="1.4" stroke="none"/><line x1="671.53" y1="239.51" x2="671.53" y2="246.57"/><circle cx="671.53" cy="243.04" r="1.4" stroke="none"/><line x1="674.23" y1="240.27" x2="674.23" y2="246.60"/><circle cx="674.23" cy="243.44" r="1.4" stroke="none"/><line x1="676.93" y1="237.43" x2="676.93" y2="244.16"/><circle cx="676.93" cy="240.79" r="1.4" stroke="none"/><line x1="679.62" y1="239.23" x2="679.62" y2="246.16"/><circle cx="679.62" cy="242.69" r="1.4" stroke="none"/><line x1="580.04" y1="232.35" x2="580.04" y2="238.35"/><circle cx="580.04" cy="235.35" r="1.4" stroke="none"/><line x1="594.44" y1="247.42" x2="594.44" y2="253.42"/><circle cx="594.44" cy="250.42" r="1.4" stroke="none"/></g>
<text x="213.00" y="333.40" font-family="'Liberation Serif', serif" font-size="13.5" text-anchor="start" font-weight="bold" font-style="normal" fill="#111" stroke="#111" stroke-width="0.3">h</text>
<rect x="229.60" y="341.10" width="146.65" height="85.10" fill="#fff" stroke="#e2e2e2" stroke-width="1"/>
<line x1="234.60" y1="341.10" x2="234.60" y2="426.20" stroke="#ebebeb" stroke-width="1"/>
<line x1="278.48" y1="341.10" x2="278.48" y2="426.20" stroke="#ebebeb" stroke-width="1"/>
<line x1="322.35" y1="341.10" x2="322.35" y2="426.20" stroke="#ebebeb" stroke-width="1"/>
<line x1="366.23" y1="341.10" x2="366.23" y2="426.20" stroke="#ebebeb" stroke-width="1"/>
<line x1="229.60" y1="356.40" x2="376.25" y2="356.40" stroke="#ebebeb" stroke-width="1"/>
<line x1="229.60" y1="392.40" x2="376.25" y2="392.40" stroke="#ebebeb" stroke-width="1"/>
<line x1="229.90" y1="356.40" x2="232.90" y2="356.40" stroke="#333" stroke-width="1"/>
<text x="228.00" y="360.10" font-family="'Liberation Serif', serif" font-size="11" text-anchor="end" fill="#111" transform="translate(228.00,0) scale(1.04,1) translate(-228.00,0)">1.0</text>
<line x1="229.90" y1="392.40" x2="232.90" y2="392.40" stroke="#333" stroke-width="1"/>
<text x="228.00" y="396.10" font-family="'Liberation Serif', serif" font-size="11" text-anchor="end" fill="#111" transform="translate(228.00,0) scale(1.04,1) translate(-228.00,0)">0.5</text>
<line x1="234.60" y1="423.00" x2="234.60" y2="426.00" stroke="#333" stroke-width="1"/>
<text x="234.60" y="434.70" font-family="'Liberation Serif', serif" font-size="11" text-anchor="middle" fill="#111" transform="translate(234.60,0) scale(1.1,1) translate(-234.60,0)">0</text>
<line x1="278.48" y1="423.00" x2="278.48" y2="426.00" stroke="#333" stroke-width="1"/>
<text x="278.48" y="434.70" font-family="'Liberation Serif', serif" font-size="11" text-anchor="middle" fill="#111" transform="translate(278.48,0) scale(1.1,1) translate(-278.48,0)">250</text>
<line x1="322.35" y1="423.00" x2="322.35" y2="426.00" stroke="#333" stroke-width="1"/>
<text x="322.35" y="434.70" font-family="'Liberation Serif', serif" font-size="11" text-anchor="middle" fill="#111" transform="translate(322.35,0) scale(1.1,1) translate(-322.35,0)">500</text>
<line x1="366.23" y1="423.00" x2="366.23" y2="426.00" stroke="#333" stroke-width="1"/>
<text x="366.23" y="434.70" font-family="'Liberation Serif', serif" font-size="11" text-anchor="middle" fill="#111" transform="translate(366.23,0) scale(1.1,1) translate(-366.23,0)">750</text>
<text x="286.0" y="446" font-family="'Liberation Serif', serif" font-size="12.5" fill="#111" stroke="#111" stroke-width="0.2" textLength="34" lengthAdjust="spacingAndGlyphs"><tspan font-style="italic">τ</tspan> (ms)</text>
<path d="M198.20,375.30 L205.20,372.10 L212.20,375.30" stroke="#222" stroke-width="0.95" fill="none" stroke-linejoin="miter"/>
<path d="M198.20,388.70 L205.20,392.50 L212.20,388.70" stroke="#222" stroke-width="0.95" fill="none" stroke-linejoin="miter"/>
<path d="M203.10,381.05 L210.20,381.05 M203.10,383.55 L210.20,383.55" stroke="#222" stroke-width="0.95" fill="none" stroke-linejoin="miter"/>
<path d="M204.70,379.10 Q203.30,381.50 201.40,382.30 Q203.30,383.10 204.70,385.50" stroke="#222" stroke-width="0.95" fill="none" stroke-linejoin="miter"/>
<path d="M236.0,355.0L236.3,355.8L236.7,356.8L237.2,357.9L237.8,359.2L238.3,360.7L238.9,362.4L239.5,364.1L240.0,366.0L240.5,368.1L241.0,370.3L241.5,372.8L242.0,375.4L242.5,378.0L243.0,380.7L243.5,383.4L244.0,386.0L244.5,388.7L244.9,391.4L245.4,394.3L245.8,397.2L246.2,399.9L246.7,402.5L247.1,404.9L247.5,407.0L247.9,408.8L248.3,410.4L248.6,411.9L249.0,413.1L249.4,414.2L249.7,415.1L250.1,415.9L250.5,416.5L250.9,416.9L251.3,417.2L251.8,417.2L252.2,417.1L252.6,416.9L253.1,416.5L253.5,416.1L254.0,415.5L254.5,414.8L254.9,414.0L255.4,413.0L255.9,411.9L256.4,410.8L256.9,409.5L257.4,408.3L258.0,407.0L258.6,405.6L259.2,404.1L259.8,402.5L260.5,400.9L261.2,399.3L261.8,397.7L262.4,396.3L263.0,395.0L263.5,393.9L264.1,392.9L264.6,392.0L265.1,391.1L265.5,390.4L266.0,389.7L266.5,389.1L267.0,388.5L267.5,388.0L268.0,387.6L268.5,387.2L269.0,387.0L269.5,386.8L270.0,386.6L270.5,386.5L271.0,386.5L271.5,386.5L272.0,386.6L272.5,386.8L272.9,387.0L273.4,387.3L273.9,387.6L274.5,388.0L275.0,388.5L275.6,389.1L276.1,389.7L276.7,390.5L277.3,391.3L277.9,392.1L278.6,392.9L279.3,393.7L280.0,394.5L280.8,395.3L281.6,396.1L282.5,396.9L283.4,397.7L284.4,398.4L285.3,399.1L286.2,399.6L287.0,400.0L287.8,400.2L288.5,400.3L289.3,400.2L290.0,400.1L290.7,399.8L291.5,399.6L292.2,399.3L293.0,399.0L293.8,398.7L294.7,398.2L295.6,397.8L296.5,397.3L297.4,396.8L298.3,396.3L299.2,395.8L300.0,395.5L300.8,395.2L301.5,395.0L302.3,394.8L303.0,394.6L303.7,394.5L304.5,394.4L305.2,394.3L306.0,394.3L306.8,394.3L307.7,394.4L308.6,394.5L309.4,394.7L310.3,394.8L311.2,395.1L312.1,395.3L313.0,395.5L313.9,395.8L314.7,396.1L315.5,396.4L316.3,396.8L317.2,397.1L318.0,397.5L319.0,397.8L320.0,398.0L321.1,398.2L322.2,398.3L323.3,398.4L324.5,398.5L325.8,398.6L327.1,398.6L328.5,398.6L330.0,398.6L331.6,398.6L333.4,398.5L335.3,398.4L337.2,398.3L339.2,398.1L341.1,398.0L343.1,397.9L345.0,397.8L346.9,397.7L348.9,397.6L350.8,397.6L352.8,397.5L354.7,397.4L356.6,397.3L358.4,397.3L360.0,397.2L361.6,397.1L363.1,397.0L364.6,396.9L365.9,396.9L367.2,396.8L368.3,396.7L369.3,396.6L370.0,396.6" fill="none" stroke="#4c6aa3" stroke-width="1.2" stroke-linejoin="round" />
<g stroke="#34548d" stroke-width="1.1" fill="#34548d"><line x1="236.50" y1="345.00" x2="236.50" y2="363.00"/><circle cx="236.50" cy="354.00" r="1.45" stroke="none"/><line x1="243.50" y1="372.50" x2="243.50" y2="384.50"/><circle cx="243.50" cy="378.50" r="1.45" stroke="none"/><line x1="250.50" y1="413.25" x2="250.50" y2="421.25"/><circle cx="250.50" cy="417.25" r="1.45" stroke="none"/><line x1="257.50" y1="399.00" x2="257.50" y2="407.00"/><circle cx="257.50" cy="403.00" r="1.45" stroke="none"/><line x1="264.50" y1="391.00" x2="264.50" y2="401.00"/><circle cx="264.50" cy="396.00" r="1.45" stroke="none"/><line x1="271.50" y1="387.25" x2="271.50" y2="397.25"/><circle cx="271.50" cy="392.25" r="1.45" stroke="none"/><line x1="278.50" y1="385.50" x2="278.50" y2="395.50"/><circle cx="278.50" cy="390.50" r="1.45" stroke="none"/><line x1="285.50" y1="405.00" x2="285.50" y2="413.00"/><circle cx="285.50" cy="409.00" r="1.45" stroke="none"/><line x1="292.50" y1="393.50" x2="292.50" y2="403.50"/><circle cx="292.50" cy="398.50" r="1.45" stroke="none"/><line x1="299.50" y1="391.00" x2="299.50" y2="401.00"/><circle cx="299.50" cy="396.00" r="1.45" stroke="none"/><line x1="306.50" y1="380.75" x2="306.50" y2="392.75"/><circle cx="306.50" cy="386.75" r="1.45" stroke="none"/><line x1="313.50" y1="390.25" x2="313.50" y2="400.25"/><circle cx="313.50" cy="395.25" r="1.45" stroke="none"/><line x1="320.50" y1="397.25" x2="320.50" y2="407.25"/><circle cx="320.50" cy="402.25" r="1.45" stroke="none"/><line x1="327.50" y1="398.00" x2="327.50" y2="408.00"/><circle cx="327.50" cy="403.00" r="1.45" stroke="none"/><line x1="334.50" y1="396.75" x2="334.50" y2="406.75"/><circle cx="334.50" cy="401.75" r="1.45" stroke="none"/><line x1="342.00" y1="391.50" x2="342.00" y2="401.50"/><circle cx="342.00" cy="396.50" r="1.45" stroke="none"/><line x1="349.25" y1="385.00" x2="349.25" y2="397.00"/><circle cx="349.25" cy="391.00" r="1.45" stroke="none"/><line x1="355.75" y1="392.25" x2="355.75" y2="402.25"/><circle cx="355.75" cy="397.25" r="1.45" stroke="none"/><line x1="362.50" y1="391.50" x2="362.50" y2="401.50"/><circle cx="362.50" cy="396.50" r="1.45" stroke="none"/><line x1="370.00" y1="381.75" x2="370.00" y2="393.75"/><circle cx="370.00" cy="387.75" r="1.45" stroke="none"/></g>
<rect x="383.60" y="341.10" width="146.90" height="85.10" fill="#fff" stroke="#e2e2e2" stroke-width="1"/>
<line x1="390.30" y1="341.10" x2="390.30" y2="426.20" stroke="#ebebeb" stroke-width="1"/>
<line x1="435.30" y1="341.10" x2="435.30" y2="426.20" stroke="#ebebeb" stroke-width="1"/>
<line x1="480.30" y1="341.10" x2="480.30" y2="426.20" stroke="#ebebeb" stroke-width="1"/>
<line x1="525.30" y1="341.10" x2="525.30" y2="426.20" stroke="#ebebeb" stroke-width="1"/>
<line x1="383.60" y1="357.25" x2="530.50" y2="357.25" stroke="#ebebeb" stroke-width="1"/>
<line x1="383.60" y1="393.25" x2="530.50" y2="393.25" stroke="#ebebeb" stroke-width="1"/>
<line x1="383.90" y1="357.25" x2="386.90" y2="357.25" stroke="#333" stroke-width="1"/>
<line x1="383.90" y1="393.25" x2="386.90" y2="393.25" stroke="#333" stroke-width="1"/>
<line x1="390.30" y1="423.00" x2="390.30" y2="426.00" stroke="#333" stroke-width="1"/>
<text x="390.30" y="434.70" font-family="'Liberation Serif', serif" font-size="11" text-anchor="middle" fill="#111" transform="translate(390.30,0) scale(1.1,1) translate(-390.30,0)">0</text>
<line x1="435.30" y1="423.00" x2="435.30" y2="426.00" stroke="#333" stroke-width="1"/>
<text x="435.30" y="434.70" font-family="'Liberation Serif', serif" font-size="11" text-anchor="middle" fill="#111" transform="translate(435.30,0) scale(1.1,1) translate(-435.30,0)">100</text>
<line x1="480.30" y1="423.00" x2="480.30" y2="426.00" stroke="#333" stroke-width="1"/>
<text x="480.30" y="434.70" font-family="'Liberation Serif', serif" font-size="11" text-anchor="middle" fill="#111" transform="translate(480.30,0) scale(1.1,1) translate(-480.30,0)">200</text>
<line x1="525.30" y1="423.00" x2="525.30" y2="426.00" stroke="#333" stroke-width="1"/>
<text x="525.30" y="434.70" font-family="'Liberation Serif', serif" font-size="11" text-anchor="middle" fill="#111" transform="translate(525.30,0) scale(1.1,1) translate(-525.30,0)">300</text>
<text x="440.5" y="446" font-family="'Liberation Serif', serif" font-size="12.5" fill="#111" stroke="#111" stroke-width="0.2" textLength="34" lengthAdjust="spacingAndGlyphs"><tspan font-style="italic">τ</tspan> (ms)</text>
<path d="M390.0,374.0L390.2,374.7L390.4,375.5L390.7,376.5L390.9,377.6L391.1,378.9L391.3,380.2L391.6,381.6L391.8,383.2L392.0,384.8L392.2,386.5L392.5,388.2L392.7,389.9L392.9,391.7L393.1,393.5L393.4,395.3L393.6,397.1L393.8,398.9L394.0,400.6L394.2,402.2L394.5,403.8L394.7,405.3L394.9,406.7L395.1,408.0L395.4,409.2L395.6,410.2L395.8,411.1L396.0,411.9L396.3,412.6L396.5,413.1L396.7,413.4L396.9,413.6L397.2,413.6L397.4,413.5L397.6,413.2L397.8,412.7L398.0,412.1L398.3,411.4L398.5,410.5L398.7,409.5L398.9,408.4L399.2,407.1L399.4,405.8L399.6,404.3L399.8,402.8L400.1,401.2L400.3,399.5L400.5,397.8L400.7,396.0L401.0,394.3L401.2,392.5L401.4,390.7L401.6,389.0L401.8,387.3L402.1,385.6L402.3,384.1L402.5,382.5L402.7,381.1L403.0,379.8L403.2,378.5L403.4,377.4L403.6,376.4L403.9,375.6L404.1,374.8L404.3,374.3L404.5,373.8L404.8,373.5L405.0,373.4L405.2,373.5L405.4,373.6L405.6,374.0L405.9,374.4L406.1,375.1L406.3,375.8L406.5,376.7L406.8,377.8L407.0,378.9L407.2,380.1L407.4,381.5L407.7,382.9L407.9,384.4L408.1,386.0L408.3,387.6L408.6,389.3L408.8,391.0L409.0,392.7L409.2,394.4L409.4,396.1L409.7,397.8L409.9,399.4L410.1,401.0L410.3,402.5L410.6,403.9L410.8,405.3L411.0,406.5L411.2,407.7L411.5,408.7L411.7,409.6L411.9,410.4L412.1,411.0L412.4,411.6L412.6,411.9L412.8,412.1L413.0,412.2L413.2,412.1L413.5,411.9L413.7,411.5L413.9,411.0L414.1,410.4L414.4,409.6L414.6,408.7L414.8,407.7L415.0,406.6L415.3,405.4L415.5,404.1L415.7,402.7L415.9,401.2L416.1,399.7L416.4,398.2L416.6,396.6L416.8,395.0L417.0,393.3L417.3,391.7L417.5,390.1L417.7,388.6L417.9,387.0L418.2,385.6L418.4,384.2L418.6,382.8L418.8,381.6L419.1,380.4L419.3,379.4L419.5,378.5L419.7,377.6L419.9,377.0L420.2,376.4L420.4,376.0L420.6,375.7L420.8,375.5L421.1,375.5L421.3,375.6L421.5,375.8L421.7,376.2L422.0,376.7L422.2,377.4L422.4,378.1L422.6,379.0L422.9,380.0L423.1,381.1L423.3,382.2L423.5,383.5L423.7,384.8L424.0,386.2L424.2,387.6L424.4,389.1L424.6,390.6L424.9,392.1L425.1,393.6L425.3,395.1L425.5,396.5L425.8,398.0L426.0,399.4L426.2,400.7L426.4,402.0L426.7,403.2L426.9,404.3L427.1,405.4L427.3,406.3L427.5,407.1L427.8,407.8L428.0,408.4L428.2,408.9L428.4,409.3L428.7,409.5L428.9,409.6L429.1,409.6L429.3,409.4L429.6,409.2L429.8,408.8L430.0,408.3L430.2,407.6L430.5,406.9L430.7,406.1L430.9,405.2L431.1,404.1L431.3,403.0L431.6,401.9L431.8,400.7L432.0,399.4L432.2,398.1L432.5,396.7L432.7,395.4L432.9,394.0L433.1,392.6L433.4,391.3L433.6,389.9L433.8,388.6L434.0,387.4L434.3,386.2L434.5,385.0L434.7,383.9L434.9,382.9L435.1,382.0L435.4,381.2L435.6,380.5L435.8,379.9L436.0,379.4L436.3,379.0L436.5,378.7L436.7,378.5L436.9,378.4L437.2,378.5L437.4,378.7L437.6,379.0L437.8,379.3L438.1,379.8L438.3,380.4L438.5,381.1L438.7,381.9L438.9,382.8L439.2,383.7L439.4,384.7L439.6,385.8L439.8,386.9L440.1,388.1L440.3,389.2L440.5,390.5L440.7,391.7L441.0,392.9L441.2,394.1L441.4,395.4L441.6,396.5L441.9,397.7L442.1,398.8L442.3,399.9L442.5,400.9L442.7,401.8L443.0,402.7L443.2,403.5L443.4,404.2L443.6,404.8L443.9,405.3L444.1,405.7L444.3,406.0L444.5,406.3L444.8,406.4L445.0,406.4L445.2,406.3L445.4,406.1L445.7,405.9L445.9,405.5L446.1,405.0L446.3,404.5L446.5,403.8L446.8,403.1L447.0,402.3L447.2,401.5L447.4,400.6L447.7,399.6L447.9,398.6L448.1,397.6L448.3,396.5L448.6,395.4L448.8,394.3L449.0,393.3L449.2,392.2L449.5,391.1L449.7,390.1L449.9,389.1L450.1,388.1L450.3,387.2L450.6,386.3L450.8,385.5L451.0,384.8L451.2,384.1L451.5,383.5L451.7,383.0L451.9,382.6L452.1,382.2L452.4,382.0L452.6,381.8L452.8,381.7L453.0,381.8L453.3,381.9L453.5,382.0L453.7,382.3L453.9,382.7L454.1,383.1L454.4,383.6L454.6,384.2L454.8,384.8L455.0,385.5L455.3,386.3L455.5,387.1L455.7,387.9L455.9,388.8L456.2,389.7L456.4,390.7L456.6,391.6L456.8,392.5L457.1,393.5L457.3,394.4L457.5,395.3L457.7,396.2L457.9,397.1L458.2,397.9L458.4,398.7L458.6,399.4L458.8,400.1L459.1,400.7L459.3,401.3L459.5,401.8L459.7,402.2L460.0,402.5L460.2,402.8L460.4,403.0L460.6,403.1L460.8,403.2L461.1,403.1L461.3,403.0L461.5,402.8L461.7,402.6L462.0,402.3L462.2,401.9L462.4,401.4L462.6,400.9L462.9,400.3L463.1,399.7L463.3,399.0L463.5,398.3L463.8,397.6L464.0,396.8L464.2,396.1L464.4,395.3L464.6,394.4L464.9,393.6L465.1,392.8L465.3,392.0L465.5,391.3L465.8,390.5L466.0,389.8L466.2,389.1L466.4,388.4L466.7,387.8L466.9,387.3L467.1,386.8L467.3,386.3L467.6,385.9L467.8,385.6L468.0,385.3L468.2,385.1L468.4,384.9L468.7,384.8L468.9,384.8L469.1,384.9L469.3,385.0L469.6,385.2L469.8,385.4L470.0,385.7L470.2,386.0L470.5,386.4L470.7,386.9L470.9,387.4L471.1,387.9L471.4,388.5L471.6,389.1L471.8,389.7L472.0,390.4L472.2,391.1L472.5,391.7L472.7,392.4L472.9,393.1L473.1,393.8L473.4,394.4L473.6,395.1L473.8,395.7L474.0,396.3L474.3,396.9L474.5,397.4L474.7,397.9L474.9,398.4L475.2,398.8L475.4,399.2L475.6,399.5L475.8,399.8L476.0,400.0L476.3,400.2L476.5,400.3L476.7,400.3L476.9,400.3L477.2,400.3L477.4,400.2L477.6,400.0L477.8,399.8L478.1,399.5L478.3,399.2L478.5,398.9L478.7,398.5L479.0,398.0L479.2,397.6L479.4,397.1L479.6,396.6L479.8,396.1L480.1,395.5L480.3,394.9L480.5,394.4L480.7,393.8L481.0,393.2L481.2,392.7L481.4,392.1L481.6,391.6L481.9,391.0L482.1,390.6L482.3,390.1L482.5,389.6L482.8,389.2L483.0,388.8L483.2,388.5L483.4,388.2L483.6,388.0L483.9,387.7L484.1,387.6L484.3,387.4L484.5,387.4L484.8,387.3L485.0,387.4L485.2,387.4L485.4,387.5L485.7,387.7L485.9,387.9L486.1,388.1L486.3,388.4L486.6,388.7L486.8,389.0L487.0,389.4L487.2,389.7L487.4,390.2L487.7,390.6L487.9,391.0L488.1,391.5L488.3,392.0L488.6,392.4L488.8,392.9L489.0,393.4L489.2,393.9L489.5,394.3L489.7,394.8L489.9,395.2L490.1,395.6L490.4,396.0L490.6,396.3L490.8,396.7L491.0,397.0L491.2,397.3L491.5,397.5L491.7,397.7L491.9,397.9L492.1,398.0L492.4,398.1L492.6,398.1L492.8,398.2L493.0,398.1L493.3,398.1L493.5,398.0L493.7,397.8L493.9,397.7L494.2,397.5L494.4,397.2L494.6,397.0L494.8,396.7L495.0,396.4L495.3,396.1L495.5,395.7L495.7,395.4L495.9,395.0L496.2,394.6L496.4,394.2L496.6,393.8L496.8,393.4L497.1,393.0L497.3,392.6L497.5,392.3L497.7,391.9L498.0,391.6L498.2,391.2L498.4,390.9L498.6,390.6L498.8,390.3L499.1,390.1L499.3,389.9L499.5,389.7L499.7,389.5L500.0,389.4L500.2,389.3L500.4,389.2L500.6,389.2L500.9,389.2L501.1,389.2L501.3,389.3L501.5,389.4L501.8,389.5L502.0,389.6L502.2,389.8L502.4,390.0L502.6,390.2L502.9,390.4L503.1,390.7L503.3,391.0L503.5,391.3L503.8,391.6L504.0,391.9L504.2,392.2L504.4,392.5L504.7,392.9L504.9,393.2L505.1,393.5L505.3,393.8L505.5,394.1L505.8,394.4L506.0,394.7L506.2,395.0L506.4,395.3L506.7,395.5L506.9,395.7L507.1,395.9L507.3,396.1L507.6,396.3L507.8,396.4L508.0,396.5L508.2,396.6L508.5,396.6L508.7,396.6L508.9,396.6L509.1,396.6L509.3,396.6L509.6,396.5L509.8,396.4L510.0,396.3L510.2,396.1L510.5,395.9L510.7,395.7L510.9,395.5L511.1,395.3L511.4,395.1L511.6,394.8L511.8,394.6L512.0,394.3L512.3,394.0L512.5,393.8L512.7,393.5L512.9,393.2L513.1,393.0L513.4,392.7L513.6,392.4L513.8,392.2L514.0,391.9L514.3,391.7L514.5,391.5L514.7,391.3L514.9,391.1L515.2,391.0L515.4,390.8L515.6,390.7L515.8,390.6L516.1,390.5L516.3,390.4L516.5,390.4L516.7,390.4L516.9,390.4L517.2,390.4L517.4,390.5L517.6,390.5L517.8,390.6L518.1,390.7L518.3,390.9L518.5,391.0L518.7,391.2L519.0,391.4L519.2,391.5L519.4,391.7L519.6,392.0L519.9,392.2L520.1,392.4L520.3,392.6L520.5,392.9L520.7,393.1L521.0,393.3L521.2,393.6L521.4,393.8L521.6,394.0L521.9,394.2L522.1,394.4L522.3,394.6L522.5,394.8L522.8,395.0L523.0,395.1L523.2,395.2L523.4,395.4L523.7,395.5L523.9,395.6L524.1,395.6" fill="none" stroke="#4c6aa3" stroke-width="1.2" stroke-linejoin="round" />
<g stroke="#34548d" stroke-width="1.1" fill="#34548d"><line x1="390.50" y1="385.25" x2="390.50" y2="399.25"/><circle cx="390.50" cy="392.25" r="1.45" stroke="none"/><line x1="393.00" y1="394.75" x2="393.00" y2="404.75"/><circle cx="393.00" cy="399.75" r="1.45" stroke="none"/><line x1="395.50" y1="403.00" x2="395.50" y2="413.00"/><circle cx="395.50" cy="408.00" r="1.45" stroke="none"/><line x1="398.00" y1="411.50" x2="398.00" y2="421.50"/><circle cx="398.00" cy="416.50" r="1.45" stroke="none"/><line x1="401.25" y1="384.00" x2="401.25" y2="394.00"/><circle cx="401.25" cy="389.00" r="1.45" stroke="none"/><line x1="404.50" y1="349.50" x2="404.50" y2="367.50"/><circle cx="404.50" cy="358.50" r="1.45" stroke="none"/><line x1="407.50" y1="368.00" x2="407.50" y2="380.00"/><circle cx="407.50" cy="374.00" r="1.45" stroke="none"/><line x1="410.00" y1="392.50" x2="410.00" y2="404.50"/><circle cx="410.00" cy="398.50" r="1.45" stroke="none"/><line x1="412.50" y1="397.25" x2="412.50" y2="407.25"/><circle cx="412.50" cy="402.25" r="1.45" stroke="none"/><line x1="415.00" y1="397.25" x2="415.00" y2="407.25"/><circle cx="415.00" cy="402.25" r="1.45" stroke="none"/><line x1="417.50" y1="379.75" x2="417.50" y2="389.75"/><circle cx="417.50" cy="384.75" r="1.45" stroke="none"/><line x1="420.50" y1="345.00" x2="420.50" y2="363.00"/><circle cx="420.50" cy="354.00" r="1.45" stroke="none"/><line x1="423.75" y1="375.00" x2="423.75" y2="387.00"/><circle cx="423.75" cy="381.00" r="1.45" stroke="none"/><line x1="426.25" y1="383.50" x2="426.25" y2="393.50"/><circle cx="426.25" cy="388.50" r="1.45" stroke="none"/><line x1="428.75" y1="411.50" x2="428.75" y2="421.50"/><circle cx="428.75" cy="416.50" r="1.45" stroke="none"/><line x1="431.25" y1="383.50" x2="431.25" y2="393.50"/><circle cx="431.25" cy="388.50" r="1.45" stroke="none"/><line x1="433.00" y1="384.75" x2="433.00" y2="394.75"/><circle cx="433.00" cy="389.75" r="1.45" stroke="none"/><line x1="437.00" y1="357.50" x2="437.00" y2="373.50"/><circle cx="437.00" cy="365.50" r="1.45" stroke="none"/><line x1="439.50" y1="381.00" x2="439.50" y2="391.00"/><circle cx="439.50" cy="386.00" r="1.45" stroke="none"/><line x1="442.00" y1="397.25" x2="442.00" y2="407.25"/><circle cx="442.00" cy="402.25" r="1.45" stroke="none"/><line x1="445.00" y1="393.50" x2="445.00" y2="403.50"/><circle cx="445.00" cy="398.50" r="1.45" stroke="none"/><line x1="448.00" y1="385.50" x2="448.00" y2="395.50"/><circle cx="448.00" cy="390.50" r="1.45" stroke="none"/><line x1="450.50" y1="381.00" x2="450.50" y2="391.00"/><circle cx="450.50" cy="386.00" r="1.45" stroke="none"/><line x1="453.25" y1="366.00" x2="453.25" y2="380.00"/><circle cx="453.25" cy="373.00" r="1.45" stroke="none"/><line x1="456.25" y1="394.75" x2="456.25" y2="404.75"/><circle cx="456.25" cy="399.75" r="1.45" stroke="none"/><line x1="459.50" y1="397.25" x2="459.50" y2="407.25"/><circle cx="459.50" cy="402.25" r="1.45" stroke="none"/><line x1="462.50" y1="381.00" x2="462.50" y2="391.00"/><circle cx="462.50" cy="386.00" r="1.45" stroke="none"/><line x1="466.25" y1="378.50" x2="466.25" y2="388.50"/><circle cx="466.25" cy="383.50" r="1.45" stroke="none"/><line x1="468.75" y1="379.75" x2="468.75" y2="389.75"/><circle cx="468.75" cy="384.75" r="1.45" stroke="none"/><line x1="472.00" y1="384.75" x2="472.00" y2="394.75"/><circle cx="472.00" cy="389.75" r="1.45" stroke="none"/><line x1="475.00" y1="398.50" x2="475.00" y2="408.50"/><circle cx="475.00" cy="403.50" r="1.45" stroke="none"/><line x1="478.00" y1="391.00" x2="478.00" y2="401.00"/><circle cx="478.00" cy="396.00" r="1.45" stroke="none"/><line x1="481.25" y1="391.00" x2="481.25" y2="401.00"/><circle cx="481.25" cy="396.00" r="1.45" stroke="none"/><line x1="484.50" y1="389.75" x2="484.50" y2="399.75"/><circle cx="484.50" cy="394.75" r="1.45" stroke="none"/><line x1="487.50" y1="391.00" x2="487.50" y2="401.00"/><circle cx="487.50" cy="396.00" r="1.45" stroke="none"/><line x1="490.50" y1="388.00" x2="490.50" y2="398.00"/><circle cx="490.50" cy="393.00" r="1.45" stroke="none"/><line x1="494.50" y1="398.50" x2="494.50" y2="408.50"/><circle cx="494.50" cy="403.50" r="1.45" stroke="none"/><line x1="498.75" y1="393.50" x2="498.75" y2="403.50"/><circle cx="498.75" cy="398.50" r="1.45" stroke="none"/><line x1="502.00" y1="374.75" x2="502.00" y2="384.75"/><circle cx="502.00" cy="379.75" r="1.45" stroke="none"/><line x1="505.00" y1="387.25" x2="505.00" y2="397.25"/><circle cx="505.00" cy="392.25" r="1.45" stroke="none"/><line x1="508.00" y1="401.50" x2="508.00" y2="411.50"/><circle cx="508.00" cy="406.50" r="1.45" stroke="none"/><line x1="511.25" y1="388.50" x2="511.25" y2="398.50"/><circle cx="511.25" cy="393.50" r="1.45" stroke="none"/><line x1="515.00" y1="387.25" x2="515.00" y2="397.25"/><circle cx="515.00" cy="392.25" r="1.45" stroke="none"/><line x1="518.00" y1="394.75" x2="518.00" y2="404.75"/><circle cx="518.00" cy="399.75" r="1.45" stroke="none"/><line x1="521.25" y1="398.50" x2="521.25" y2="408.50"/><circle cx="521.25" cy="403.50" r="1.45" stroke="none"/><line x1="524.50" y1="398.00" x2="524.50" y2="408.00"/><circle cx="524.50" cy="403.00" r="1.45" stroke="none"/></g>
<rect x="538.25" y="341.10" width="147.75" height="85.10" fill="#fff" stroke="#e2e2e2" stroke-width="1"/>
<line x1="544.50" y1="341.10" x2="544.50" y2="426.20" stroke="#ebebeb" stroke-width="1"/>
<line x1="599.90" y1="341.10" x2="599.90" y2="426.20" stroke="#ebebeb" stroke-width="1"/>
<line x1="655.30" y1="341.10" x2="655.30" y2="426.20" stroke="#ebebeb" stroke-width="1"/>
<line x1="538.25" y1="357.75" x2="686.00" y2="357.75" stroke="#ebebeb" stroke-width="1"/>
<line x1="538.25" y1="398.00" x2="686.00" y2="398.00" stroke="#ebebeb" stroke-width="1"/>
<line x1="538.55" y1="357.75" x2="541.55" y2="357.75" stroke="#333" stroke-width="1"/>
<line x1="538.55" y1="398.00" x2="541.55" y2="398.00" stroke="#333" stroke-width="1"/>
<line x1="544.50" y1="423.00" x2="544.50" y2="426.00" stroke="#333" stroke-width="1"/>
<text x="544.50" y="434.70" font-family="'Liberation Serif', serif" font-size="11" text-anchor="middle" fill="#111" transform="translate(544.50,0) scale(1.1,1) translate(-544.50,0)">0</text>
<line x1="599.90" y1="423.00" x2="599.90" y2="426.00" stroke="#333" stroke-width="1"/>
<text x="599.90" y="434.70" font-family="'Liberation Serif', serif" font-size="11" text-anchor="middle" fill="#111" transform="translate(599.90,0) scale(1.1,1) translate(-599.90,0)">100</text>
<line x1="655.30" y1="423.00" x2="655.30" y2="426.00" stroke="#333" stroke-width="1"/>
<text x="655.30" y="434.70" font-family="'Liberation Serif', serif" font-size="11" text-anchor="middle" fill="#111" transform="translate(655.30,0) scale(1.1,1) translate(-655.30,0)">200</text>
<text x="594.5" y="446" font-family="'Liberation Serif', serif" font-size="12.5" fill="#111" stroke="#111" stroke-width="0.2" textLength="34" lengthAdjust="spacingAndGlyphs"><tspan font-style="italic">τ</tspan> (ms)</text>
<path d="M544.5,358.0L544.8,357.7L545.0,357.6L545.3,357.5L545.6,357.6L545.8,357.7L546.1,358.0L546.4,358.3L546.6,358.8L546.9,359.4L547.2,360.1L547.4,360.9L547.7,361.8L548.0,362.7L548.2,363.8L548.5,364.9L548.8,366.2L549.0,367.4L549.3,368.8L549.6,370.2L549.8,371.7L550.1,373.2L550.4,374.8L550.6,376.4L550.9,378.1L551.1,379.8L551.4,381.4L551.7,383.1L551.9,384.8L552.2,386.5L552.5,388.2L552.7,389.9L553.0,391.6L553.3,393.2L553.5,394.8L553.8,396.3L554.1,397.8L554.3,399.2L554.6,400.6L554.9,401.9L555.1,403.1L555.4,404.3L555.7,405.4L555.9,406.4L556.2,407.3L556.5,408.1L556.7,408.9L557.0,409.5L557.3,410.1L557.5,410.5L557.8,410.8L558.1,411.1L558.3,411.2L558.6,411.2L558.9,411.2L559.1,411.0L559.4,410.7L559.7,410.4L559.9,409.9L560.2,409.4L560.5,408.7L560.7,408.0L561.0,407.2L561.3,406.3L561.5,405.3L561.8,404.3L562.1,403.2L562.3,402.0L562.6,400.8L562.8,399.5L563.1,398.2L563.4,396.9L563.6,395.5L563.9,394.1L564.2,392.6L564.4,391.2L564.7,389.7L565.0,388.3L565.2,386.8L565.5,385.4L565.8,383.9L566.0,382.5L566.3,381.1L566.6,379.8L566.8,378.4L567.1,377.1L567.4,375.9L567.6,374.7L567.9,373.6L568.2,372.5L568.4,371.5L568.7,370.5L569.0,369.7L569.2,368.9L569.5,368.1L569.8,367.5L570.0,366.9L570.3,366.4L570.6,366.0L570.8,365.7L571.1,365.4L571.4,365.2L571.6,365.1L571.9,365.1L572.2,365.2L572.4,365.4L572.7,365.6L573.0,365.9L573.2,366.3L573.5,366.7L573.8,367.2L574.0,367.8L574.3,368.5L574.5,369.2L574.8,369.9L575.1,370.7L575.3,371.6L575.6,372.5L575.9,373.4L576.1,374.4L576.4,375.4L576.7,376.4L576.9,377.5L577.2,378.6L577.5,379.6L577.7,380.7L578.0,381.8L578.3,382.9L578.5,384.0L578.8,385.0L579.1,386.1L579.3,387.1L579.6,388.2L579.9,389.1L580.1,390.1L580.4,391.0L580.7,391.9L580.9,392.8L581.2,393.6L581.5,394.3L581.7,395.1L582.0,395.7L582.3,396.3L582.5,396.9L582.8,397.4L583.1,397.8L583.3,398.2L583.6,398.6L583.9,398.8L584.1,399.1L584.4,399.2L584.7,399.3L584.9,399.4L585.2,399.4L585.5,399.3L585.7,399.2L586.0,399.0L586.2,398.8L586.5,398.5L586.8,398.2L587.0,397.9L587.3,397.5L587.6,397.0L587.8,396.5L588.1,396.0L588.4,395.5L588.6,394.9L588.9,394.3L589.2,393.7L589.4,393.0L589.7,392.4L590.0,391.7L590.2,391.0L590.5,390.3L590.8,389.6L591.0,388.9L591.3,388.2L591.6,387.5L591.8,386.8L592.1,386.1L592.4,385.5L592.6,384.8L592.9,384.2L593.2,383.5L593.4,383.0L593.7,382.4L594.0,381.8L594.2,381.3L594.5,380.8L594.8,380.3L595.0,379.9L595.3,379.5L595.6,379.1L595.8,378.8L596.1,378.5L596.4,378.2L596.6,378.0L596.9,377.8L597.2,377.6L597.4,377.5L597.7,377.4L597.9,377.4L598.2,377.3L598.5,377.4L598.7,377.4L599.0,377.5L599.3,377.6L599.5,377.7L599.8,377.9L600.1,378.1L600.3,378.3L600.6,378.5L600.9,378.8L601.1,379.1L601.4,379.4L601.7,379.7L601.9,380.0L602.2,380.4L602.5,380.7L602.7,381.1L603.0,381.5L603.3,381.9L603.5,382.3L603.8,382.6L604.1,383.0L604.3,383.4L604.6,383.8L604.9,384.2L605.1,384.6L605.4,385.0L605.7,385.3L605.9,385.7L606.2,386.0L606.5,386.4L606.7,386.7L607.0,387.0L607.3,387.3L607.5,387.6L607.8,387.8L608.1,388.1L608.3,388.3L608.6,388.5L608.9,388.7L609.1,388.9L609.4,389.1L609.7,389.2L609.9,389.3L610.2,389.4L610.4,389.5L610.7,389.5L611.0,389.6L611.2,389.6L611.5,389.6L611.8,389.6L612.0,389.6L612.3,389.5L612.6,389.5L612.8,389.4L613.1,389.3L613.4,389.2L613.6,389.1L613.9,389.0L614.2,388.9L614.4,388.7L614.7,388.6L615.0,388.4L615.2,388.2L615.5,388.1L615.8,387.9L616.0,387.7L616.3,387.5L616.6,387.3L616.8,387.1L617.1,387.0L617.4,386.8L617.6,386.6L617.9,386.4L618.2,386.2L618.4,386.0L618.7,385.8L619.0,385.7L619.2,385.5L619.5,385.3L619.8,385.2L620.0,385.0L620.3,384.9L620.6,384.7L620.8,384.6L621.1,384.5L621.4,384.4L621.6,384.3L621.9,384.2L622.1,384.1L622.4,384.0L622.7,384.0L622.9,383.9L623.2,383.8L623.5,383.8L623.7,383.8L624.0,383.7L624.3,383.7L624.5,383.7L624.8,383.7L625.1,383.7L625.3,383.7L625.6,383.7L625.9,383.8L626.1,383.8L626.4,383.8L626.7,383.9L626.9,383.9L627.2,384.0L627.5,384.1L627.7,384.1L628.0,384.2L628.3,384.2L628.5,384.3L628.8,384.4L629.1,384.5L629.3,384.5L629.6,384.6L629.9,384.7L630.1,384.8L630.4,384.9L630.7,384.9L630.9,385.0L631.2,385.1L631.5,385.2L631.7,385.3L632.0,385.3L632.3,385.4L632.5,385.5L632.8,385.5L633.1,385.6L633.3,385.7L633.6,385.7L633.8,385.8L634.1,385.8L634.4,385.9L634.6,385.9L634.9,386.0L635.2,386.0L635.4,386.0L635.7,386.1L636.0,386.1L636.2,386.1L636.5,386.1L636.8,386.1L637.0,386.2L637.3,386.2L637.6,386.2L637.8,386.2L638.1,386.2L638.4,386.2L638.6,386.2L638.9,386.2L639.2,386.1L639.4,386.1L639.7,386.1L640.0,386.1L640.2,386.1L640.5,386.1L640.8,386.0L641.0,386.0L641.3,386.0L641.6,386.0L641.8,385.9L642.1,385.9L642.4,385.9L642.6,385.9L642.9,385.8L643.2,385.8L643.4,385.8L643.7,385.7L644.0,385.7L644.2,385.7L644.5,385.7L644.8,385.6L645.0,385.6L645.3,385.6L645.5,385.5L645.8,385.5L646.1,385.5L646.3,385.5L646.6,385.5L646.9,385.4L647.1,385.4L647.4,385.4L647.7,385.4L647.9,385.4L648.2,385.4L648.5,385.3L648.7,385.3L649.0,385.3L649.3,385.3L649.5,385.3L649.8,385.3L650.1,385.3L650.3,385.3L650.6,385.3L650.9,385.3L651.1,385.3L651.4,385.3L651.7,385.3L651.9,385.3L652.2,385.3L652.5,385.3L652.7,385.3L653.0,385.3L653.3,385.3L653.5,385.3L653.8,385.3L654.1,385.3L654.3,385.3L654.6,385.3L654.9,385.4L655.1,385.4L655.4,385.4L655.7,385.4L655.9,385.4L656.2,385.4L656.5,385.4L656.7,385.4L657.0,385.4L657.3,385.4L657.5,385.4L657.8,385.4L658.0,385.5L658.3,385.5L658.6,385.5L658.8,385.5L659.1,385.5L659.4,385.5L659.6,385.5L659.9,385.5L660.2,385.5L660.4,385.5L660.7,385.5L661.0,385.5L661.2,385.5L661.5,385.5L661.8,385.5L662.0,385.5L662.3,385.5L662.6,385.6L662.8,385.6L663.1,385.6L663.4,385.6L663.6,385.6L663.9,385.6L664.2,385.6L664.4,385.6L664.7,385.6L665.0,385.6L665.2,385.6L665.5,385.6L665.8,385.6L666.0,385.6L666.3,385.6L666.6,385.6L666.8,385.6L667.1,385.5L667.4,385.5L667.6,385.5L667.9,385.5L668.2,385.5L668.4,385.5L668.7,385.5L669.0,385.5L669.2,385.5L669.5,385.5L669.7,385.5L670.0,385.5L670.3,385.5L670.5,385.5L670.8,385.5L671.1,385.5L671.3,385.5L671.6,385.5L671.9,385.5L672.1,385.5L672.4,385.5L672.7,385.5L672.9,385.5L673.2,385.5L673.5,385.5L673.7,385.5L674.0,385.5L674.3,385.5L674.5,385.5L674.8,385.5L675.1,385.5L675.3,385.5L675.6,385.5L675.9,385.5L676.1,385.5L676.4,385.5L676.7,385.5L676.9,385.5L677.2,385.5L677.5,385.5" fill="none" stroke="#5aa9bf" stroke-width="1.2" stroke-linejoin="round" />
<g stroke="#5eaac0" stroke-width="1.5" fill="#5eaac0"><line x1="544.50" y1="348.75" x2="544.50" y2="370.75"/><circle cx="544.50" cy="359.75" r="1.45" stroke="none"/><line x1="550.25" y1="366.50" x2="550.25" y2="384.50"/><circle cx="550.25" cy="375.50" r="1.45" stroke="none"/><line x1="555.75" y1="405.50" x2="555.75" y2="421.50"/><circle cx="555.75" cy="413.50" r="1.45" stroke="none"/><line x1="561.25" y1="396.00" x2="561.25" y2="412.00"/><circle cx="561.25" cy="404.00" r="1.45" stroke="none"/><line x1="566.75" y1="375.00" x2="566.75" y2="391.00"/><circle cx="566.75" cy="383.00" r="1.45" stroke="none"/><line x1="572.50" y1="345.50" x2="572.50" y2="367.50"/><circle cx="572.50" cy="356.50" r="1.45" stroke="none"/><line x1="578.00" y1="367.50" x2="578.00" y2="383.50"/><circle cx="578.00" cy="375.50" r="1.45" stroke="none"/><line x1="583.50" y1="389.25" x2="583.50" y2="401.25"/><circle cx="583.50" cy="395.25" r="1.45" stroke="none"/><line x1="589.00" y1="381.75" x2="589.00" y2="397.75"/><circle cx="589.00" cy="389.75" r="1.45" stroke="none"/><line x1="594.50" y1="369.50" x2="594.50" y2="387.50"/><circle cx="594.50" cy="378.50" r="1.45" stroke="none"/><line x1="600.25" y1="362.25" x2="600.25" y2="382.25"/><circle cx="600.25" cy="372.25" r="1.45" stroke="none"/><line x1="606.00" y1="369.00" x2="606.00" y2="387.00"/><circle cx="606.00" cy="378.00" r="1.45" stroke="none"/><line x1="611.50" y1="378.25" x2="611.50" y2="396.25"/><circle cx="611.50" cy="387.25" r="1.45" stroke="none"/><line x1="617.00" y1="372.50" x2="617.00" y2="390.50"/><circle cx="617.00" cy="381.50" r="1.45" stroke="none"/><line x1="622.50" y1="387.00" x2="622.50" y2="405.00"/><circle cx="622.50" cy="396.00" r="1.45" stroke="none"/><line x1="628.00" y1="377.50" x2="628.00" y2="395.50"/><circle cx="628.00" cy="386.50" r="1.45" stroke="none"/><line x1="633.50" y1="377.50" x2="633.50" y2="395.50"/><circle cx="633.50" cy="386.50" r="1.45" stroke="none"/><line x1="639.00" y1="377.00" x2="639.00" y2="395.00"/><circle cx="639.00" cy="386.00" r="1.45" stroke="none"/><line x1="644.50" y1="370.50" x2="644.50" y2="390.50"/><circle cx="644.50" cy="380.50" r="1.45" stroke="none"/><line x1="650.25" y1="395.50" x2="650.25" y2="411.50"/><circle cx="650.25" cy="403.50" r="1.45" stroke="none"/><line x1="655.75" y1="371.50" x2="655.75" y2="391.50"/><circle cx="655.75" cy="381.50" r="1.45" stroke="none"/><line x1="661.50" y1="390.00" x2="661.50" y2="408.00"/><circle cx="661.50" cy="399.00" r="1.45" stroke="none"/><line x1="667.00" y1="395.00" x2="667.00" y2="411.00"/><circle cx="667.00" cy="403.00" r="1.45" stroke="none"/><line x1="672.50" y1="360.00" x2="672.50" y2="376.00"/><circle cx="672.50" cy="368.00" r="1.45" stroke="none"/><line x1="678.25" y1="380.75" x2="678.25" y2="398.75"/><circle cx="678.25" cy="389.75" r="1.45" stroke="none"/></g>
<path d="M308.5,358.9L308.8,359.4L309.0,360.0L309.3,360.5L309.5,361.0L309.8,361.5L310.0,361.8L310.3,362.1L310.5,362.4L310.8,362.5L311.0,362.6L311.3,362.6L311.5,362.5L311.8,362.3L312.0,362.1L312.3,361.8L312.5,361.4L312.8,360.9L313.0,360.4L313.3,359.9L313.5,359.3L313.8,358.7L314.0,358.1L314.3,357.5L314.5,356.9L314.8,356.4L315.0,355.8L315.3,355.4L315.5,354.9L315.8,354.6L316.0,354.3L316.3,354.0L316.5,353.9L316.8,353.8L317.0,353.8L317.3,353.9L317.5,354.1L317.8,354.3L318.0,354.7L318.3,355.0L318.5,355.5L318.8,356.0L319.0,356.5L319.3,357.1L319.5,357.7L319.8,358.3L320.0,358.9L320.3,359.5L320.5,360.0L320.8,360.6L321.0,361.0L321.3,361.5L321.5,361.8L321.8,362.1L322.0,362.4L322.3,362.5L322.5,362.6L322.8,362.6L323.0,362.5L323.3,362.3L323.5,362.1L323.8,361.7L324.0,361.3L324.3,360.9L324.5,360.4L324.8,359.9L325.0,359.3L325.3,358.7L325.5,358.1L325.8,357.5L326.0,356.9L326.3,356.4L326.5,355.8L326.8,355.3L327.0,354.9L327.3,354.5L327.5,354.2L327.8,354.0L328.0,353.9L328.3,353.8L328.5,353.8L328.8,353.9L329.0,354.1L329.3,354.3L329.5,354.7L329.8,355.1L330.0,355.5L330.3,356.0L330.5,356.6L330.8,357.1L331.0,357.7L331.3,358.3L331.5,358.9L331.8,359.5L332.0,360.1L332.3,360.6L332.5,361.1L332.8,361.5L333.0,361.9L333.3,362.2L333.5,362.4L333.8,362.5L334.0,362.6L334.3,362.6L334.5,362.5L334.8,362.3L335.0,362.0L335.3,361.7L335.5,361.3L335.8,360.9L336.0,360.4L336.3,359.8L336.5,359.3L336.8,358.7L337.0,358.1L337.3,357.5L337.5,356.9L337.8,356.3L338.0,355.8L338.3,355.3L338.5,354.9L338.8,354.5L339.0,354.2L339.3,354.0L339.5,353.9L339.8,353.8L340.0,353.8L340.3,353.9L340.5,354.1L340.8,354.4L341.0,354.7L341.3,355.1L341.5,355.5L341.8,356.0L342.0,356.6L342.3,357.2L342.5,357.7L342.8,358.3L343.0,358.9L343.3,359.5L343.5,360.1L343.8,360.6L344.0,361.1L344.3,361.5L344.5,361.9L344.8,362.2L345.0,362.4L345.3,362.5L345.5,362.6L345.8,362.6L346.0,362.5L346.3,362.3L346.5,362.0L346.8,361.7L347.0,361.3L347.3,360.9L347.5,360.3L347.8,359.8L348.0,359.2L348.3,358.6L348.5,358.0L348.8,357.4L349.0,356.9L349.3,356.3L349.5,355.8L349.8,355.3L350.0,354.9L350.3,354.5L350.5,354.2L350.8,354.0L351.0,353.9L351.3,353.8L351.5,353.8L351.8,353.9L352.0,354.1L352.3,354.4L352.5,354.7L352.8,355.1L353.0,355.6L353.3,356.1L353.5,356.6L353.8,357.2L354.0,357.8L354.3,358.4L354.5,359.0L354.8,359.6" fill="none" stroke="#555" stroke-width="0.8" stroke-linejoin="round" />
<line x1="293.89" y1="366.31" x2="309.06" y2="351.14" stroke="#7287b6" stroke-width="2.37"/>
<polygon points="313.09,347.11 311.16,353.23 306.97,349.04" fill="#7287b6"/>
<circle cx="302.00" cy="358.20" r="7.40" fill="url(#gn2)"/>
<text x="298.43" y="359.75" font-family="'Liberation Serif', serif" font-size="10.50" fill="#111" stroke="#111" stroke-width="0.25">n<tspan font-size="7.00" dy="1.85" stroke-width="0.15">2</tspan></text>
<line x1="353.19" y1="366.31" x2="368.36" y2="351.14" stroke="#62adc2" stroke-width="2.37"/>
<polygon points="372.39,347.11 370.46,353.23 366.27,349.04" fill="#62adc2"/>
<circle cx="361.30" cy="358.20" r="7.40" fill="url(#gn1)"/>
<text x="357.73" y="359.75" font-family="'Liberation Serif', serif" font-size="10.50" fill="#111" stroke="#111" stroke-width="0.25">n<tspan font-size="7.00" dy="1.85" stroke-width="0.15">1</tspan></text>
<text x="332.15" y="351.3" font-family="'Liberation Serif', serif" font-size="9.5" text-anchor="middle" fill="#222"><tspan font-style="italic">C</tspan><tspan font-size="6.5" dy="2">2,1</tspan></text>
<path d="M462.8,358.9L463.0,359.4L463.2,360.0L463.5,360.5L463.8,361.0L464.0,361.5L464.2,361.8L464.5,362.1L464.8,362.4L465.0,362.5L465.2,362.6L465.5,362.6L465.8,362.5L466.0,362.3L466.2,362.1L466.5,361.8L466.8,361.4L467.0,360.9L467.2,360.4L467.5,359.9L467.8,359.3L468.0,358.7L468.2,358.1L468.5,357.5L468.8,357.0L469.0,356.4L469.2,355.9L469.5,355.4L469.8,354.9L470.0,354.6L470.2,354.3L470.5,354.0L470.8,353.9L471.0,353.8L471.2,353.8L471.5,353.9L471.8,354.1L472.0,354.3L472.2,354.6L472.5,355.0L472.8,355.5L473.0,356.0L473.2,356.5L473.5,357.1L473.8,357.7L474.0,358.3L474.2,358.9L474.5,359.4L474.8,360.0L475.0,360.5L475.2,361.0L475.5,361.5L475.8,361.8L476.0,362.1L476.2,362.4L476.5,362.5L476.8,362.6L477.0,362.6L477.2,362.5L477.5,362.3L477.8,362.1L478.0,361.8L478.2,361.4L478.5,360.9L478.8,360.4L479.0,359.9L479.2,359.3L479.5,358.7L479.8,358.1L480.0,357.5L480.2,357.0L480.5,356.4L480.8,355.9L481.0,355.4L481.2,354.9L481.5,354.6L481.8,354.3L482.0,354.0L482.2,353.9L482.5,353.8L482.8,353.8L483.0,353.9L483.2,354.1L483.5,354.3L483.8,354.6L484.0,355.0L484.2,355.5L484.5,356.0L484.8,356.5L485.0,357.1L485.2,357.7L485.5,358.3L485.8,358.9L486.0,359.4L486.2,360.0L486.5,360.5L486.8,361.0L487.0,361.5L487.2,361.8L487.5,362.1L487.8,362.4L488.0,362.5L488.2,362.6L488.5,362.6L488.8,362.5L489.0,362.3L489.2,362.1L489.5,361.8L489.8,361.4L490.0,360.9L490.2,360.4L490.5,359.9L490.8,359.3L491.0,358.7L491.2,358.1L491.5,357.5L491.8,357.0L492.0,356.4L492.2,355.9L492.5,355.4L492.8,354.9L493.0,354.6L493.2,354.3L493.5,354.0L493.8,353.9L494.0,353.8L494.2,353.8L494.5,353.9L494.8,354.1L495.0,354.3L495.2,354.6L495.5,355.0L495.8,355.5L496.0,356.0L496.2,356.5L496.5,357.1L496.8,357.7L497.0,358.3L497.2,358.9L497.5,359.4L497.8,360.0L498.0,360.5L498.2,361.0L498.5,361.5L498.8,361.8L499.0,362.1L499.2,362.4L499.5,362.5L499.8,362.6L500.0,362.6L500.2,362.5L500.5,362.3L500.8,362.1L501.0,361.8L501.2,361.4L501.5,360.9L501.8,360.4L502.0,359.9L502.2,359.3L502.5,358.7L502.8,358.1L503.0,357.5L503.2,357.0L503.5,356.4L503.8,355.9L504.0,355.4L504.2,354.9L504.5,354.6L504.8,354.3L505.0,354.0L505.2,353.9L505.5,353.8L505.8,353.8L506.0,353.9L506.2,354.1L506.5,354.3L506.8,354.6L507.0,355.0L507.2,355.5L507.5,356.0L507.8,356.5L508.0,357.1L508.2,357.7L508.5,358.3" fill="none" stroke="#555" stroke-width="0.8" stroke-linejoin="round" />
<line x1="448.14" y1="366.31" x2="463.31" y2="351.14" stroke="#7287b6" stroke-width="2.37"/>
<polygon points="467.34,347.11 465.41,353.23 461.22,349.04" fill="#7287b6"/>
<circle cx="456.25" cy="358.20" r="7.40" fill="url(#gn2)"/>
<text x="452.68" y="359.75" font-family="'Liberation Serif', serif" font-size="10.50" fill="#111" stroke="#111" stroke-width="0.25">n<tspan font-size="7.00" dy="1.85" stroke-width="0.15">2</tspan></text>
<line x1="506.89" y1="366.31" x2="522.06" y2="351.14" stroke="#955fae" stroke-width="2.37"/>
<polygon points="526.09,347.11 524.16,353.23 519.97,349.04" fill="#955fae"/>
<circle cx="515.00" cy="358.20" r="7.40" fill="url(#gn3)"/>
<text x="511.43" y="359.75" font-family="'Liberation Serif', serif" font-size="10.50" fill="#111" stroke="#111" stroke-width="0.25">n<tspan font-size="7.00" dy="1.85" stroke-width="0.15">3</tspan></text>
<text x="486.12" y="351.3" font-family="'Liberation Serif', serif" font-size="9.5" text-anchor="middle" fill="#222"><tspan font-style="italic">C</tspan><tspan font-size="6.5" dy="2">2,3</tspan></text>
<path d="M616.8,358.9L617.0,359.4L617.2,360.0L617.5,360.5L617.8,361.0L618.0,361.5L618.2,361.8L618.5,362.1L618.8,362.4L619.0,362.5L619.2,362.6L619.5,362.6L619.8,362.5L620.0,362.3L620.2,362.1L620.5,361.8L620.8,361.4L621.0,360.9L621.2,360.4L621.5,359.9L621.8,359.3L622.0,358.7L622.2,358.1L622.5,357.5L622.8,357.0L623.0,356.4L623.2,355.9L623.5,355.4L623.8,354.9L624.0,354.6L624.2,354.3L624.5,354.0L624.8,353.9L625.0,353.8L625.2,353.8L625.5,353.9L625.8,354.1L626.0,354.3L626.2,354.6L626.5,355.0L626.8,355.5L627.0,356.0L627.2,356.5L627.5,357.1L627.8,357.7L628.0,358.3L628.2,358.9L628.5,359.4L628.8,360.0L629.0,360.5L629.2,361.0L629.5,361.5L629.8,361.8L630.0,362.1L630.2,362.4L630.5,362.5L630.8,362.6L631.0,362.6L631.2,362.5L631.5,362.3L631.8,362.1L632.0,361.8L632.2,361.4L632.5,360.9L632.8,360.4L633.0,359.9L633.2,359.3L633.5,358.7L633.8,358.1L634.0,357.5L634.2,357.0L634.5,356.4L634.8,355.9L635.0,355.4L635.2,354.9L635.5,354.6L635.8,354.3L636.0,354.0L636.2,353.9L636.5,353.8L636.8,353.8L637.0,353.9L637.2,354.1L637.5,354.3L637.8,354.6L638.0,355.0L638.2,355.5L638.5,356.0L638.8,356.5L639.0,357.1L639.2,357.7L639.5,358.3L639.8,358.9L640.0,359.4L640.2,360.0L640.5,360.5L640.8,361.0L641.0,361.5L641.2,361.8L641.5,362.1L641.8,362.4L642.0,362.5L642.2,362.6L642.5,362.6L642.8,362.5L643.0,362.3L643.2,362.1L643.5,361.8L643.8,361.4L644.0,360.9L644.2,360.4L644.5,359.9L644.8,359.3L645.0,358.7L645.2,358.1L645.5,357.5L645.8,357.0L646.0,356.4L646.2,355.9L646.5,355.4L646.8,354.9L647.0,354.6L647.2,354.3L647.5,354.0L647.8,353.9L648.0,353.8L648.2,353.8L648.5,353.9L648.8,354.1L649.0,354.3L649.2,354.6L649.5,355.0L649.8,355.5L650.0,356.0L650.2,356.5L650.5,357.1L650.8,357.7L651.0,358.3L651.2,358.9L651.5,359.4L651.8,360.0L652.0,360.5L652.2,361.0L652.5,361.5L652.8,361.8L653.0,362.1L653.2,362.4L653.5,362.5L653.8,362.6L654.0,362.6L654.2,362.5L654.5,362.3L654.8,362.1L655.0,361.8L655.2,361.4L655.5,360.9L655.8,360.4L656.0,359.9L656.2,359.3L656.5,358.7L656.8,358.1L657.0,357.5L657.2,357.0L657.5,356.4L657.8,355.9L658.0,355.4L658.2,354.9L658.5,354.6L658.8,354.3L659.0,354.0L659.2,353.9L659.5,353.8L659.8,353.8L660.0,353.9L660.2,354.1L660.5,354.3L660.8,354.6L661.0,355.0L661.2,355.5L661.5,356.0L661.8,356.5L662.0,357.1L662.2,357.7L662.5,358.3L662.8,358.9L663.0,359.4L663.2,360.0L663.5,360.5L663.8,361.0" fill="none" stroke="#555" stroke-width="0.8" stroke-linejoin="round" />
<line x1="602.14" y1="366.31" x2="617.31" y2="351.14" stroke="#62adc2" stroke-width="2.37"/>
<polygon points="621.34,347.11 619.41,353.23 615.22,349.04" fill="#62adc2"/>
<circle cx="610.25" cy="358.20" r="7.40" fill="url(#gn1)"/>
<text x="606.67" y="359.75" font-family="'Liberation Serif', serif" font-size="10.50" fill="#111" stroke="#111" stroke-width="0.25">n<tspan font-size="7.00" dy="1.85" stroke-width="0.15">1</tspan></text>
<line x1="662.14" y1="366.31" x2="677.31" y2="351.14" stroke="#955fae" stroke-width="2.37"/>
<polygon points="681.34,347.11 679.41,353.23 675.22,349.04" fill="#955fae"/>
<circle cx="670.25" cy="358.20" r="7.40" fill="url(#gn3)"/>
<text x="666.67" y="359.75" font-family="'Liberation Serif', serif" font-size="10.50" fill="#111" stroke="#111" stroke-width="0.25">n<tspan font-size="7.00" dy="1.85" stroke-width="0.15">3</tspan></text>
<text x="640.75" y="351.3" font-family="'Liberation Serif', serif" font-size="9.5" text-anchor="middle" fill="#222"><tspan font-style="italic">C</tspan><tspan font-size="6.5" dy="2">1,3</tspan></text>
<text x="1.20" y="113.90" font-family="'Liberation Serif', serif" font-size="13.5" text-anchor="start" font-weight="bold" font-style="normal" fill="#111" stroke="#111" stroke-width="0.3">c</text>
<line x1="36" y1="133" x2="162" y2="133" stroke="#e0e0e0" stroke-width="1.35"/>
<line x1="36" y1="153" x2="162" y2="153" stroke="#e0e0e0" stroke-width="1.35"/>
<rect x="40.5" y="127" width="20.00" height="12.25" fill="#fff" stroke="#cdcdcd" stroke-width="1" stroke-dasharray="2,1.5"/>
<text x="45.75" y="136.00" font-family="'Liberation Serif', serif" font-size="10.5" fill="#222" stroke="#222" stroke-width="0.12" textLength="9.5" lengthAdjust="spacingAndGlyphs"><tspan font-style="italic">π</tspan><tspan font-style="italic" font-size="7.5" dy="1.8">z</tspan></text>
<rect x="88" y="127" width="69.00" height="32.25" fill="#fff" stroke="#d2d2d2" stroke-width="1" stroke-dasharray="2,1.5"/>
<line x1="74.5" y1="133" x2="74.5" y2="147" stroke="#222" stroke-width="1.2"/>
<circle cx="74.5" cy="133" r="2.2" fill="#111"/>
<rect x="61.5" y="147" width="25.50" height="12.25" fill="#fff" stroke="#cdcdcd" stroke-width="1" />
<text x="63.00" y="156.60" font-family="'Liberation Serif', serif" font-size="11" fill="#222" stroke="#222" stroke-width="0.12" textLength="22.5" lengthAdjust="spacingAndGlyphs"><tspan font-style="italic">R</tspan><tspan font-style="italic" font-size="6.5" dy="1.5">z</tspan><tspan dy="-1.5">(</tspan><tspan font-style="italic">θ</tspan>)</text>
<rect x="88.75" y="127" width="19.50" height="12.25" fill="#fff" stroke="#cdcdcd" stroke-width="1" />
<text x="93.75" y="136.00" font-family="'Liberation Serif', serif" font-size="10.5" fill="#222" stroke="#222" stroke-width="0.12" textLength="9.5" lengthAdjust="spacingAndGlyphs"><tspan font-style="italic">π</tspan><tspan font-style="italic" font-size="7.5" dy="1.8">z</tspan></text>
<line x1="98.75" y1="153" x2="98.75" y2="139.25" stroke="#222" stroke-width="1.2"/>
<circle cx="98.75" cy="153" r="2.2" fill="#111"/>
<rect x="112.5" y="147" width="20.00" height="12.25" fill="#fff" stroke="#cdcdcd" stroke-width="1" />
<text x="117.75" y="156.00" font-family="'Liberation Serif', serif" font-size="10.5" fill="#222" stroke="#222" stroke-width="0.12" textLength="9.5" lengthAdjust="spacingAndGlyphs"><tspan font-style="italic">π</tspan><tspan font-style="italic" font-size="7.5" dy="1.8">z</tspan></text>
<line x1="122.5" y1="133" x2="122.5" y2="147" stroke="#222" stroke-width="1.2"/>
<circle cx="122.5" cy="133" r="2.2" fill="#111"/>
<rect x="112.5" y="111.25" width="20.00" height="12.00" fill="#fff" stroke="#cdcdcd" stroke-width="1" />
<path d="M116.50,120.25 A6.00,6.00 0 0 1 128.50,120.25" fill="none" stroke="#111" stroke-width="1.1"/>
<line x1="122.80" y1="119.75" x2="126.84" y2="115.71" stroke="#111" stroke-width="1.1"/>
<polygon points="129.10,113.45 128.08,116.96 125.59,114.47" fill="#111"/>
<rect x="136.75" y="127" width="19.75" height="12.25" fill="#fff" stroke="#cdcdcd" stroke-width="1" />
<text x="146.62" y="136.60" font-family="'Liberation Serif', serif" font-size="10.5" text-anchor="middle" fill="#222" stroke="#222" stroke-width="0.12">L</text>
<line x1="10.10" y1="143.20" x2="27.12" y2="126.18" stroke="#6686e6" stroke-width="2.66"/>
<polygon points="31.64,121.66 29.47,128.52 24.78,123.83" fill="#6686e6"/>
<circle cx="19.20" cy="134.10" r="8.30" fill="url(#ge)"/>
<text x="18.20" y="135.70" font-family="'Liberation Serif', serif" font-size="13.00" text-anchor="middle" fill="#111" stroke="#111" stroke-width="0.25">e</text>
<line x1="10.10" y1="163.10" x2="27.12" y2="146.08" stroke="#62adc2" stroke-width="2.66"/>
<polygon points="31.64,141.56 29.47,148.42 24.78,143.73" fill="#62adc2"/>
<circle cx="19.20" cy="154.00" r="8.30" fill="url(#gn1)"/>
<text x="14.88" y="155.74" font-family="'Liberation Serif', serif" font-size="12.50" fill="#111" stroke="#111" stroke-width="0.25">n<tspan font-size="8.00" dy="2.08" stroke-width="0.15">1</tspan></text>
<text x="1.20" y="234.20" font-family="'Liberation Serif', serif" font-size="13.5" text-anchor="start" font-weight="bold" font-style="normal" fill="#111" stroke="#111" stroke-width="0.3">e</text>
<line x1="33.75" y1="252.5" x2="162" y2="252.5" stroke="#e0e0e0" stroke-width="1.35"/>
<line x1="33.75" y1="278.25" x2="162" y2="278.25" stroke="#e0e0e0" stroke-width="1.35"/>
<line x1="52.5" y1="252.5" x2="52.5" y2="270.25" stroke="#222" stroke-width="1.2"/>
<circle cx="52.5" cy="252.5" r="2.2" fill="#111"/>
<rect x="40" y="270.25" width="25.50" height="15.25" fill="#fff" stroke="#cdcdcd" stroke-width="1" />
<text x="42.85" y="280.60" font-family="'Liberation Serif', serif" font-size="11.5" fill="#222" stroke="#222" stroke-width="0.12" textLength="19.8" lengthAdjust="spacingAndGlyphs"><tspan font-style="italic">π</tspan><tspan font-style="italic" font-size="7.5" dy="1.8">x</tspan><tspan dy="-1.8">/2</tspan></text>
<rect x="70.5" y="270.25" width="25.00" height="15.25" fill="#fff" stroke="#cdcdcd" stroke-width="1" />
<text x="83.00" y="280.60" font-family="'Liberation Serif', serif" font-size="11.5" text-anchor="middle" fill="#222" stroke="#222" stroke-width="0.12"><tspan font-style="italic">τ</tspan></text>
<rect x="100.5" y="270.25" width="25.00" height="15.25" fill="#fff" stroke="#cdcdcd" stroke-width="1" />
<text x="103.10" y="280.60" font-family="'Liberation Serif', serif" font-size="11.5" fill="#222" stroke="#222" stroke-width="0.12" textLength="19.8" lengthAdjust="spacingAndGlyphs"><tspan font-style="italic">π</tspan><tspan font-style="italic" font-size="7.5" dy="1.8">x</tspan><tspan dy="-1.8">/2</tspan></text>
<line x1="113" y1="252.5" x2="113" y2="270.25" stroke="#222" stroke-width="1.2"/>
<circle cx="113" cy="252.5" r="2.2" fill="#111"/>
<rect x="130" y="245.25" width="25.50" height="15.00" fill="#fff" stroke="#cdcdcd" stroke-width="1" />
<path d="M135.10,257.25 A7.65,7.65 0 0 1 150.40,257.25" fill="none" stroke="#111" stroke-width="1.1"/>
<line x1="143.05" y1="256.75" x2="148.80" y2="250.16" stroke="#111" stroke-width="1.1"/>
<polygon points="151.16,247.45 150.29,251.46 147.31,248.86" fill="#111"/>
<line x1="143" y1="278.25" x2="143" y2="260.25" stroke="#222" stroke-width="1.2"/>
<circle cx="143" cy="278.25" r="2.2" fill="#111"/>
<line x1="10.01" y1="262.39" x2="26.83" y2="245.57" stroke="#6686e6" stroke-width="2.62"/>
<polygon points="31.29,241.11 29.15,247.89 24.51,243.25" fill="#6686e6"/>
<circle cx="19.00" cy="253.40" r="8.20" fill="url(#ge)"/>
<text x="18.00" y="255.00" font-family="'Liberation Serif', serif" font-size="13.00" text-anchor="middle" fill="#111" stroke="#111" stroke-width="0.25">e</text>
<line x1="10.01" y1="287.89" x2="26.83" y2="271.07" stroke="#62adc2" stroke-width="2.62"/>
<polygon points="31.29,266.61 29.15,273.39 24.51,268.75" fill="#62adc2"/>
<circle cx="19.00" cy="278.90" r="8.20" fill="url(#gn1)"/>
<text x="14.68" y="280.62" font-family="'Liberation Serif', serif" font-size="12.50" fill="#111" stroke="#111" stroke-width="0.25">n<tspan font-size="8.00" dy="2.05" stroke-width="0.15">1</tspan></text>
<text x="1.00" y="342.90" font-family="'Liberation Serif', serif" font-size="13.5" text-anchor="start" font-weight="bold" font-style="normal" fill="#111" stroke="#111" stroke-width="0.3">g</text>
<line x1="27" y1="361" x2="162" y2="361" stroke="#e0e0e0" stroke-width="1.35"/>
<line x1="27" y1="379" x2="162" y2="379" stroke="#e0e0e0" stroke-width="1.35"/>
<line x1="27" y1="396.5" x2="162" y2="396.5" stroke="#e0e0e0" stroke-width="1.35"/>
<line x1="27" y1="414.75" x2="162" y2="414.75" stroke="#e0e0e0" stroke-width="1.35"/>
<line x1="40.5" y1="361" x2="40.5" y2="391.5" stroke="#222" stroke-width="1.2"/>
<circle cx="40.5" cy="361" r="2.2" fill="#111"/>
<rect x="30" y="391.5" width="21.75" height="10.75" fill="#fff" stroke="#cdcdcd" stroke-width="1" />
<text x="30.88" y="400.00" font-family="'Liberation Serif', serif" font-size="10.5" fill="#222" stroke="#222" stroke-width="0.12" textLength="20" lengthAdjust="spacingAndGlyphs"><tspan font-style="italic">π</tspan><tspan font-style="italic" font-size="7.5" dy="1.8">x</tspan><tspan dy="-1.8">/2</tspan></text>
<rect x="53.3" y="391.5" width="18.00" height="10.75" fill="#fff" stroke="#cdcdcd" stroke-width="1" />
<text x="55.30" y="400.00" font-family="'Liberation Serif', serif" font-size="10.5" fill="#222" stroke="#222" stroke-width="0.12" textLength="14" lengthAdjust="spacingAndGlyphs"><tspan font-style="italic">τ</tspan>/2</text>
<line x1="83.75" y1="361" x2="83.75" y2="391.5" stroke="#222" stroke-width="1.2"/>
<circle cx="83.75" cy="361" r="2.2" fill="#111"/>
<rect x="74.6" y="371.6" width="18.00" height="11.10" fill="#fff" stroke="#cdcdcd" stroke-width="1" />
<text x="78.30" y="380.30" font-family="'Liberation Serif', serif" font-size="10.5" fill="#222" stroke="#222" stroke-width="0.12" textLength="10.6" lengthAdjust="spacingAndGlyphs"><tspan font-style="italic">π</tspan><tspan font-style="italic" font-size="7.5" dy="1.8">z</tspan></text>
<rect x="74.6" y="391.5" width="18.00" height="10.75" fill="#fff" stroke="#cdcdcd" stroke-width="1" />
<text x="78.30" y="400.00" font-family="'Liberation Serif', serif" font-size="10.5" fill="#222" stroke="#222" stroke-width="0.12" textLength="10.6" lengthAdjust="spacingAndGlyphs"><tspan font-style="italic">π</tspan><tspan font-style="italic" font-size="7.5" dy="1.8">z</tspan></text>
<rect x="96.3" y="391.5" width="18.00" height="10.75" fill="#fff" stroke="#cdcdcd" stroke-width="1" />
<text x="98.05" y="400.00" font-family="'Liberation Serif', serif" font-size="10.5" fill="#222" stroke="#222" stroke-width="0.12" textLength="14.5" lengthAdjust="spacingAndGlyphs"><tspan font-style="italic">τ</tspan>/2</text>
<rect x="117.1" y="391.5" width="18.80" height="10.75" fill="#fff" stroke="#cdcdcd" stroke-width="1" />
<text x="117.00" y="400.00" font-family="'Liberation Serif', serif" font-size="10.5" fill="#222" stroke="#222" stroke-width="0.12" textLength="19" lengthAdjust="spacingAndGlyphs"><tspan font-style="italic">π</tspan><tspan font-style="italic" font-size="7.5" dy="1.8">x</tspan><tspan dy="-1.8">/2</tspan></text>
<line x1="126.75" y1="361" x2="126.75" y2="391.5" stroke="#222" stroke-width="1.2"/>
<circle cx="126.75" cy="361" r="2.2" fill="#111"/>
<rect x="139.5" y="355.5" width="18.00" height="11.00" fill="#fff" stroke="#cdcdcd" stroke-width="1" />
<path d="M143.10,363.50 A5.40,5.40 0 0 1 153.90,363.50" fill="none" stroke="#111" stroke-width="1.1"/>
<line x1="148.80" y1="363.00" x2="152.34" y2="359.67" stroke="#111" stroke-width="1.1"/>
<polygon points="154.44,357.70 153.43,360.83 151.26,358.52" fill="#111"/>
<line x1="148.25" y1="396.5" x2="148.25" y2="366.5" stroke="#222" stroke-width="1.2"/>
<circle cx="148.25" cy="396.5" r="2.2" fill="#111"/>
<line x1="7.64" y1="369.96" x2="21.79" y2="355.81" stroke="#6686e6" stroke-width="2.21"/>
<polygon points="25.54,352.06 23.74,357.76 19.84,353.86" fill="#6686e6"/>
<circle cx="15.20" cy="362.40" r="6.90" fill="url(#ge)"/>
<text x="14.20" y="364.00" font-family="'Liberation Serif', serif" font-size="11.50" text-anchor="middle" fill="#111" stroke="#111" stroke-width="0.25">e</text>
<line x1="7.64" y1="387.76" x2="21.79" y2="373.61" stroke="#62adc2" stroke-width="2.21"/>
<polygon points="25.54,369.86 23.74,375.56 19.84,371.66" fill="#62adc2"/>
<circle cx="15.20" cy="380.20" r="6.90" fill="url(#gn1)"/>
<text x="11.25" y="381.65" font-family="'Liberation Serif', serif" font-size="11.50" fill="#111" stroke="#111" stroke-width="0.25">n<tspan font-size="7.50" dy="1.73" stroke-width="0.15">1</tspan></text>
<line x1="7.64" y1="405.26" x2="21.79" y2="391.11" stroke="#7287b6" stroke-width="2.21"/>
<polygon points="25.54,387.36 23.74,393.06 19.84,389.16" fill="#7287b6"/>
<circle cx="15.20" cy="397.70" r="6.90" fill="url(#gn2)"/>
<text x="11.25" y="399.15" font-family="'Liberation Serif', serif" font-size="11.50" fill="#111" stroke="#111" stroke-width="0.25">n<tspan font-size="7.50" dy="1.73" stroke-width="0.15">2</tspan></text>
<line x1="7.64" y1="422.86" x2="21.79" y2="408.71" stroke="#955fae" stroke-width="2.21"/>
<polygon points="25.54,404.96 23.74,410.66 19.84,406.76" fill="#955fae"/>
<circle cx="15.20" cy="415.30" r="6.90" fill="url(#gn3)"/>
<text x="11.25" y="416.75" font-family="'Liberation Serif', serif" font-size="11.50" fill="#111" stroke="#111" stroke-width="0.25">n<tspan font-size="7.50" dy="1.73" stroke-width="0.15">3</tspan></text></svg>
</body></html>
